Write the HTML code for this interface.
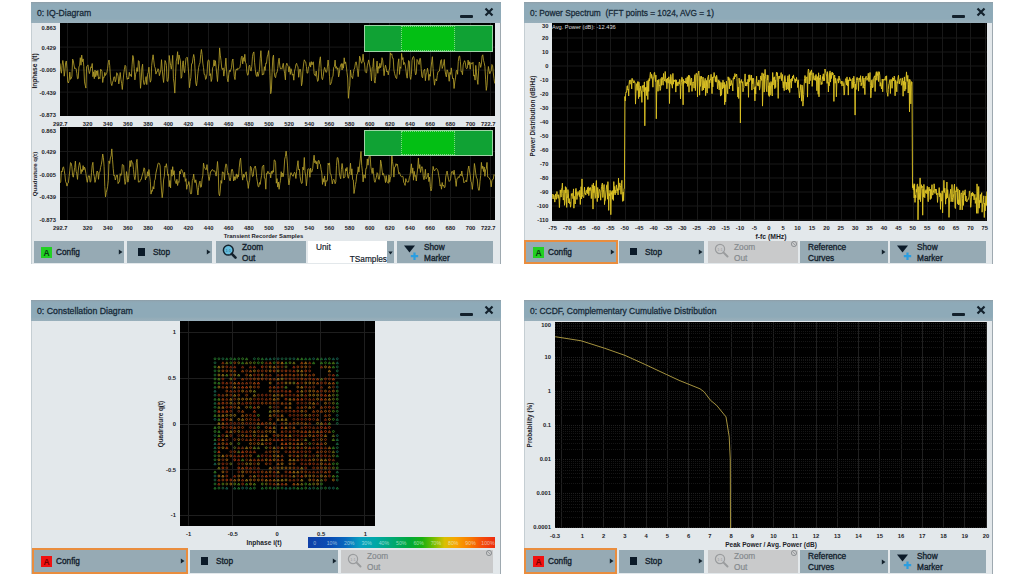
<!DOCTYPE html><html><head><meta charset="utf-8"><style>
html,body{margin:0;padding:0;background:#fff;width:1024px;height:576px;overflow:hidden;font-family:"Liberation Sans", sans-serif;}
.r{position:absolute;}
.t{position:absolute;white-space:nowrap;line-height:1;}
</style></head><body>
<div class="r" style="left:31px;top:2px;width:470px;height:262px;background:#e3e8eb;box-shadow:inset -1px 0 0 #9ea9b0, inset 1px 0 0 #c5ced3;"></div>
<div class="r" style="left:31px;top:2px;width:470px;height:21px;background:linear-gradient(180deg,#8e9ca4 0px,#8fa6b3 1px,#8eaab8 3px,#8eaab8 17px,#96adb9 19px,#98afbb 21px);"></div>
<div class="t" style="left:37px;top:12.5px;transform:translate(0,-50%);"><div style="font-size:9.6px;font-weight:normal;color:#172a38;transform:scaleX(0.9);transform-origin:0 50%;-webkit-text-stroke:0.3px #172a38;">0: IQ-Diagram</div></div>
<div class="r" style="left:460px;top:15px;width:13px;height:3px;background:#13212c;border-radius:1px;"></div>
<svg class="r" style="left:484px;top:7px" width="10" height="10" viewBox="0 0 10 10"><path d="M1.5 1.5 L8.5 8.5 M8.5 1.5 L1.5 8.5" stroke="#13212c" stroke-width="2.2"/></svg>
<div class="r" style="left:524px;top:2px;width:469px;height:262px;background:#e3e8eb;box-shadow:inset -1px 0 0 #9ea9b0, inset 1px 0 0 #c5ced3;"></div>
<div class="r" style="left:524px;top:2px;width:469px;height:21px;background:linear-gradient(180deg,#8e9ca4 0px,#8fa6b3 1px,#8eaab8 3px,#8eaab8 17px,#96adb9 19px,#98afbb 21px);"></div>
<div class="t" style="left:530px;top:12.5px;transform:translate(0,-50%);"><div style="font-size:9.6px;font-weight:normal;color:#172a38;transform:scaleX(0.868);transform-origin:0 50%;-webkit-text-stroke:0.3px #172a38;">0: Power Spectrum&nbsp; (FFT points = 1024, AVG = 1)</div></div>
<div class="r" style="left:952px;top:15px;width:13px;height:3px;background:#13212c;border-radius:1px;"></div>
<svg class="r" style="left:976px;top:7px" width="10" height="10" viewBox="0 0 10 10"><path d="M1.5 1.5 L8.5 8.5 M8.5 1.5 L1.5 8.5" stroke="#13212c" stroke-width="2.2"/></svg>
<div class="r" style="left:31px;top:300px;width:470px;height:274px;background:#e3e8eb;box-shadow:inset -1px 0 0 #9ea9b0, inset 1px 0 0 #c5ced3;"></div>
<div class="r" style="left:31px;top:300px;width:470px;height:21px;background:linear-gradient(180deg,#8e9ca4 0px,#8fa6b3 1px,#8eaab8 3px,#8eaab8 17px,#96adb9 19px,#98afbb 21px);"></div>
<div class="t" style="left:37px;top:310.5px;transform:translate(0,-50%);"><div style="font-size:9.6px;font-weight:normal;color:#172a38;transform:scaleX(0.912);transform-origin:0 50%;-webkit-text-stroke:0.3px #172a38;">0: Constellation Diagram</div></div>
<div class="r" style="left:460px;top:313px;width:13px;height:3px;background:#13212c;border-radius:1px;"></div>
<svg class="r" style="left:484px;top:305px" width="10" height="10" viewBox="0 0 10 10"><path d="M1.5 1.5 L8.5 8.5 M8.5 1.5 L1.5 8.5" stroke="#13212c" stroke-width="2.2"/></svg>
<div class="r" style="left:524px;top:300px;width:469px;height:274px;background:#e3e8eb;box-shadow:inset -1px 0 0 #9ea9b0, inset 1px 0 0 #c5ced3;"></div>
<div class="r" style="left:524px;top:300px;width:469px;height:21px;background:linear-gradient(180deg,#8e9ca4 0px,#8fa6b3 1px,#8eaab8 3px,#8eaab8 17px,#96adb9 19px,#98afbb 21px);"></div>
<div class="t" style="left:530px;top:310.5px;transform:translate(0,-50%);"><div style="font-size:9.6px;font-weight:normal;color:#172a38;transform:scaleX(0.885);transform-origin:0 50%;-webkit-text-stroke:0.3px #172a38;">0: CCDF, Complementary Cumulative Distribution</div></div>
<div class="r" style="left:952px;top:313px;width:13px;height:3px;background:#13212c;border-radius:1px;"></div>
<svg class="r" style="left:976px;top:305px" width="10" height="10" viewBox="0 0 10 10"><path d="M1.5 1.5 L8.5 8.5 M8.5 1.5 L1.5 8.5" stroke="#13212c" stroke-width="2.2"/></svg>
<div class="r" style="left:60px;top:23.4px;width:435px;height:92.6px;background:#000;"></div>
<svg class="r" style="left:60px;top:23.4px;overflow:hidden" width="435" height="92.6" viewBox="60 23.4 435 92.6">
<line x1="67.5" y1="23.4" x2="67.5" y2="116" stroke="#181818" stroke-width="1"/>
<line x1="87.5" y1="23.4" x2="87.5" y2="116" stroke="#181818" stroke-width="1"/>
<line x1="107.5" y1="23.4" x2="107.5" y2="116" stroke="#181818" stroke-width="1"/>
<line x1="127.5" y1="23.4" x2="127.5" y2="116" stroke="#181818" stroke-width="1"/>
<line x1="148.5" y1="23.4" x2="148.5" y2="116" stroke="#181818" stroke-width="1"/>
<line x1="168.5" y1="23.4" x2="168.5" y2="116" stroke="#181818" stroke-width="1"/>
<line x1="188.5" y1="23.4" x2="188.5" y2="116" stroke="#181818" stroke-width="1"/>
<line x1="208.5" y1="23.4" x2="208.5" y2="116" stroke="#181818" stroke-width="1"/>
<line x1="228.5" y1="23.4" x2="228.5" y2="116" stroke="#181818" stroke-width="1"/>
<line x1="248.5" y1="23.4" x2="248.5" y2="116" stroke="#181818" stroke-width="1"/>
<line x1="269.5" y1="23.4" x2="269.5" y2="116" stroke="#181818" stroke-width="1"/>
<line x1="289.5" y1="23.4" x2="289.5" y2="116" stroke="#181818" stroke-width="1"/>
<line x1="309.5" y1="23.4" x2="309.5" y2="116" stroke="#181818" stroke-width="1"/>
<line x1="329.5" y1="23.4" x2="329.5" y2="116" stroke="#181818" stroke-width="1"/>
<line x1="349.5" y1="23.4" x2="349.5" y2="116" stroke="#181818" stroke-width="1"/>
<line x1="369.5" y1="23.4" x2="369.5" y2="116" stroke="#181818" stroke-width="1"/>
<line x1="389.5" y1="23.4" x2="389.5" y2="116" stroke="#181818" stroke-width="1"/>
<line x1="410.5" y1="23.4" x2="410.5" y2="116" stroke="#181818" stroke-width="1"/>
<line x1="430.5" y1="23.4" x2="430.5" y2="116" stroke="#181818" stroke-width="1"/>
<line x1="450.5" y1="23.4" x2="450.5" y2="116" stroke="#181818" stroke-width="1"/>
<line x1="470.5" y1="23.4" x2="470.5" y2="116" stroke="#181818" stroke-width="1"/>
<line x1="490.5" y1="23.4" x2="490.5" y2="116" stroke="#181818" stroke-width="1"/>
<line x1="60" y1="47.5" x2="495" y2="47.5" stroke="#181818" stroke-width="1"/>
<line x1="60" y1="70.5" x2="495" y2="70.5" stroke="#181818" stroke-width="1"/>
<line x1="60" y1="92.5" x2="495" y2="92.5" stroke="#181818" stroke-width="1"/>
<path d="M60.0 63.8 L60.7 70.3 L61.4 73.6 L62.1 65.8 L62.8 60.9 L63.5 65.4 L64.2 76.6 L64.9 71.3 L65.6 63.2 L66.3 61.4 L67.0 69.1 L67.7 82.2 L68.4 83.4 L69.1 80.8 L69.8 72.5 L70.5 79.8 L71.2 78.9 L71.9 76.6 L72.6 59.5 L73.3 61.2 L74.0 65.5 L74.7 69.2 L75.4 68.5 L76.1 69.0 L76.8 73.8 L77.5 79.2 L78.2 78.9 L78.9 67.4 L79.6 65.6 L80.3 58.1 L81.0 65.6 L81.7 55.5 L82.4 62.1 L83.1 59.3 L83.8 67.1 L84.5 82.3 L85.2 85.6 L85.9 88.5 L86.6 67.2 L87.3 66.1 L88.0 65.3 L88.7 71.0 L89.4 74.0 L90.1 71.4 L90.8 67.2 L91.5 68.1 L92.2 63.9 L92.9 77.1 L93.6 72.2 L94.3 79.1 L95.0 70.5 L95.7 77.2 L96.4 71.3 L97.1 75.9 L97.8 70.9 L98.5 79.5 L99.2 77.8 L99.9 79.0 L100.6 69.6 L101.3 70.3 L102.0 71.8 L102.7 82.9 L103.4 77.6 L104.1 78.0 L104.8 72.8 L105.5 75.9 L106.2 74.3 L106.9 72.8 L107.6 68.7 L108.3 63.1 L109.0 60.4 L109.7 65.9 L110.4 77.5 L111.1 83.9 L111.8 86.0 L112.5 82.6 L113.2 81.3 L113.9 77.3 L114.6 77.3 L115.3 82.2 L116.0 79.9 L116.7 73.1 L117.4 74.0 L118.1 76.6 L118.8 84.3 L119.5 79.3 L120.2 72.9 L120.9 79.7 L121.6 83.8 L122.3 89.9 L123.0 82.1 L123.7 74.5 L124.4 69.6 L125.1 65.7 L125.8 66.8 L126.5 76.0 L127.2 79.8 L127.9 78.3 L128.6 79.4 L129.3 72.7 L130.0 76.1 L130.7 74.9 L131.4 77.1 L132.1 65.2 L132.8 55.9 L133.5 58.3 L134.2 69.0 L134.9 80.3 L135.6 74.6 L136.3 72.2 L137.0 68.0 L137.7 71.9 L138.4 61.0 L139.1 61.7 L139.8 73.1 L140.5 88.7 L141.2 80.7 L141.9 68.2 L142.6 64.6 L143.3 80.3 L144.0 85.0 L144.7 84.5 L145.4 80.2 L146.1 77.0 L146.8 85.0 L147.5 74.7 L148.2 72.9 L148.9 67.6 L149.6 77.4 L150.3 82.6 L151.0 80.6 L151.7 65.7 L152.4 59.4 L153.1 55.2 L153.8 61.1 L154.5 67.1 L155.2 68.4 L155.9 74.5 L156.6 72.1 L157.3 72.1 L158.0 69.1 L158.7 70.7 L159.4 76.1 L160.1 73.4 L160.8 70.3 L161.5 60.1 L162.2 69.7 L162.9 77.5 L163.6 82.9 L164.3 73.3 L165.0 60.9 L165.7 62.5 L166.4 65.7 L167.1 81.5 L167.8 81.8 L168.5 77.3 L169.2 55.9 L169.9 61.3 L170.6 65.8 L171.3 69.6 L172.0 64.0 L172.7 55.7 L173.4 79.1 L174.1 83.4 L174.8 93.5 L175.5 76.7 L176.2 61.6 L176.9 58.4 L177.6 52.1 L178.3 64.7 L179.0 55.4 L179.7 58.4 L180.4 61.2 L181.1 78.7 L181.8 77.4 L182.5 64.7 L183.2 61.2 L183.9 70.6 L184.6 73.1 L185.3 65.8 L186.0 58.7 L186.7 57.8 L187.4 57.9 L188.1 66.8 L188.8 75.5 L189.5 88.1 L190.2 81.9 L190.9 78.1 L191.6 64.1 L192.3 63.9 L193.0 58.5 L193.7 54.9 L194.4 58.6 L195.1 71.3 L195.8 83.4 L196.5 86.3 L197.2 80.8 L197.9 73.7 L198.6 67.9 L199.3 65.0 L200.0 63.2 L200.7 55.0 L201.4 49.9 L202.1 55.0 L202.8 63.5 L203.5 68.1 L204.2 74.8 L204.9 74.9 L205.6 79.8 L206.3 78.8 L207.0 74.2 L207.7 62.4 L208.4 60.3 L209.1 60.9 L209.8 76.0 L210.5 74.1 L211.2 81.9 L211.9 79.4 L212.6 68.2 L213.3 66.9 L214.0 60.3 L214.7 66.4 L215.4 61.1 L216.1 67.7 L216.8 75.3 L217.5 81.9 L218.2 70.8 L218.9 64.0 L219.6 48.3 L220.3 55.5 L221.0 61.0 L221.7 68.4 L222.4 70.0 L223.1 68.3 L223.8 76.5 L224.5 71.6 L225.2 66.7 L225.9 58.5 L226.6 70.4 L227.3 79.2 L228.0 82.2 L228.7 75.2 L229.4 70.7 L230.1 72.2 L230.8 70.2 L231.5 68.1 L232.2 61.4 L232.9 59.4 L233.6 68.5 L234.3 76.8 L235.0 80.0 L235.7 71.4 L236.4 69.3 L237.1 70.6 L237.8 68.6 L238.5 69.2 L239.2 68.7 L239.9 68.2 L240.6 63.7 L241.3 58.0 L242.0 56.5 L242.7 64.3 L243.4 58.0 L244.1 61.7 L244.8 54.7 L245.5 62.8 L246.2 64.4 L246.9 72.5 L247.6 75.7 L248.3 74.6 L249.0 66.5 L249.7 65.6 L250.4 70.5 L251.1 71.5 L251.8 66.8 L252.5 56.7 L253.2 53.5 L253.9 52.3 L254.6 63.2 L255.3 70.0 L256.0 75.3 L256.7 76.9 L257.4 72.3 L258.1 76.8 L258.8 73.8 L259.5 69.7 L260.2 59.1 L260.9 51.1 L261.6 62.4 L262.3 75.5 L263.0 74.2 L263.7 74.8 L264.4 67.1 L265.1 70.9 L265.8 63.5 L266.5 63.8 L267.2 57.3 L267.9 55.2 L268.6 51.0 L269.3 61.6 L270.0 75.9 L270.7 94.1 L271.4 90.3 L272.1 72.8 L272.8 58.3 L273.5 55.5 L274.2 72.6 L274.9 77.1 L275.6 78.1 L276.3 73.2 L277.0 73.1 L277.7 69.0 L278.4 62.2 L279.1 58.6 L279.8 66.2 L280.5 69.3 L281.2 68.8 L281.9 69.6 L282.6 66.3 L283.3 63.7 L284.0 69.8 L284.7 74.2 L285.4 80.3 L286.1 66.0 L286.8 63.6 L287.5 65.3 L288.2 66.7 L288.9 72.5 L289.6 67.0 L290.3 74.8 L291.0 69.1 L291.7 71.9 L292.4 75.6 L293.1 74.4 L293.8 80.6 L294.5 71.4 L295.2 69.0 L295.9 65.0 L296.6 63.7 L297.3 66.3 L298.0 67.2 L298.7 77.7 L299.4 71.2 L300.1 69.4 L300.8 72.5 L301.5 86.2 L302.2 82.7 L302.9 71.3 L303.6 64.4 L304.3 60.2 L305.0 61.8 L305.7 62.3 L306.4 66.9 L307.1 73.6 L307.8 73.4 L308.5 67.3 L309.2 66.7 L309.9 62.8 L310.6 67.5 L311.3 62.0 L312.0 65.4 L312.7 62.8 L313.4 62.3 L314.1 74.0 L314.8 75.8 L315.5 76.3 L316.2 71.4 L316.9 77.6 L317.6 81.8 L318.3 80.6 L319.0 68.1 L319.7 60.6 L320.4 57.2 L321.1 68.6 L321.8 78.5 L322.5 80.1 L323.2 76.7 L323.9 70.9 L324.6 67.8 L325.3 70.0 L326.0 72.9 L326.7 72.3 L327.4 67.5 L328.1 60.4 L328.8 67.0 L329.5 76.7 L330.2 85.2 L330.9 84.1 L331.6 82.0 L332.3 77.4 L333.0 76.6 L333.7 67.9 L334.4 66.9 L335.1 60.5 L335.8 68.7 L336.5 67.0 L337.2 69.8 L337.9 68.3 L338.6 77.3 L339.3 74.1 L340.0 67.9 L340.7 65.5 L341.4 64.0 L342.1 70.4 L342.8 64.0 L343.5 68.6 L344.2 58.2 L344.9 64.1 L345.6 62.3 L346.3 66.5 L347.0 72.8 L347.7 78.4 L348.4 98.7 L349.1 91.0 L349.8 86.1 L350.5 70.4 L351.2 76.0 L351.9 77.4 L352.6 79.0 L353.3 74.0 L354.0 69.9 L354.7 68.4 L355.4 63.7 L356.1 62.2 L356.8 65.6 L357.5 71.0 L358.2 77.1 L358.9 68.9 L359.6 56.6 L360.3 58.5 L361.0 62.2 L361.7 63.7 L362.4 61.2 L363.1 54.6 L363.8 62.3 L364.5 63.2 L365.2 71.8 L365.9 73.0 L366.6 73.1 L367.3 66.2 L368.0 63.4 L368.7 60.3 L369.4 64.5 L370.1 67.5 L370.8 72.7 L371.5 81.3 L372.2 68.2 L372.9 67.2 L373.6 58.8 L374.3 81.1 L375.0 83.5 L375.7 76.8 L376.4 68.2 L377.1 61.5 L377.8 73.7 L378.5 67.0 L379.2 68.9 L379.9 63.7 L380.6 68.1 L381.3 65.9 L382.0 58.1 L382.7 60.6 L383.4 67.9 L384.1 76.1 L384.8 69.3 L385.5 65.6 L386.2 68.5 L386.9 72.4 L387.6 71.4 L388.3 75.3 L389.0 70.9 L389.7 68.4 L390.4 53.2 L391.1 55.1 L391.8 54.2 L392.5 58.6 L393.2 58.6 L393.9 70.3 L394.6 73.8 L395.3 76.5 L396.0 78.4 L396.7 79.0 L397.4 71.5 L398.1 63.3 L398.8 59.2 L399.5 74.8 L400.2 67.2 L400.9 68.8 L401.6 53.8 L402.3 60.0 L403.0 58.0 L403.7 65.1 L404.4 62.9 L405.1 64.8 L405.8 69.4 L406.5 75.5 L407.2 78.6 L407.9 70.1 L408.6 60.9 L409.3 61.8 L410.0 77.0 L410.7 79.8 L411.4 75.0 L412.1 60.7 L412.8 57.8 L413.5 56.9 L414.2 59.2 L414.9 70.8 L415.6 75.3 L416.3 73.9 L417.0 59.9 L417.7 60.9 L418.4 63.1 L419.1 64.9 L419.8 58.9 L420.5 58.8 L421.2 69.1 L421.9 77.0 L422.6 78.2 L423.3 72.0 L424.0 70.6 L424.7 69.6 L425.4 81.1 L426.1 74.4 L426.8 72.8 L427.5 68.6 L428.2 72.6 L428.9 80.8 L429.6 74.8 L430.3 76.7 L431.0 68.4 L431.7 62.3 L432.4 57.1 L433.1 69.0 L433.8 78.4 L434.5 85.6 L435.2 79.8 L435.9 79.5 L436.6 81.4 L437.3 75.8 L438.0 72.1 L438.7 71.9 L439.4 71.5 L440.1 66.4 L440.8 60.9 L441.5 60.0 L442.2 68.9 L442.9 66.7 L443.6 64.3 L444.3 59.9 L445.0 70.4 L445.7 75.1 L446.4 77.3 L447.1 70.2 L447.8 71.8 L448.5 75.3 L449.2 81.7 L449.9 72.8 L450.6 74.8 L451.3 68.3 L452.0 74.4 L452.7 79.2 L453.4 78.5 L454.1 88.9 L454.8 82.3 L455.5 78.3 L456.2 71.6 L456.9 70.6 L457.6 74.7 L458.3 61.8 L459.0 56.8 L459.7 56.5 L460.4 62.1 L461.1 72.1 L461.8 71.8 L462.5 75.1 L463.2 65.3 L463.9 62.9 L464.6 61.1 L465.3 62.9 L466.0 68.0 L466.7 69.2 L467.4 68.4 L468.1 60.5 L468.8 65.2 L469.5 62.2 L470.2 69.6 L470.9 63.0 L471.6 64.1 L472.3 64.1 L473.0 62.7 L473.7 76.5 L474.4 75.3 L475.1 80.5 L475.8 65.8 L476.5 73.3 L477.2 80.0 L477.9 84.8 L478.6 71.1 L479.3 62.4 L480.0 63.9 L480.7 67.8 L481.4 64.7 L482.1 56.4 L482.8 55.2 L483.5 60.7 L484.2 63.2 L484.9 66.8 L485.6 79.6 L486.3 90.8 L487.0 85.9 L487.7 74.6 L488.4 66.9 L489.1 71.0 L489.8 74.2 L490.5 72.3 L491.2 71.4 L491.9 64.9 L492.6 66.0 L493.3 73.4 L494.0 78.7 L494.7 83.9" fill="none" stroke="#b49e2a" stroke-width="0.85" stroke-linejoin="round"/>
</svg>
<div class="r" style="left:364px;top:25px;width:129px;height:27px;background:#10a234;box-shadow:inset 0 0 0 1px #9fd4a6;"></div>
<div class="r" style="left:401px;top:26px;width:54px;height:25px;background:#03bf14;border:1px dotted #7ad884;box-sizing:border-box;"></div>
<div class="t" style="left:56px;top:28.7px;font-size:5.8px;font-weight:bold;color:#1c2228;transform:translate(-100%,-50%);">0.863</div>
<div class="t" style="left:56px;top:48.7px;font-size:5.8px;font-weight:bold;color:#1c2228;transform:translate(-100%,-50%);">0.429</div>
<div class="t" style="left:56px;top:71.4px;font-size:5.8px;font-weight:bold;color:#1c2228;transform:translate(-100%,-50%);">-0.005</div>
<div class="t" style="left:56px;top:93.9px;font-size:5.8px;font-weight:bold;color:#1c2228;transform:translate(-100%,-50%);">-0.439</div>
<div class="t" style="left:56px;top:116.2px;font-size:5.8px;font-weight:bold;color:#1c2228;transform:translate(-100%,-50%);">-0.873</div>
<div class="r" style="left:60px;top:127px;width:435px;height:93px;background:#000;"></div>
<svg class="r" style="left:60px;top:127px;overflow:hidden" width="435" height="93" viewBox="60 127 435 93">
<line x1="67.5" y1="127" x2="67.5" y2="220" stroke="#181818" stroke-width="1"/>
<line x1="87.5" y1="127" x2="87.5" y2="220" stroke="#181818" stroke-width="1"/>
<line x1="107.5" y1="127" x2="107.5" y2="220" stroke="#181818" stroke-width="1"/>
<line x1="127.5" y1="127" x2="127.5" y2="220" stroke="#181818" stroke-width="1"/>
<line x1="148.5" y1="127" x2="148.5" y2="220" stroke="#181818" stroke-width="1"/>
<line x1="168.5" y1="127" x2="168.5" y2="220" stroke="#181818" stroke-width="1"/>
<line x1="188.5" y1="127" x2="188.5" y2="220" stroke="#181818" stroke-width="1"/>
<line x1="208.5" y1="127" x2="208.5" y2="220" stroke="#181818" stroke-width="1"/>
<line x1="228.5" y1="127" x2="228.5" y2="220" stroke="#181818" stroke-width="1"/>
<line x1="248.5" y1="127" x2="248.5" y2="220" stroke="#181818" stroke-width="1"/>
<line x1="269.5" y1="127" x2="269.5" y2="220" stroke="#181818" stroke-width="1"/>
<line x1="289.5" y1="127" x2="289.5" y2="220" stroke="#181818" stroke-width="1"/>
<line x1="309.5" y1="127" x2="309.5" y2="220" stroke="#181818" stroke-width="1"/>
<line x1="329.5" y1="127" x2="329.5" y2="220" stroke="#181818" stroke-width="1"/>
<line x1="349.5" y1="127" x2="349.5" y2="220" stroke="#181818" stroke-width="1"/>
<line x1="369.5" y1="127" x2="369.5" y2="220" stroke="#181818" stroke-width="1"/>
<line x1="389.5" y1="127" x2="389.5" y2="220" stroke="#181818" stroke-width="1"/>
<line x1="410.5" y1="127" x2="410.5" y2="220" stroke="#181818" stroke-width="1"/>
<line x1="430.5" y1="127" x2="430.5" y2="220" stroke="#181818" stroke-width="1"/>
<line x1="450.5" y1="127" x2="450.5" y2="220" stroke="#181818" stroke-width="1"/>
<line x1="470.5" y1="127" x2="470.5" y2="220" stroke="#181818" stroke-width="1"/>
<line x1="490.5" y1="127" x2="490.5" y2="220" stroke="#181818" stroke-width="1"/>
<line x1="60" y1="151.5" x2="495" y2="151.5" stroke="#181818" stroke-width="1"/>
<line x1="60" y1="174.5" x2="495" y2="174.5" stroke="#181818" stroke-width="1"/>
<line x1="60" y1="197.5" x2="495" y2="197.5" stroke="#181818" stroke-width="1"/>
<path d="M60.0 182.9 L60.7 182.0 L61.4 171.0 L62.1 172.0 L62.8 167.9 L63.5 166.8 L64.2 170.3 L64.9 174.7 L65.6 181.6 L66.3 183.0 L67.0 186.1 L67.7 183.4 L68.4 182.8 L69.1 176.7 L69.8 170.2 L70.5 162.6 L71.2 163.2 L71.9 166.8 L72.6 175.4 L73.3 177.2 L74.0 172.3 L74.7 167.6 L75.4 161.1 L76.1 171.2 L76.8 173.9 L77.5 179.4 L78.2 170.9 L78.9 165.6 L79.6 162.5 L80.3 166.0 L81.0 173.8 L81.7 169.6 L82.4 171.5 L83.1 165.6 L83.8 170.1 L84.5 167.1 L85.2 169.0 L85.9 173.4 L86.6 178.8 L87.3 182.3 L88.0 177.8 L88.7 175.7 L89.4 175.9 L90.1 182.2 L90.8 181.5 L91.5 172.6 L92.2 165.3 L92.9 162.3 L93.6 173.7 L94.3 176.5 L95.0 182.4 L95.7 179.5 L96.4 174.8 L97.1 171.0 L97.8 172.1 L98.5 179.3 L99.2 172.4 L99.9 171.9 L100.6 167.4 L101.3 164.6 L102.0 160.2 L102.7 154.0 L103.4 157.7 L104.1 166.7 L104.8 186.5 L105.5 196.9 L106.2 192.4 L106.9 189.9 L107.6 186.7 L108.3 180.4 L109.0 160.9 L109.7 163.5 L110.4 157.8 L111.1 155.9 L111.8 148.9 L112.5 159.3 L113.2 168.3 L113.9 175.9 L114.6 175.2 L115.3 180.0 L116.0 177.3 L116.7 175.1 L117.4 175.1 L118.1 183.6 L118.8 182.0 L119.5 181.8 L120.2 173.7 L120.9 175.5 L121.6 174.6 L122.3 164.5 L123.0 165.0 L123.7 165.4 L124.4 178.1 L125.1 184.4 L125.8 181.6 L126.5 171.6 L127.2 175.6 L127.9 182.2 L128.6 178.6 L129.3 168.8 L130.0 160.7 L130.7 166.6 L131.4 160.4 L132.1 162.6 L132.8 163.0 L133.5 169.7 L134.2 176.3 L134.9 179.7 L135.6 175.2 L136.3 162.7 L137.0 159.3 L137.7 170.0 L138.4 182.1 L139.1 181.8 L139.8 181.9 L140.5 179.6 L141.2 179.6 L141.9 176.3 L142.6 174.0 L143.3 171.7 L144.0 167.8 L144.7 168.9 L145.4 179.9 L146.1 177.2 L146.8 177.5 L147.5 171.7 L148.2 176.1 L148.9 169.5 L149.6 175.2 L150.3 181.3 L151.0 194.1 L151.7 190.5 L152.4 191.3 L153.1 186.6 L153.8 189.0 L154.5 180.7 L155.2 179.3 L155.9 173.3 L156.6 170.0 L157.3 167.1 L158.0 163.4 L158.7 163.2 L159.4 163.4 L160.1 165.7 L160.8 180.2 L161.5 190.1 L162.2 197.7 L162.9 191.9 L163.6 180.0 L164.3 176.3 L165.0 166.1 L165.7 167.2 L166.4 163.7 L167.1 168.7 L167.8 175.4 L168.5 174.0 L169.2 186.7 L169.9 180.5 L170.6 187.9 L171.3 169.7 L172.0 176.2 L172.7 166.7 L173.4 174.9 L174.1 170.7 L174.8 180.1 L175.5 181.9 L176.2 183.7 L176.9 179.3 L177.6 185.5 L178.3 181.6 L179.0 182.3 L179.7 171.2 L180.4 174.0 L181.1 169.5 L181.8 169.8 L182.5 171.5 L183.2 173.2 L183.9 177.2 L184.6 172.3 L185.3 181.4 L186.0 178.7 L186.7 189.3 L187.4 185.1 L188.1 185.1 L188.8 181.5 L189.5 184.5 L190.2 192.1 L190.9 194.1 L191.6 192.9 L192.3 180.5 L193.0 178.5 L193.7 174.0 L194.4 181.2 L195.1 182.7 L195.8 179.8 L196.5 184.0 L197.2 189.2 L197.9 195.0 L198.6 187.5 L199.3 182.8 L200.0 181.1 L200.7 187.4 L201.4 186.8 L202.1 179.1 L202.8 175.8 L203.5 163.1 L204.2 166.7 L204.9 168.0 L205.6 169.5 L206.3 169.5 L207.0 164.6 L207.7 171.5 L208.4 176.3 L209.1 180.5 L209.8 176.7 L210.5 171.7 L211.2 171.5 L211.9 169.8 L212.6 169.6 L213.3 170.9 L214.0 171.2 L214.7 170.8 L215.4 172.7 L216.1 176.1 L216.8 170.1 L217.5 161.5 L218.2 170.6 L218.9 193.7 L219.6 195.8 L220.3 190.1 L221.0 180.5 L221.7 183.3 L222.4 171.8 L223.1 173.0 L223.8 172.8 L224.5 180.0 L225.2 168.1 L225.9 163.9 L226.6 164.4 L227.3 170.7 L228.0 174.6 L228.7 173.4 L229.4 179.1 L230.1 180.9 L230.8 177.4 L231.5 170.0 L232.2 169.1 L232.9 171.8 L233.6 181.0 L234.3 176.6 L235.0 180.2 L235.7 176.6 L236.4 173.9 L237.1 178.5 L237.8 174.7 L238.5 176.7 L239.2 167.8 L239.9 161.0 L240.6 158.1 L241.3 168.0 L242.0 175.2 L242.7 180.1 L243.4 174.1 L244.1 177.4 L244.8 175.0 L245.5 173.2 L246.2 171.8 L246.9 180.0 L247.6 182.1 L248.3 188.4 L249.0 182.9 L249.7 180.2 L250.4 166.3 L251.1 167.1 L251.8 171.5 L252.5 176.7 L253.2 176.1 L253.9 168.8 L254.6 167.2 L255.3 166.0 L256.0 170.0 L256.7 177.6 L257.4 181.9 L258.1 186.5 L258.8 186.9 L259.5 182.5 L260.2 184.4 L260.9 179.3 L261.6 175.4 L262.3 166.6 L263.0 166.0 L263.7 165.0 L264.4 178.2 L265.1 178.4 L265.8 189.2 L266.5 173.3 L267.2 173.9 L267.9 171.2 L268.6 173.2 L269.3 173.9 L270.0 172.8 L270.7 177.9 L271.4 171.3 L272.1 173.6 L272.8 170.6 L273.5 172.2 L274.2 159.9 L274.9 160.3 L275.6 162.5 L276.3 183.2 L277.0 178.6 L277.7 187.1 L278.4 182.0 L279.1 189.3 L279.8 183.7 L280.5 180.3 L281.2 171.7 L281.9 177.0 L282.6 173.2 L283.3 176.6 L284.0 170.1 L284.7 159.1 L285.4 156.5 L286.1 151.1 L286.8 156.5 L287.5 165.1 L288.2 177.7 L288.9 184.9 L289.6 180.8 L290.3 175.0 L291.0 172.6 L291.7 174.7 L292.4 175.1 L293.1 176.3 L293.8 173.8 L294.5 172.3 L295.2 173.6 L295.9 178.5 L296.6 171.4 L297.3 166.0 L298.0 160.7 L298.7 169.8 L299.4 169.0 L300.1 176.7 L300.8 181.0 L301.5 183.5 L302.2 183.1 L302.9 167.1 L303.6 169.9 L304.3 157.5 L305.0 171.9 L305.7 176.1 L306.4 185.8 L307.1 178.2 L307.8 169.2 L308.5 168.8 L309.2 169.1 L309.9 177.3 L310.6 168.1 L311.3 172.3 L312.0 171.6 L312.7 168.5 L313.4 160.8 L314.1 155.2 L314.8 162.8 L315.5 160.7 L316.2 164.0 L316.9 161.5 L317.6 169.0 L318.3 160.6 L319.0 160.4 L319.7 163.8 L320.4 164.4 L321.1 169.6 L321.8 173.0 L322.5 184.4 L323.2 178.6 L323.9 182.1 L324.6 175.9 L325.3 186.1 L326.0 180.4 L326.7 181.4 L327.4 180.1 L328.1 163.2 L328.8 165.0 L329.5 162.9 L330.2 173.8 L330.9 174.0 L331.6 178.1 L332.3 183.9 L333.0 180.5 L333.7 179.3 L334.4 180.3 L335.1 183.7 L335.8 181.8 L336.5 165.4 L337.2 157.7 L337.9 157.7 L338.6 162.0 L339.3 173.0 L340.0 176.5 L340.7 178.8 L341.4 169.7 L342.1 163.5 L342.8 169.0 L343.5 178.0 L344.2 177.8 L344.9 177.0 L345.6 168.7 L346.3 171.0 L347.0 167.4 L347.7 176.4 L348.4 178.3 L349.1 174.4 L349.8 171.4 L350.5 163.2 L351.2 175.0 L351.9 168.8 L352.6 179.5 L353.3 179.9 L354.0 193.5 L354.7 189.2 L355.4 184.6 L356.1 181.3 L356.8 174.2 L357.5 173.8 L358.2 166.8 L358.9 172.1 L359.6 165.1 L360.3 158.9 L361.0 151.5 L361.7 165.3 L362.4 171.4 L363.1 181.9 L363.8 174.7 L364.5 175.2 L365.2 178.2 L365.9 168.3 L366.6 168.3 L367.3 158.9 L368.0 165.2 L368.7 158.9 L369.4 155.5 L370.1 154.2 L370.8 166.5 L371.5 170.3 L372.2 173.6 L372.9 167.9 L373.6 173.8 L374.3 180.6 L375.0 182.3 L375.7 179.5 L376.4 177.2 L377.1 172.7 L377.8 173.7 L378.5 179.0 L379.2 179.6 L379.9 174.8 L380.6 160.1 L381.3 163.3 L382.0 170.0 L382.7 175.1 L383.4 173.4 L384.1 175.9 L384.8 177.9 L385.5 182.6 L386.2 175.6 L386.9 181.3 L387.6 182.3 L388.3 183.3 L389.0 174.8 L389.7 182.2 L390.4 178.0 L391.1 176.3 L391.8 153.6 L392.5 161.5 L393.2 166.2 L393.9 177.1 L394.6 167.1 L395.3 166.9 L396.0 163.7 L396.7 165.3 L397.4 164.2 L398.1 169.1 L398.8 173.8 L399.5 172.6 L400.2 174.5 L400.9 176.3 L401.6 176.9 L402.3 176.2 L403.0 176.5 L403.7 182.3 L404.4 183.4 L405.1 185.4 L405.8 178.6 L406.5 180.8 L407.2 182.0 L407.9 182.2 L408.6 181.9 L409.3 177.8 L410.0 175.8 L410.7 170.0 L411.4 163.8 L412.1 173.4 L412.8 167.9 L413.5 180.2 L414.2 171.3 L414.9 176.4 L415.6 175.5 L416.3 181.0 L417.0 174.2 L417.7 167.9 L418.4 158.1 L419.1 168.5 L419.8 164.6 L420.5 172.4 L421.2 168.8 L421.9 166.6 L422.6 168.5 L423.3 177.1 L424.0 179.7 L424.7 175.7 L425.4 169.3 L426.1 178.9 L426.8 177.6 L427.5 176.8 L428.2 173.0 L428.9 181.6 L429.6 177.1 L430.3 186.5 L431.0 190.9 L431.7 188.5 L432.4 173.9 L433.1 166.4 L433.8 169.7 L434.5 170.9 L435.2 169.3 L435.9 168.9 L436.6 168.5 L437.3 169.4 L438.0 171.0 L438.7 175.3 L439.4 179.1 L440.1 185.9 L440.8 184.7 L441.5 189.2 L442.2 182.5 L442.9 186.1 L443.6 185.0 L444.3 187.6 L445.0 187.3 L445.7 177.1 L446.4 173.7 L447.1 171.0 L447.8 175.2 L448.5 179.4 L449.2 181.5 L449.9 180.8 L450.6 178.8 L451.3 173.1 L452.0 171.2 L452.7 171.8 L453.4 174.5 L454.1 170.2 L454.8 175.6 L455.5 180.6 L456.2 186.4 L456.9 178.7 L457.6 178.7 L458.3 176.7 L459.0 177.7 L459.7 175.5 L460.4 174.1 L461.1 175.8 L461.8 171.0 L462.5 176.1 L463.2 177.4 L463.9 182.8 L464.6 182.1 L465.3 181.6 L466.0 180.2 L466.7 181.8 L467.4 176.1 L468.1 169.2 L468.8 166.0 L469.5 170.9 L470.2 175.1 L470.9 181.4 L471.6 182.8 L472.3 189.4 L473.0 183.2 L473.7 175.1 L474.4 163.5 L475.1 167.8 L475.8 174.1 L476.5 178.0 L477.2 178.9 L477.9 186.4 L478.6 190.2 L479.3 190.2 L480.0 181.3 L480.7 175.4 L481.4 162.4 L482.1 168.6 L482.8 166.0 L483.5 171.5 L484.2 167.0 L484.9 176.3 L485.6 169.9 L486.3 168.5 L487.0 162.4 L487.7 177.0 L488.4 177.2 L489.1 177.9 L489.8 179.0 L490.5 180.6 L491.2 186.9 L491.9 180.8 L492.6 179.4 L493.3 179.2 L494.0 174.6 L494.7 175.4" fill="none" stroke="#b49e2a" stroke-width="0.85" stroke-linejoin="round"/>
</svg>
<div class="r" style="left:364px;top:129.5px;width:129px;height:26.5px;background:#10a234;box-shadow:inset 0 0 0 1px #9fd4a6;"></div>
<div class="r" style="left:401px;top:130.5px;width:54px;height:24.5px;background:#03bf14;border:1px dotted #7ad884;box-sizing:border-box;"></div>
<div class="t" style="left:56px;top:132.0px;font-size:5.8px;font-weight:bold;color:#1c2228;transform:translate(-100%,-50%);">0.863</div>
<div class="t" style="left:56px;top:152.7px;font-size:5.8px;font-weight:bold;color:#1c2228;transform:translate(-100%,-50%);">0.429</div>
<div class="t" style="left:56px;top:175.9px;font-size:5.8px;font-weight:bold;color:#1c2228;transform:translate(-100%,-50%);">-0.005</div>
<div class="t" style="left:56px;top:198.4px;font-size:5.8px;font-weight:bold;color:#1c2228;transform:translate(-100%,-50%);">-0.439</div>
<div class="t" style="left:56px;top:220.9px;font-size:5.8px;font-weight:bold;color:#1c2228;transform:translate(-100%,-50%);">-0.873</div>
<div class="t" style="left:53px;top:124.6px;font-size:5.8px;font-weight:bold;color:#1c2228;transform:translate(0,-50%);">292.7</div>
<div class="t" style="left:495.5px;top:124.6px;font-size:5.8px;font-weight:bold;color:#1c2228;transform:translate(-100%,-50%);">722.7</div>
<div class="t" style="left:87.65px;top:124.6px;font-size:5.8px;font-weight:bold;color:#1c2228;transform:translate(-50%,-50%);">320</div>
<div class="t" style="left:107.80000000000001px;top:124.6px;font-size:5.8px;font-weight:bold;color:#1c2228;transform:translate(-50%,-50%);">340</div>
<div class="t" style="left:127.95px;top:124.6px;font-size:5.8px;font-weight:bold;color:#1c2228;transform:translate(-50%,-50%);">360</div>
<div class="t" style="left:148.10000000000002px;top:124.6px;font-size:5.8px;font-weight:bold;color:#1c2228;transform:translate(-50%,-50%);">380</div>
<div class="t" style="left:168.25px;top:124.6px;font-size:5.8px;font-weight:bold;color:#1c2228;transform:translate(-50%,-50%);">400</div>
<div class="t" style="left:188.4px;top:124.6px;font-size:5.8px;font-weight:bold;color:#1c2228;transform:translate(-50%,-50%);">420</div>
<div class="t" style="left:208.55px;top:124.6px;font-size:5.8px;font-weight:bold;color:#1c2228;transform:translate(-50%,-50%);">440</div>
<div class="t" style="left:228.70000000000002px;top:124.6px;font-size:5.8px;font-weight:bold;color:#1c2228;transform:translate(-50%,-50%);">460</div>
<div class="t" style="left:248.85000000000002px;top:124.6px;font-size:5.8px;font-weight:bold;color:#1c2228;transform:translate(-50%,-50%);">480</div>
<div class="t" style="left:269.0px;top:124.6px;font-size:5.8px;font-weight:bold;color:#1c2228;transform:translate(-50%,-50%);">500</div>
<div class="t" style="left:289.15px;top:124.6px;font-size:5.8px;font-weight:bold;color:#1c2228;transform:translate(-50%,-50%);">520</div>
<div class="t" style="left:309.3px;top:124.6px;font-size:5.8px;font-weight:bold;color:#1c2228;transform:translate(-50%,-50%);">540</div>
<div class="t" style="left:329.45px;top:124.6px;font-size:5.8px;font-weight:bold;color:#1c2228;transform:translate(-50%,-50%);">560</div>
<div class="t" style="left:349.6px;top:124.6px;font-size:5.8px;font-weight:bold;color:#1c2228;transform:translate(-50%,-50%);">580</div>
<div class="t" style="left:369.75px;top:124.6px;font-size:5.8px;font-weight:bold;color:#1c2228;transform:translate(-50%,-50%);">600</div>
<div class="t" style="left:389.90000000000003px;top:124.6px;font-size:5.8px;font-weight:bold;color:#1c2228;transform:translate(-50%,-50%);">620</div>
<div class="t" style="left:410.05px;top:124.6px;font-size:5.8px;font-weight:bold;color:#1c2228;transform:translate(-50%,-50%);">640</div>
<div class="t" style="left:430.20000000000005px;top:124.6px;font-size:5.8px;font-weight:bold;color:#1c2228;transform:translate(-50%,-50%);">660</div>
<div class="t" style="left:450.35px;top:124.6px;font-size:5.8px;font-weight:bold;color:#1c2228;transform:translate(-50%,-50%);">680</div>
<div class="t" style="left:470.5px;top:124.6px;font-size:5.8px;font-weight:bold;color:#1c2228;transform:translate(-50%,-50%);">700</div>
<div class="t" style="left:53px;top:229.0px;font-size:5.8px;font-weight:bold;color:#1c2228;transform:translate(0,-50%);">292.7</div>
<div class="t" style="left:495.5px;top:229.0px;font-size:5.8px;font-weight:bold;color:#1c2228;transform:translate(-100%,-50%);">722.7</div>
<div class="t" style="left:87.65px;top:229.0px;font-size:5.8px;font-weight:bold;color:#1c2228;transform:translate(-50%,-50%);">320</div>
<div class="t" style="left:107.80000000000001px;top:229.0px;font-size:5.8px;font-weight:bold;color:#1c2228;transform:translate(-50%,-50%);">340</div>
<div class="t" style="left:127.95px;top:229.0px;font-size:5.8px;font-weight:bold;color:#1c2228;transform:translate(-50%,-50%);">360</div>
<div class="t" style="left:148.10000000000002px;top:229.0px;font-size:5.8px;font-weight:bold;color:#1c2228;transform:translate(-50%,-50%);">380</div>
<div class="t" style="left:168.25px;top:229.0px;font-size:5.8px;font-weight:bold;color:#1c2228;transform:translate(-50%,-50%);">400</div>
<div class="t" style="left:188.4px;top:229.0px;font-size:5.8px;font-weight:bold;color:#1c2228;transform:translate(-50%,-50%);">420</div>
<div class="t" style="left:208.55px;top:229.0px;font-size:5.8px;font-weight:bold;color:#1c2228;transform:translate(-50%,-50%);">440</div>
<div class="t" style="left:228.70000000000002px;top:229.0px;font-size:5.8px;font-weight:bold;color:#1c2228;transform:translate(-50%,-50%);">460</div>
<div class="t" style="left:248.85000000000002px;top:229.0px;font-size:5.8px;font-weight:bold;color:#1c2228;transform:translate(-50%,-50%);">480</div>
<div class="t" style="left:269.0px;top:229.0px;font-size:5.8px;font-weight:bold;color:#1c2228;transform:translate(-50%,-50%);">500</div>
<div class="t" style="left:289.15px;top:229.0px;font-size:5.8px;font-weight:bold;color:#1c2228;transform:translate(-50%,-50%);">520</div>
<div class="t" style="left:309.3px;top:229.0px;font-size:5.8px;font-weight:bold;color:#1c2228;transform:translate(-50%,-50%);">540</div>
<div class="t" style="left:329.45px;top:229.0px;font-size:5.8px;font-weight:bold;color:#1c2228;transform:translate(-50%,-50%);">560</div>
<div class="t" style="left:349.6px;top:229.0px;font-size:5.8px;font-weight:bold;color:#1c2228;transform:translate(-50%,-50%);">580</div>
<div class="t" style="left:369.75px;top:229.0px;font-size:5.8px;font-weight:bold;color:#1c2228;transform:translate(-50%,-50%);">600</div>
<div class="t" style="left:389.90000000000003px;top:229.0px;font-size:5.8px;font-weight:bold;color:#1c2228;transform:translate(-50%,-50%);">620</div>
<div class="t" style="left:410.05px;top:229.0px;font-size:5.8px;font-weight:bold;color:#1c2228;transform:translate(-50%,-50%);">640</div>
<div class="t" style="left:430.20000000000005px;top:229.0px;font-size:5.8px;font-weight:bold;color:#1c2228;transform:translate(-50%,-50%);">660</div>
<div class="t" style="left:450.35px;top:229.0px;font-size:5.8px;font-weight:bold;color:#1c2228;transform:translate(-50%,-50%);">680</div>
<div class="t" style="left:470.5px;top:229.0px;font-size:5.8px;font-weight:bold;color:#1c2228;transform:translate(-50%,-50%);">700</div>
<div class="t" style="left:263.5px;top:236.9px;font-size:5.9px;font-weight:bold;color:#1c2228;transform:translate(-50%,-50%);">Transient Recorder Samples</div>
<div class="t" style="left:35.3px;top:70.5px;font-size:6.6px;font-weight:bold;color:#1c2228;transform:translate(-50%,-50%) rotate(-90deg);">Inphase i(t)</div>
<div class="t" style="left:35px;top:173.5px;font-size:6.1px;font-weight:bold;color:#1c2228;transform:translate(-50%,-50%) rotate(-90deg);">Quadrature q(t)</div>
<div class="r" style="left:552px;top:22.5px;width:435px;height:198.0px;background:#000;"></div>
<svg class="r" style="left:552px;top:22.5px;overflow:hidden" width="435" height="198.0" viewBox="552 22.5 435 198.0">
<line x1="567.5" y1="22.5" x2="567.5" y2="220.5" stroke="#181818" stroke-width="1"/>
<line x1="582.5" y1="22.5" x2="582.5" y2="220.5" stroke="#181818" stroke-width="1"/>
<line x1="596.5" y1="22.5" x2="596.5" y2="220.5" stroke="#181818" stroke-width="1"/>
<line x1="610.5" y1="22.5" x2="610.5" y2="220.5" stroke="#181818" stroke-width="1"/>
<line x1="625.5" y1="22.5" x2="625.5" y2="220.5" stroke="#181818" stroke-width="1"/>
<line x1="639.5" y1="22.5" x2="639.5" y2="220.5" stroke="#181818" stroke-width="1"/>
<line x1="654.5" y1="22.5" x2="654.5" y2="220.5" stroke="#181818" stroke-width="1"/>
<line x1="668.5" y1="22.5" x2="668.5" y2="220.5" stroke="#181818" stroke-width="1"/>
<line x1="682.5" y1="22.5" x2="682.5" y2="220.5" stroke="#181818" stroke-width="1"/>
<line x1="697.5" y1="22.5" x2="697.5" y2="220.5" stroke="#181818" stroke-width="1"/>
<line x1="711.5" y1="22.5" x2="711.5" y2="220.5" stroke="#181818" stroke-width="1"/>
<line x1="726.5" y1="22.5" x2="726.5" y2="220.5" stroke="#181818" stroke-width="1"/>
<line x1="740.5" y1="22.5" x2="740.5" y2="220.5" stroke="#181818" stroke-width="1"/>
<line x1="754.5" y1="22.5" x2="754.5" y2="220.5" stroke="#181818" stroke-width="1"/>
<line x1="769.5" y1="22.5" x2="769.5" y2="220.5" stroke="#181818" stroke-width="1"/>
<line x1="783.5" y1="22.5" x2="783.5" y2="220.5" stroke="#181818" stroke-width="1"/>
<line x1="798.5" y1="22.5" x2="798.5" y2="220.5" stroke="#181818" stroke-width="1"/>
<line x1="812.5" y1="22.5" x2="812.5" y2="220.5" stroke="#181818" stroke-width="1"/>
<line x1="826.5" y1="22.5" x2="826.5" y2="220.5" stroke="#181818" stroke-width="1"/>
<line x1="841.5" y1="22.5" x2="841.5" y2="220.5" stroke="#181818" stroke-width="1"/>
<line x1="855.5" y1="22.5" x2="855.5" y2="220.5" stroke="#181818" stroke-width="1"/>
<line x1="870.5" y1="22.5" x2="870.5" y2="220.5" stroke="#181818" stroke-width="1"/>
<line x1="884.5" y1="22.5" x2="884.5" y2="220.5" stroke="#181818" stroke-width="1"/>
<line x1="898.5" y1="22.5" x2="898.5" y2="220.5" stroke="#181818" stroke-width="1"/>
<line x1="913.5" y1="22.5" x2="913.5" y2="220.5" stroke="#181818" stroke-width="1"/>
<line x1="927.5" y1="22.5" x2="927.5" y2="220.5" stroke="#181818" stroke-width="1"/>
<line x1="942.5" y1="22.5" x2="942.5" y2="220.5" stroke="#181818" stroke-width="1"/>
<line x1="956.5" y1="22.5" x2="956.5" y2="220.5" stroke="#181818" stroke-width="1"/>
<line x1="970.5" y1="22.5" x2="970.5" y2="220.5" stroke="#181818" stroke-width="1"/>
<line x1="985.5" y1="22.5" x2="985.5" y2="220.5" stroke="#181818" stroke-width="1"/>
<line x1="552" y1="37.5" x2="987" y2="37.5" stroke="#181818" stroke-width="1"/>
<line x1="552" y1="51.5" x2="987" y2="51.5" stroke="#181818" stroke-width="1"/>
<line x1="552" y1="65.5" x2="987" y2="65.5" stroke="#181818" stroke-width="1"/>
<line x1="552" y1="79.5" x2="987" y2="79.5" stroke="#181818" stroke-width="1"/>
<line x1="552" y1="93.5" x2="987" y2="93.5" stroke="#181818" stroke-width="1"/>
<line x1="552" y1="107.5" x2="987" y2="107.5" stroke="#181818" stroke-width="1"/>
<line x1="552" y1="121.5" x2="987" y2="121.5" stroke="#181818" stroke-width="1"/>
<line x1="552" y1="135.5" x2="987" y2="135.5" stroke="#181818" stroke-width="1"/>
<line x1="552" y1="149.5" x2="987" y2="149.5" stroke="#181818" stroke-width="1"/>
<line x1="552" y1="163.5" x2="987" y2="163.5" stroke="#181818" stroke-width="1"/>
<line x1="552" y1="177.5" x2="987" y2="177.5" stroke="#181818" stroke-width="1"/>
<line x1="552" y1="191.5" x2="987" y2="191.5" stroke="#181818" stroke-width="1"/>
<line x1="552" y1="205.5" x2="987" y2="205.5" stroke="#181818" stroke-width="1"/>
<line x1="552" y1="219.5" x2="987" y2="219.5" stroke="#181818" stroke-width="1"/>
<path d="M552.2 193.5 L552.6 194.9 L553.1 198.5 L553.5 194.2 L553.9 194.3 L554.3 196.7 L554.8 201.6 L555.2 196.9 L555.6 193.4 L556.0 198.7 L556.5 198.6 L556.9 191.0 L557.3 195.3 L557.7 194.9 L558.2 197.9 L558.6 194.2 L559.0 197.3 L559.4 207.1 L559.9 198.1 L560.3 189.4 L560.7 192.9 L561.1 196.6 L561.6 188.6 L562.0 187.1 L562.4 182.6 L562.8 193.1 L563.3 199.6 L563.7 197.1 L564.1 189.6 L564.5 204.8 L565.0 201.5 L565.4 186.1 L565.8 192.4 L566.2 187.0 L566.7 206.9 L567.1 196.5 L567.5 197.1 L567.9 189.1 L568.4 193.4 L568.8 202.5 L569.2 198.1 L569.6 203.2 L570.1 201.4 L570.5 206.7 L570.9 204.3 L571.3 193.2 L571.8 195.1 L572.2 192.8 L572.6 193.7 L573.0 198.2 L573.5 188.4 L573.9 207.7 L574.3 195.9 L574.7 197.1 L575.2 203.5 L575.6 188.7 L576.0 187.9 L576.4 190.7 L576.9 199.0 L577.3 196.1 L577.7 192.4 L578.1 191.0 L578.6 194.0 L579.0 194.0 L579.4 196.1 L579.8 189.8 L580.3 204.0 L580.7 195.2 L581.1 186.2 L581.5 198.3 L582.0 178.4 L582.4 193.8 L582.8 196.3 L583.2 196.5 L583.7 197.1 L584.1 192.3 L584.5 186.6 L584.9 193.0 L585.4 192.5 L585.8 194.6 L586.2 190.0 L586.6 189.7 L587.1 192.6 L587.5 187.1 L587.9 193.3 L588.3 186.3 L588.8 195.1 L589.2 190.9 L589.6 187.3 L590.0 190.1 L590.5 187.0 L590.9 188.8 L591.3 198.1 L591.7 191.5 L592.2 184.2 L592.6 188.0 L593.0 208.6 L593.4 182.5 L593.9 192.3 L594.3 185.4 L594.7 191.6 L595.1 197.9 L595.6 197.3 L596.0 185.0 L596.4 180.0 L596.8 194.2 L597.3 201.1 L597.7 187.0 L598.1 194.2 L598.5 197.3 L599.0 191.0 L599.4 188.9 L599.8 189.7 L600.2 192.7 L600.7 199.7 L601.1 192.0 L601.5 186.0 L601.9 184.4 L602.4 182.5 L602.8 197.0 L603.2 193.6 L603.6 188.9 L604.1 184.0 L604.5 204.1 L604.9 199.3 L605.3 199.8 L605.8 192.4 L606.2 189.2 L606.6 185.0 L607.0 184.2 L607.5 198.7 L607.9 181.2 L608.3 191.5 L608.7 209.9 L609.2 193.1 L609.6 195.4 L610.0 189.8 L610.4 191.7 L610.8 214.2 L611.3 191.9 L611.7 193.8 L612.1 190.3 L612.5 198.7 L613.0 189.9 L613.4 199.9 L613.8 181.1 L614.2 192.7 L614.7 185.9 L615.1 194.4 L615.5 189.8 L615.9 192.6 L616.4 184.4 L616.8 187.4 L617.2 190.5 L617.6 188.2 L618.1 194.4 L618.5 177.5 L618.9 189.7 L619.3 186.7 L619.8 182.4 L620.2 184.9 L620.6 186.6 L621.0 193.8 L621.5 183.2 L621.9 179.8 L622.3 194.4 L622.7 200.9 L623.2 191.5 L623.6 200.1 L624.0 187.9 L624.4 188.0 L624.9 96.0 L625.3 100.4 L625.7 93.1 L626.1 91.4 L626.6 91.8 L627.0 85.9 L627.4 85.2 L627.8 89.6 L628.3 88.5 L628.7 95.4 L629.1 82.8 L629.5 79.8 L630.0 83.7 L630.4 80.3 L630.8 79.5 L631.2 79.2 L631.7 88.4 L632.1 77.8 L632.5 79.9 L632.9 79.4 L633.4 82.5 L633.8 81.0 L634.2 80.2 L634.6 82.2 L635.1 82.0 L635.5 103.6 L635.9 92.9 L636.3 85.5 L636.8 83.1 L637.2 89.9 L637.6 81.4 L638.0 80.9 L638.5 98.1 L638.9 81.6 L639.3 86.8 L639.7 96.3 L640.2 91.0 L640.6 85.7 L641.0 90.0 L641.4 90.3 L641.9 101.9 L642.3 85.3 L642.7 87.0 L643.1 84.6 L643.6 85.1 L644.0 91.3 L644.4 81.4 L644.8 125.3 L645.3 87.2 L645.7 89.8 L646.1 86.5 L646.5 95.0 L647.0 80.6 L647.4 84.8 L647.8 99.0 L648.2 79.7 L648.7 90.9 L649.1 78.1 L649.5 80.5 L649.9 76.7 L650.4 71.8 L650.8 73.9 L651.2 77.9 L651.6 73.8 L652.1 75.7 L652.5 79.6 L652.9 86.7 L653.3 77.1 L653.8 77.2 L654.2 72.2 L654.6 71.8 L655.0 77.2 L655.5 81.0 L655.9 74.6 L656.3 118.3 L656.7 89.8 L657.2 79.5 L657.6 80.1 L658.0 90.8 L658.4 81.5 L658.9 78.9 L659.3 85.4 L659.7 84.8 L660.1 90.0 L660.6 88.3 L661.0 78.0 L661.4 84.9 L661.8 76.6 L662.3 77.2 L662.7 80.0 L663.1 84.7 L663.5 73.0 L664.0 78.5 L664.4 78.9 L664.8 80.6 L665.2 71.0 L665.7 78.0 L666.1 81.8 L666.5 78.6 L666.9 88.3 L667.4 77.6 L667.8 79.7 L668.2 82.7 L668.6 76.5 L669.0 76.2 L669.5 103.0 L669.9 79.1 L670.3 83.2 L670.7 74.0 L671.2 76.2 L671.6 84.3 L672.0 84.1 L672.4 87.7 L672.9 72.9 L673.3 83.7 L673.7 79.3 L674.1 81.2 L674.6 79.8 L675.0 80.6 L675.4 79.2 L675.8 91.6 L676.3 79.4 L676.7 85.6 L677.1 81.7 L677.5 84.6 L678.0 85.3 L678.4 81.3 L678.8 81.9 L679.2 83.7 L679.7 78.9 L680.1 80.3 L680.5 98.4 L680.9 85.9 L681.4 81.7 L681.8 76.7 L682.2 77.0 L682.6 80.7 L683.1 104.3 L683.5 79.0 L683.9 83.0 L684.3 81.6 L684.8 80.5 L685.2 81.3 L685.6 82.6 L686.0 77.6 L686.5 83.2 L686.9 82.3 L687.3 76.2 L687.7 85.9 L688.2 82.4 L688.6 74.7 L689.0 91.7 L689.4 75.0 L689.9 77.1 L690.3 80.6 L690.7 84.8 L691.1 78.8 L691.6 77.5 L692.0 90.9 L692.4 82.8 L692.8 81.7 L693.3 81.4 L693.7 83.2 L694.1 87.7 L694.5 77.5 L695.0 74.1 L695.4 90.1 L695.8 81.8 L696.2 72.7 L696.7 73.0 L697.1 74.8 L697.5 96.4 L697.9 75.0 L698.4 71.6 L698.8 70.5 L699.2 76.9 L699.6 94.7 L700.1 75.9 L700.5 85.9 L700.9 79.0 L701.3 75.5 L701.8 78.8 L702.2 90.2 L702.6 84.8 L703.0 76.5 L703.5 89.5 L703.9 80.0 L704.3 81.4 L704.7 87.5 L705.2 77.9 L705.6 95.1 L706.0 88.9 L706.4 79.9 L706.9 91.1 L707.3 92.6 L707.7 77.5 L708.1 76.1 L708.6 74.5 L709.0 87.8 L709.4 79.7 L709.8 82.3 L710.3 78.4 L710.7 79.3 L711.1 73.8 L711.5 80.6 L712.0 93.2 L712.4 76.6 L712.8 86.4 L713.2 76.3 L713.7 77.1 L714.1 72.0 L714.5 75.9 L714.9 75.5 L715.4 81.1 L715.8 76.4 L716.2 81.7 L716.6 74.8 L717.1 77.9 L717.5 88.3 L717.9 85.6 L718.3 83.2 L718.8 79.3 L719.2 89.4 L719.6 80.6 L720.0 81.7 L720.5 95.6 L720.9 82.0 L721.3 94.8 L721.7 92.6 L722.2 82.2 L722.6 88.5 L723.0 79.7 L723.4 84.2 L723.9 87.4 L724.3 81.9 L724.7 104.2 L725.1 84.0 L725.6 101.5 L726.0 94.6 L726.4 80.6 L726.8 83.4 L727.3 89.9 L727.7 93.3 L728.1 76.3 L728.5 79.6 L728.9 77.0 L729.4 88.3 L729.8 78.1 L730.2 81.9 L730.6 85.4 L731.1 83.7 L731.5 80.0 L731.9 83.9 L732.3 83.3 L732.8 90.5 L733.2 77.8 L733.6 78.9 L734.0 76.0 L734.5 78.5 L734.9 73.1 L735.3 76.2 L735.7 74.8 L736.2 74.9 L736.6 73.5 L737.0 77.9 L737.4 88.5 L737.9 96.6 L738.3 86.6 L738.7 98.0 L739.1 77.6 L739.6 82.8 L740.0 80.4 L740.4 122.5 L740.8 83.5 L741.3 79.0 L741.7 81.4 L742.1 82.3 L742.5 81.2 L743.0 91.3 L743.4 87.8 L743.8 87.1 L744.2 80.5 L744.7 79.7 L745.1 73.4 L745.5 85.5 L745.9 82.3 L746.4 81.9 L746.8 85.6 L747.2 81.8 L747.6 83.3 L748.1 78.7 L748.5 96.8 L748.9 74.4 L749.3 81.3 L749.8 74.3 L750.2 77.4 L750.6 77.7 L751.0 79.9 L751.5 74.6 L751.9 89.6 L752.3 77.8 L752.7 83.3 L753.2 78.1 L753.6 77.7 L754.0 88.3 L754.4 87.2 L754.9 100.4 L755.3 86.1 L755.7 93.5 L756.1 82.8 L756.6 75.7 L757.0 83.7 L757.4 84.9 L757.8 82.0 L758.3 85.6 L758.7 79.5 L759.1 80.0 L759.5 89.6 L760.0 86.6 L760.4 79.2 L760.8 75.4 L761.2 78.4 L761.7 79.9 L762.1 72.3 L762.5 105.6 L762.9 90.6 L763.4 73.2 L763.8 76.8 L764.2 91.6 L764.6 75.2 L765.1 68.9 L765.5 75.7 L765.9 78.8 L766.3 88.5 L766.8 91.2 L767.2 74.4 L767.6 79.5 L768.0 74.8 L768.5 94.8 L768.9 85.3 L769.3 96.0 L769.7 82.1 L770.2 94.7 L770.6 84.7 L771.0 81.0 L771.4 82.5 L771.9 93.7 L772.3 95.5 L772.7 72.0 L773.1 84.6 L773.6 77.1 L774.0 78.1 L774.4 76.3 L774.8 88.2 L775.3 79.6 L775.7 87.0 L776.1 75.8 L776.5 71.5 L777.0 75.1 L777.4 72.2 L777.8 82.0 L778.2 97.9 L778.7 75.8 L779.1 76.4 L779.5 75.7 L779.9 78.3 L780.4 75.0 L780.8 74.0 L781.2 72.1 L781.6 80.1 L782.1 77.7 L782.5 74.0 L782.9 83.3 L783.3 87.6 L783.8 81.2 L784.2 90.2 L784.6 75.9 L785.0 75.1 L785.5 81.3 L785.9 86.8 L786.3 89.5 L786.7 81.7 L787.2 88.6 L787.6 77.3 L788.0 75.3 L788.4 80.9 L788.8 89.8 L789.3 74.1 L789.7 92.0 L790.1 82.7 L790.5 80.2 L791.0 78.5 L791.4 87.6 L791.8 77.8 L792.2 80.6 L792.7 75.5 L793.1 77.7 L793.5 74.4 L793.9 77.9 L794.4 77.9 L794.8 80.4 L795.2 82.2 L795.6 78.8 L796.1 80.6 L796.5 76.9 L796.9 80.3 L797.3 80.8 L797.8 87.1 L798.2 79.3 L798.6 84.3 L799.0 92.5 L799.5 97.5 L799.9 92.1 L800.3 89.8 L800.7 84.1 L801.2 90.2 L801.6 100.7 L802.0 84.5 L802.4 86.5 L802.9 105.6 L803.3 101.0 L803.7 93.9 L804.1 85.5 L804.6 77.9 L805.0 75.0 L805.4 77.5 L805.8 82.6 L806.3 76.7 L806.7 76.9 L807.1 76.3 L807.5 96.6 L808.0 71.3 L808.4 68.5 L808.8 69.7 L809.2 83.5 L809.7 72.3 L810.1 80.2 L810.5 71.1 L810.9 74.4 L811.4 69.4 L811.8 72.2 L812.2 85.9 L812.6 79.6 L813.1 72.3 L813.5 77.8 L813.9 79.1 L814.3 79.6 L814.8 77.0 L815.2 75.2 L815.6 79.9 L816.0 74.0 L816.5 78.8 L816.9 90.2 L817.3 76.0 L817.7 79.9 L818.2 93.8 L818.6 72.3 L819.0 96.3 L819.4 77.7 L819.9 78.9 L820.3 74.5 L820.7 80.0 L821.1 84.2 L821.6 82.0 L822.0 83.7 L822.4 76.1 L822.8 78.6 L823.3 73.3 L823.7 80.4 L824.1 77.8 L824.5 80.1 L825.0 68.5 L825.4 71.3 L825.8 71.1 L826.2 73.3 L826.7 75.5 L827.1 82.9 L827.5 71.2 L827.9 74.5 L828.4 91.5 L828.8 81.7 L829.2 85.3 L829.6 72.2 L830.1 70.4 L830.5 81.6 L830.9 72.3 L831.3 78.1 L831.8 73.3 L832.2 71.5 L832.6 74.4 L833.0 72.6 L833.5 77.6 L833.9 100.9 L834.3 75.5 L834.7 74.6 L835.2 82.7 L835.6 77.7 L836.0 79.7 L836.4 96.3 L836.9 81.1 L837.3 80.2 L837.7 79.6 L838.1 78.1 L838.6 82.6 L839.0 75.5 L839.4 79.2 L839.8 78.2 L840.3 81.1 L840.7 81.5 L841.1 83.3 L841.5 80.5 L842.0 85.6 L842.4 82.1 L842.8 80.9 L843.2 82.3 L843.7 86.1 L844.1 94.6 L844.5 93.5 L844.9 83.5 L845.4 80.2 L845.8 78.1 L846.2 78.8 L846.6 84.6 L847.0 76.4 L847.5 85.5 L847.9 79.2 L848.3 94.6 L848.7 79.5 L849.2 80.4 L849.6 76.9 L850.0 78.0 L850.4 80.3 L850.9 78.8 L851.3 79.9 L851.7 81.0 L852.1 88.1 L852.6 81.6 L853.0 77.5 L853.4 87.0 L853.8 75.7 L854.3 81.3 L854.7 83.3 L855.1 114.6 L855.5 83.5 L856.0 89.0 L856.4 80.2 L856.8 77.2 L857.2 76.8 L857.7 80.0 L858.1 82.4 L858.5 90.6 L858.9 77.8 L859.4 79.1 L859.8 77.3 L860.2 81.3 L860.6 75.2 L861.1 85.3 L861.5 82.8 L861.9 83.9 L862.3 78.5 L862.8 75.7 L863.2 87.7 L863.6 79.1 L864.0 77.6 L864.5 85.9 L864.9 94.1 L865.3 79.4 L865.7 76.5 L866.2 75.7 L866.6 77.0 L867.0 79.8 L867.4 78.5 L867.9 77.2 L868.3 72.8 L868.7 80.5 L869.1 81.2 L869.6 76.6 L870.0 72.0 L870.4 85.2 L870.8 97.3 L871.3 90.0 L871.7 79.6 L872.1 79.2 L872.5 87.3 L873.0 86.7 L873.4 78.1 L873.8 77.2 L874.2 76.3 L874.7 75.3 L875.1 91.0 L875.5 77.0 L875.9 73.3 L876.4 71.2 L876.8 79.7 L877.2 73.0 L877.6 75.0 L878.1 71.1 L878.5 81.0 L878.9 73.2 L879.3 71.3 L879.8 74.9 L880.2 85.7 L880.6 82.1 L881.0 84.0 L881.5 88.4 L881.9 86.4 L882.3 78.5 L882.7 91.3 L883.2 78.8 L883.6 79.8 L884.0 79.1 L884.4 78.8 L884.9 79.8 L885.3 76.8 L885.7 75.8 L886.1 79.8 L886.6 75.3 L887.0 91.9 L887.4 92.3 L887.8 95.8 L888.3 89.0 L888.7 84.6 L889.1 83.0 L889.5 80.2 L890.0 79.1 L890.4 93.0 L890.8 81.6 L891.2 78.9 L891.7 80.4 L892.1 87.8 L892.5 77.1 L892.9 80.5 L893.4 77.6 L893.8 80.3 L894.2 75.5 L894.6 76.6 L895.1 95.3 L895.5 79.7 L895.9 80.0 L896.3 85.6 L896.8 91.3 L897.2 81.2 L897.6 82.7 L898.0 77.4 L898.5 74.8 L898.9 81.2 L899.3 83.5 L899.7 80.3 L900.2 78.5 L900.6 78.1 L901.0 80.2 L901.4 84.8 L901.9 83.7 L902.3 77.4 L902.7 80.6 L903.1 95.7 L903.6 80.7 L904.0 84.3 L904.4 76.4 L904.8 90.6 L905.3 81.7 L905.7 88.7 L906.1 77.7 L906.5 71.4 L906.9 77.9 L907.4 80.8 L907.8 74.9 L908.2 92.5 L908.6 84.0 L909.1 78.8 L909.5 111.4 L909.9 79.1 L910.3 83.5 L910.8 103.4 L911.2 85.6 L911.6 81.1 L912.0 81.7 L912.5 187.2 L912.9 183.2 L913.3 189.2 L913.7 185.0 L914.2 197.5 L914.6 183.3 L915.0 201.9 L915.4 194.5 L915.9 197.2 L916.3 188.8 L916.7 191.7 L917.1 183.9 L917.6 183.6 L918.0 219.3 L918.4 200.0 L918.8 186.1 L919.3 199.0 L919.7 192.2 L920.1 177.4 L920.5 201.1 L921.0 190.4 L921.4 184.2 L921.8 187.4 L922.2 185.5 L922.7 214.7 L923.1 188.8 L923.5 196.6 L923.9 183.9 L924.4 195.6 L924.8 197.2 L925.2 190.1 L925.6 192.3 L926.1 189.1 L926.5 191.7 L926.9 193.2 L927.3 185.8 L927.8 197.2 L928.2 201.2 L928.6 188.6 L929.0 186.6 L929.5 190.3 L929.9 188.5 L930.3 199.0 L930.7 188.9 L931.2 198.0 L931.6 188.7 L932.0 184.2 L932.4 194.5 L932.9 194.5 L933.3 190.1 L933.7 191.8 L934.1 183.3 L934.6 188.2 L935.0 193.0 L935.4 188.5 L935.8 190.1 L936.3 188.7 L936.7 194.4 L937.1 192.5 L937.5 201.9 L938.0 195.2 L938.4 193.1 L938.8 192.9 L939.2 187.1 L939.7 196.3 L940.1 192.3 L940.5 208.8 L940.9 193.1 L941.4 200.6 L941.8 200.4 L942.2 190.3 L942.6 212.4 L943.1 191.3 L943.5 191.1 L943.9 179.8 L944.3 192.1 L944.8 187.7 L945.2 190.9 L945.6 203.7 L946.0 193.1 L946.5 198.2 L946.9 181.5 L947.3 197.3 L947.7 189.2 L948.2 197.5 L948.6 197.6 L949.0 216.9 L949.4 203.5 L949.9 193.6 L950.3 192.6 L950.7 188.7 L951.1 201.2 L951.6 198.8 L952.0 184.0 L952.4 196.7 L952.8 201.4 L953.3 197.6 L953.7 192.9 L954.1 186.9 L954.5 183.6 L955.0 206.6 L955.4 208.0 L955.8 190.3 L956.2 191.3 L956.7 186.3 L957.1 191.9 L957.5 203.2 L957.9 188.3 L958.4 204.5 L958.8 199.3 L959.2 204.0 L959.6 189.6 L960.1 209.4 L960.5 205.7 L960.9 193.7 L961.3 192.3 L961.8 194.3 L962.2 209.4 L962.6 198.0 L963.0 190.2 L963.5 204.9 L963.9 193.0 L964.3 194.3 L964.7 191.1 L965.2 189.3 L965.6 200.3 L966.0 195.5 L966.4 201.4 L966.8 200.8 L967.3 200.9 L967.7 199.7 L968.1 198.3 L968.5 198.8 L969.0 196.2 L969.4 190.9 L969.8 190.4 L970.2 197.0 L970.7 206.8 L971.1 202.9 L971.5 192.5 L971.9 195.3 L972.4 191.7 L972.8 195.6 L973.2 192.8 L973.6 194.7 L974.1 199.4 L974.5 196.8 L974.9 193.8 L975.3 202.9 L975.8 200.3 L976.2 197.1 L976.6 212.8 L977.0 183.4 L977.5 191.3 L977.9 212.9 L978.3 203.2 L978.7 186.0 L979.2 207.7 L979.6 199.9 L980.0 201.9 L980.4 194.0 L980.9 202.3 L981.3 195.9 L981.7 192.2 L982.1 211.7 L982.6 203.4 L983.0 203.5 L983.4 199.1 L983.8 195.3 L984.3 217.0 L984.7 202.5 L985.1 210.4 L985.5 203.4 L986.0 195.6 L986.4 205.0 L986.8 191.0" fill="none" stroke="#dcc224" stroke-width="0.95" stroke-linejoin="round"/>
</svg>
<div class="t" style="left:552px;top:27.9px;font-size:5.7px;font-weight:normal;color:#dcdcdc;transform:translate(0,-50%);">Avg. Power (dB): -12.436</div>
<div class="t" style="left:548.5px;top:27.4px;font-size:5.8px;font-weight:bold;color:#1c2228;transform:translate(-100%,-50%);">30</div>
<div class="t" style="left:548.5px;top:38.9px;font-size:5.8px;font-weight:bold;color:#1c2228;transform:translate(-100%,-50%);">20</div>
<div class="t" style="left:548.5px;top:52.9px;font-size:5.8px;font-weight:bold;color:#1c2228;transform:translate(-100%,-50%);">10</div>
<div class="t" style="left:548.5px;top:66.9px;font-size:5.8px;font-weight:bold;color:#1c2228;transform:translate(-100%,-50%);">0</div>
<div class="t" style="left:548.5px;top:80.9px;font-size:5.8px;font-weight:bold;color:#1c2228;transform:translate(-100%,-50%);">-10</div>
<div class="t" style="left:548.5px;top:94.9px;font-size:5.8px;font-weight:bold;color:#1c2228;transform:translate(-100%,-50%);">-20</div>
<div class="t" style="left:548.5px;top:108.9px;font-size:5.8px;font-weight:bold;color:#1c2228;transform:translate(-100%,-50%);">-30</div>
<div class="t" style="left:548.5px;top:122.9px;font-size:5.8px;font-weight:bold;color:#1c2228;transform:translate(-100%,-50%);">-40</div>
<div class="t" style="left:548.5px;top:136.9px;font-size:5.8px;font-weight:bold;color:#1c2228;transform:translate(-100%,-50%);">-50</div>
<div class="t" style="left:548.5px;top:150.9px;font-size:5.8px;font-weight:bold;color:#1c2228;transform:translate(-100%,-50%);">-60</div>
<div class="t" style="left:548.5px;top:164.9px;font-size:5.8px;font-weight:bold;color:#1c2228;transform:translate(-100%,-50%);">-70</div>
<div class="t" style="left:548.5px;top:178.9px;font-size:5.8px;font-weight:bold;color:#1c2228;transform:translate(-100%,-50%);">-80</div>
<div class="t" style="left:548.5px;top:192.9px;font-size:5.8px;font-weight:bold;color:#1c2228;transform:translate(-100%,-50%);">-90</div>
<div class="t" style="left:548.5px;top:206.9px;font-size:5.8px;font-weight:bold;color:#1c2228;transform:translate(-100%,-50%);">-100</div>
<div class="t" style="left:548.5px;top:220.9px;font-size:5.8px;font-weight:bold;color:#1c2228;transform:translate(-100%,-50%);">-110</div>
<div class="t" style="left:552.8px;top:229.4px;font-size:5.8px;font-weight:bold;color:#1c2228;transform:translate(-50%,-50%);">-75</div>
<div class="t" style="left:567.1999999999999px;top:229.4px;font-size:5.8px;font-weight:bold;color:#1c2228;transform:translate(-50%,-50%);">-70</div>
<div class="t" style="left:581.5999999999999px;top:229.4px;font-size:5.8px;font-weight:bold;color:#1c2228;transform:translate(-50%,-50%);">-65</div>
<div class="t" style="left:596.0px;top:229.4px;font-size:5.8px;font-weight:bold;color:#1c2228;transform:translate(-50%,-50%);">-60</div>
<div class="t" style="left:610.4px;top:229.4px;font-size:5.8px;font-weight:bold;color:#1c2228;transform:translate(-50%,-50%);">-55</div>
<div class="t" style="left:624.8px;top:229.4px;font-size:5.8px;font-weight:bold;color:#1c2228;transform:translate(-50%,-50%);">-50</div>
<div class="t" style="left:639.1999999999999px;top:229.4px;font-size:5.8px;font-weight:bold;color:#1c2228;transform:translate(-50%,-50%);">-45</div>
<div class="t" style="left:653.5999999999999px;top:229.4px;font-size:5.8px;font-weight:bold;color:#1c2228;transform:translate(-50%,-50%);">-40</div>
<div class="t" style="left:668.0px;top:229.4px;font-size:5.8px;font-weight:bold;color:#1c2228;transform:translate(-50%,-50%);">-35</div>
<div class="t" style="left:682.4px;top:229.4px;font-size:5.8px;font-weight:bold;color:#1c2228;transform:translate(-50%,-50%);">-30</div>
<div class="t" style="left:696.8px;top:229.4px;font-size:5.8px;font-weight:bold;color:#1c2228;transform:translate(-50%,-50%);">-25</div>
<div class="t" style="left:711.1999999999999px;top:229.4px;font-size:5.8px;font-weight:bold;color:#1c2228;transform:translate(-50%,-50%);">-20</div>
<div class="t" style="left:725.5999999999999px;top:229.4px;font-size:5.8px;font-weight:bold;color:#1c2228;transform:translate(-50%,-50%);">-15</div>
<div class="t" style="left:740.0px;top:229.4px;font-size:5.8px;font-weight:bold;color:#1c2228;transform:translate(-50%,-50%);">-10</div>
<div class="t" style="left:754.4px;top:229.4px;font-size:5.8px;font-weight:bold;color:#1c2228;transform:translate(-50%,-50%);">-5</div>
<div class="t" style="left:768.8px;top:229.4px;font-size:5.8px;font-weight:bold;color:#1c2228;transform:translate(-50%,-50%);">0</div>
<div class="t" style="left:783.1999999999999px;top:229.4px;font-size:5.8px;font-weight:bold;color:#1c2228;transform:translate(-50%,-50%);">5</div>
<div class="t" style="left:797.5999999999999px;top:229.4px;font-size:5.8px;font-weight:bold;color:#1c2228;transform:translate(-50%,-50%);">10</div>
<div class="t" style="left:812.0px;top:229.4px;font-size:5.8px;font-weight:bold;color:#1c2228;transform:translate(-50%,-50%);">15</div>
<div class="t" style="left:826.3999999999999px;top:229.4px;font-size:5.8px;font-weight:bold;color:#1c2228;transform:translate(-50%,-50%);">20</div>
<div class="t" style="left:840.8px;top:229.4px;font-size:5.8px;font-weight:bold;color:#1c2228;transform:translate(-50%,-50%);">25</div>
<div class="t" style="left:855.1999999999999px;top:229.4px;font-size:5.8px;font-weight:bold;color:#1c2228;transform:translate(-50%,-50%);">30</div>
<div class="t" style="left:869.5999999999999px;top:229.4px;font-size:5.8px;font-weight:bold;color:#1c2228;transform:translate(-50%,-50%);">35</div>
<div class="t" style="left:884.0px;top:229.4px;font-size:5.8px;font-weight:bold;color:#1c2228;transform:translate(-50%,-50%);">40</div>
<div class="t" style="left:898.3999999999999px;top:229.4px;font-size:5.8px;font-weight:bold;color:#1c2228;transform:translate(-50%,-50%);">45</div>
<div class="t" style="left:912.8px;top:229.4px;font-size:5.8px;font-weight:bold;color:#1c2228;transform:translate(-50%,-50%);">50</div>
<div class="t" style="left:927.1999999999999px;top:229.4px;font-size:5.8px;font-weight:bold;color:#1c2228;transform:translate(-50%,-50%);">55</div>
<div class="t" style="left:941.5999999999999px;top:229.4px;font-size:5.8px;font-weight:bold;color:#1c2228;transform:translate(-50%,-50%);">60</div>
<div class="t" style="left:956.0px;top:229.4px;font-size:5.8px;font-weight:bold;color:#1c2228;transform:translate(-50%,-50%);">65</div>
<div class="t" style="left:970.3999999999999px;top:229.4px;font-size:5.8px;font-weight:bold;color:#1c2228;transform:translate(-50%,-50%);">70</div>
<div class="t" style="left:984.8px;top:229.4px;font-size:5.8px;font-weight:bold;color:#1c2228;transform:translate(-50%,-50%);">75</div>
<div class="t" style="left:771px;top:236.9px;font-size:6.8px;font-weight:bold;color:#1c2228;transform:translate(-50%,-50%);">f-fc (MHz)</div>
<div class="t" style="left:532.5px;top:115.5px;font-size:6.4px;font-weight:bold;color:#1c2228;transform:translate(-50%,-50%) rotate(-90deg);">Power Distribution (dB/Hz)</div>
<div class="r" style="left:180px;top:321px;width:195px;height:204.5px;background:#000;"></div>
<svg class="r" style="left:180px;top:321px;overflow:hidden" width="195" height="204.5" viewBox="180 321 195 204.5">
<line x1="188.5" y1="321" x2="188.5" y2="525.5" stroke="#1e1e1e" stroke-width="1"/>
<line x1="232.5" y1="321" x2="232.5" y2="525.5" stroke="#1e1e1e" stroke-width="1"/>
<line x1="276.5" y1="321" x2="276.5" y2="525.5" stroke="#1e1e1e" stroke-width="1"/>
<line x1="320.5" y1="321" x2="320.5" y2="525.5" stroke="#1e1e1e" stroke-width="1"/>
<line x1="364.5" y1="321" x2="364.5" y2="525.5" stroke="#1e1e1e" stroke-width="1"/>
<line x1="180" y1="515.5" x2="375" y2="515.5" stroke="#1e1e1e" stroke-width="1"/>
<line x1="180" y1="469.5" x2="375" y2="469.5" stroke="#1e1e1e" stroke-width="1"/>
<line x1="180" y1="424.5" x2="375" y2="424.5" stroke="#1e1e1e" stroke-width="1"/>
<line x1="180" y1="378.5" x2="375" y2="378.5" stroke="#1e1e1e" stroke-width="1"/>
<line x1="180" y1="332.5" x2="375" y2="332.5" stroke="#1e1e1e" stroke-width="1"/>
<circle cx="215.0" cy="358.8" r="0.95" fill="none" stroke="#2a8030" stroke-width="0.8"/>
<circle cx="218.9" cy="358.8" r="0.95" fill="none" stroke="#2a8030" stroke-width="0.8"/>
<circle cx="222.9" cy="358.8" r="0.95" fill="none" stroke="#1f7048" stroke-width="0.8"/>
<path d="M225.7 359.7 L226.8 357.8 L227.9 359.7Z" fill="none" stroke="#1e7a34" stroke-width="0.8"/>
<circle cx="230.8" cy="358.8" r="0.95" fill="none" stroke="#2a8030" stroke-width="0.8"/>
<path d="M233.6 359.7 L234.7 357.8 L235.8 359.7Z" fill="none" stroke="#2a8030" stroke-width="0.8"/>
<circle cx="238.7" cy="358.8" r="0.95" fill="none" stroke="#2a8030" stroke-width="0.8"/>
<circle cx="242.6" cy="358.8" r="0.95" fill="none" stroke="#3a8a28" stroke-width="0.8"/>
<path d="M245.5 359.7 L246.6 357.8 L247.7 359.7Z" fill="none" stroke="#3a8a28" stroke-width="0.8"/>
<circle cx="254.4" cy="358.8" r="0.95" fill="none" stroke="#1f7048" stroke-width="0.8"/>
<circle cx="258.4" cy="358.8" r="0.95" fill="none" stroke="#2a8030" stroke-width="0.8"/>
<path d="M261.2 359.7 L262.3 357.8 L263.4 359.7Z" fill="none" stroke="#2a8030" stroke-width="0.8"/>
<path d="M265.2 359.7 L266.3 357.8 L267.4 359.7Z" fill="none" stroke="#1f7048" stroke-width="0.8"/>
<path d="M269.1 359.7 L270.2 357.8 L271.3 359.7Z" fill="none" stroke="#1a6a58" stroke-width="0.8"/>
<circle cx="274.2" cy="358.8" r="0.95" fill="none" stroke="#1f7048" stroke-width="0.8"/>
<circle cx="278.1" cy="358.8" r="0.95" fill="none" stroke="#1a6a58" stroke-width="0.8"/>
<circle cx="282.1" cy="358.8" r="0.95" fill="none" stroke="#1f7048" stroke-width="0.8"/>
<circle cx="286.0" cy="358.8" r="0.95" fill="none" stroke="#1f7048" stroke-width="0.8"/>
<circle cx="290.0" cy="358.8" r="0.95" fill="none" stroke="#1f7048" stroke-width="0.8"/>
<circle cx="293.9" cy="358.8" r="0.95" fill="none" stroke="#1a6a58" stroke-width="0.8"/>
<path d="M296.7 359.7 L297.8 357.8 L298.9 359.7Z" fill="none" stroke="#3a8a28" stroke-width="0.8"/>
<path d="M300.7 359.7 L301.8 357.8 L302.9 359.7Z" fill="none" stroke="#3a8a28" stroke-width="0.8"/>
<path d="M304.6 359.7 L305.7 357.8 L306.8 359.7Z" fill="none" stroke="#1e7a34" stroke-width="0.8"/>
<path d="M308.6 359.7 L309.7 357.8 L310.8 359.7Z" fill="none" stroke="#1e7a34" stroke-width="0.8"/>
<circle cx="313.6" cy="358.8" r="0.95" fill="none" stroke="#1a6a58" stroke-width="0.8"/>
<path d="M316.5 359.7 L317.6 357.8 L318.7 359.7Z" fill="none" stroke="#3a8a28" stroke-width="0.8"/>
<path d="M320.4 359.7 L321.5 357.8 L322.6 359.7Z" fill="none" stroke="#1e7a34" stroke-width="0.8"/>
<path d="M324.4 359.7 L325.5 357.8 L326.6 359.7Z" fill="none" stroke="#1a6a58" stroke-width="0.8"/>
<circle cx="329.4" cy="358.8" r="0.95" fill="none" stroke="#2a8030" stroke-width="0.8"/>
<path d="M332.2 359.7 L333.4 357.8 L334.5 359.7Z" fill="none" stroke="#1a6a58" stroke-width="0.8"/>
<circle cx="337.3" cy="358.8" r="0.95" fill="none" stroke="#1a6a58" stroke-width="0.8"/>
<circle cx="215.0" cy="362.8" r="0.95" fill="none" stroke="#1f7048" stroke-width="0.8"/>
<path d="M221.8 363.7 L222.9 361.8 L224.0 363.7Z" fill="none" stroke="#8a320c" stroke-width="0.8"/>
<path d="M225.7 363.7 L226.8 361.8 L227.9 363.7Z" fill="none" stroke="#7a7a18" stroke-width="0.8"/>
<circle cx="230.8" cy="362.8" r="0.95" fill="none" stroke="#3a8a20" stroke-width="0.8"/>
<circle cx="234.7" cy="362.8" r="0.95" fill="none" stroke="#a8480e" stroke-width="0.8"/>
<circle cx="238.7" cy="362.8" r="0.95" fill="none" stroke="#7a7a18" stroke-width="0.8"/>
<path d="M241.5 363.7 L242.6 361.8 L243.7 363.7Z" fill="none" stroke="#3a8a20" stroke-width="0.8"/>
<path d="M245.5 363.7 L246.6 361.8 L247.7 363.7Z" fill="none" stroke="#7a7a18" stroke-width="0.8"/>
<circle cx="250.5" cy="362.8" r="0.95" fill="none" stroke="#7a7a18" stroke-width="0.8"/>
<circle cx="254.4" cy="362.8" r="0.95" fill="none" stroke="#5a8a18" stroke-width="0.8"/>
<circle cx="258.4" cy="362.8" r="0.95" fill="none" stroke="#3a8a20" stroke-width="0.8"/>
<circle cx="262.3" cy="362.8" r="0.95" fill="none" stroke="#5a8a18" stroke-width="0.8"/>
<path d="M265.2 363.7 L266.3 361.8 L267.4 363.7Z" fill="none" stroke="#8a320c" stroke-width="0.8"/>
<path d="M269.1 363.7 L270.2 361.8 L271.3 363.7Z" fill="none" stroke="#a8480e" stroke-width="0.8"/>
<circle cx="274.2" cy="362.8" r="0.95" fill="none" stroke="#3a8a20" stroke-width="0.8"/>
<circle cx="278.1" cy="362.8" r="0.95" fill="none" stroke="#b05210" stroke-width="0.8"/>
<path d="M281.0 363.7 L282.1 361.8 L283.2 363.7Z" fill="none" stroke="#b87a18" stroke-width="0.8"/>
<path d="M284.9 363.7 L286.0 361.8 L287.1 363.7Z" fill="none" stroke="#3a8a20" stroke-width="0.8"/>
<circle cx="290.0" cy="362.8" r="0.95" fill="none" stroke="#5a8a18" stroke-width="0.8"/>
<path d="M292.8 363.7 L293.9 361.8 L295.0 363.7Z" fill="none" stroke="#7a7a18" stroke-width="0.8"/>
<path d="M300.7 363.7 L301.8 361.8 L302.9 363.7Z" fill="none" stroke="#a8480e" stroke-width="0.8"/>
<path d="M304.6 363.7 L305.7 361.8 L306.8 363.7Z" fill="none" stroke="#b87a18" stroke-width="0.8"/>
<path d="M308.6 363.7 L309.7 361.8 L310.8 363.7Z" fill="none" stroke="#8a320c" stroke-width="0.8"/>
<path d="M312.5 363.7 L313.6 361.8 L314.7 363.7Z" fill="none" stroke="#3a8a20" stroke-width="0.8"/>
<path d="M320.4 363.7 L321.5 361.8 L322.6 363.7Z" fill="none" stroke="#3a8a20" stroke-width="0.8"/>
<circle cx="325.5" cy="362.8" r="0.95" fill="none" stroke="#3a8a20" stroke-width="0.8"/>
<path d="M328.3 363.7 L329.4 361.8 L330.5 363.7Z" fill="none" stroke="#3a8a20" stroke-width="0.8"/>
<path d="M332.2 363.7 L333.4 361.8 L334.5 363.7Z" fill="none" stroke="#5a8a18" stroke-width="0.8"/>
<path d="M336.2 363.7 L337.3 361.8 L338.4 363.7Z" fill="none" stroke="#1a6a58" stroke-width="0.8"/>
<circle cx="215.0" cy="366.9" r="0.95" fill="none" stroke="#3a8a28" stroke-width="0.8"/>
<path d="M217.8 367.8 L218.9 365.9 L220.0 367.8Z" fill="none" stroke="#a8801c" stroke-width="0.8"/>
<circle cx="222.9" cy="366.9" r="0.95" fill="none" stroke="#b06a14" stroke-width="0.8"/>
<circle cx="226.8" cy="366.9" r="0.95" fill="none" stroke="#9a3810" stroke-width="0.8"/>
<path d="M229.7 367.8 L230.8 365.9 L231.9 367.8Z" fill="none" stroke="#8a320c" stroke-width="0.8"/>
<path d="M233.6 367.8 L234.7 365.9 L235.8 367.8Z" fill="none" stroke="#9a3810" stroke-width="0.8"/>
<path d="M241.5 367.8 L242.6 365.9 L243.7 367.8Z" fill="none" stroke="#8a320c" stroke-width="0.8"/>
<path d="M249.4 367.8 L250.5 365.9 L251.6 367.8Z" fill="none" stroke="#8a320c" stroke-width="0.8"/>
<path d="M253.3 367.8 L254.4 365.9 L255.5 367.8Z" fill="none" stroke="#9a3810" stroke-width="0.8"/>
<circle cx="262.3" cy="366.9" r="0.95" fill="none" stroke="#c04410" stroke-width="0.8"/>
<circle cx="266.3" cy="366.9" r="0.95" fill="none" stroke="#8a3a14" stroke-width="0.8"/>
<circle cx="270.2" cy="366.9" r="0.95" fill="none" stroke="#b87a18" stroke-width="0.8"/>
<path d="M273.1 367.8 L274.2 365.9 L275.3 367.8Z" fill="none" stroke="#b06a14" stroke-width="0.8"/>
<circle cx="278.1" cy="366.9" r="0.95" fill="none" stroke="#a8480e" stroke-width="0.8"/>
<circle cx="282.1" cy="366.9" r="0.95" fill="none" stroke="#8a320c" stroke-width="0.8"/>
<circle cx="286.0" cy="366.9" r="0.95" fill="none" stroke="#6a7a20" stroke-width="0.8"/>
<path d="M292.8 367.8 L293.9 365.9 L295.0 367.8Z" fill="none" stroke="#a03410" stroke-width="0.8"/>
<circle cx="297.8" cy="366.9" r="0.95" fill="none" stroke="#a8480e" stroke-width="0.8"/>
<circle cx="301.8" cy="366.9" r="0.95" fill="none" stroke="#b05210" stroke-width="0.8"/>
<circle cx="305.7" cy="366.9" r="0.95" fill="none" stroke="#b06a14" stroke-width="0.8"/>
<circle cx="309.7" cy="366.9" r="0.95" fill="none" stroke="#8a3a14" stroke-width="0.8"/>
<path d="M320.4 367.8 L321.5 365.9 L322.6 367.8Z" fill="none" stroke="#9a3810" stroke-width="0.8"/>
<circle cx="325.5" cy="366.9" r="0.95" fill="none" stroke="#a8801c" stroke-width="0.8"/>
<path d="M328.3 367.8 L329.4 365.9 L330.5 367.8Z" fill="none" stroke="#b06a14" stroke-width="0.8"/>
<path d="M332.2 367.8 L333.4 365.9 L334.5 367.8Z" fill="none" stroke="#3a8a20" stroke-width="0.8"/>
<circle cx="337.3" cy="366.9" r="0.95" fill="none" stroke="#1f7048" stroke-width="0.8"/>
<circle cx="215.0" cy="370.9" r="0.95" fill="none" stroke="#1e7a34" stroke-width="0.8"/>
<circle cx="218.9" cy="370.9" r="0.95" fill="none" stroke="#5a8a18" stroke-width="0.8"/>
<circle cx="222.9" cy="370.9" r="0.95" fill="none" stroke="#b05210" stroke-width="0.8"/>
<circle cx="226.8" cy="370.9" r="0.95" fill="none" stroke="#a8480e" stroke-width="0.8"/>
<circle cx="230.8" cy="370.9" r="0.95" fill="none" stroke="#b06a14" stroke-width="0.8"/>
<path d="M233.6 371.8 L234.7 369.9 L235.8 371.8Z" fill="none" stroke="#a8480e" stroke-width="0.8"/>
<path d="M241.5 371.8 L242.6 369.9 L243.7 371.8Z" fill="none" stroke="#a8480e" stroke-width="0.8"/>
<circle cx="246.6" cy="370.9" r="0.95" fill="none" stroke="#8a3a14" stroke-width="0.8"/>
<path d="M249.4 371.8 L250.5 369.9 L251.6 371.8Z" fill="none" stroke="#b05210" stroke-width="0.8"/>
<circle cx="254.4" cy="370.9" r="0.95" fill="none" stroke="#a8801c" stroke-width="0.8"/>
<circle cx="258.4" cy="370.9" r="0.95" fill="none" stroke="#a8480e" stroke-width="0.8"/>
<circle cx="262.3" cy="370.9" r="0.95" fill="none" stroke="#9a3810" stroke-width="0.8"/>
<circle cx="266.3" cy="370.9" r="0.95" fill="none" stroke="#a8480e" stroke-width="0.8"/>
<circle cx="270.2" cy="370.9" r="0.95" fill="none" stroke="#b87a18" stroke-width="0.8"/>
<circle cx="274.2" cy="370.9" r="0.95" fill="none" stroke="#c04410" stroke-width="0.8"/>
<circle cx="278.1" cy="370.9" r="0.95" fill="none" stroke="#a8801c" stroke-width="0.8"/>
<circle cx="282.1" cy="370.9" r="0.95" fill="none" stroke="#9a3810" stroke-width="0.8"/>
<circle cx="286.0" cy="370.9" r="0.95" fill="none" stroke="#c04410" stroke-width="0.8"/>
<circle cx="290.0" cy="370.9" r="0.95" fill="none" stroke="#8a3a14" stroke-width="0.8"/>
<path d="M292.8 371.8 L293.9 369.9 L295.0 371.8Z" fill="none" stroke="#a03410" stroke-width="0.8"/>
<circle cx="297.8" cy="370.9" r="0.95" fill="none" stroke="#a8801c" stroke-width="0.8"/>
<path d="M300.7 371.8 L301.8 369.9 L302.9 371.8Z" fill="none" stroke="#b87a18" stroke-width="0.8"/>
<circle cx="305.7" cy="370.9" r="0.95" fill="none" stroke="#c04410" stroke-width="0.8"/>
<circle cx="309.7" cy="370.9" r="0.95" fill="none" stroke="#9a3810" stroke-width="0.8"/>
<path d="M328.3 371.8 L329.4 369.9 L330.5 371.8Z" fill="none" stroke="#b87a18" stroke-width="0.8"/>
<circle cx="337.3" cy="370.9" r="0.95" fill="none" stroke="#1f7048" stroke-width="0.8"/>
<circle cx="215.0" cy="375.0" r="0.95" fill="none" stroke="#1e7a34" stroke-width="0.8"/>
<circle cx="218.9" cy="375.0" r="0.95" fill="none" stroke="#a8801c" stroke-width="0.8"/>
<path d="M221.8 375.9 L222.9 374.0 L224.0 375.9Z" fill="none" stroke="#a8801c" stroke-width="0.8"/>
<path d="M225.7 375.9 L226.8 374.0 L227.9 375.9Z" fill="none" stroke="#5a8a20" stroke-width="0.8"/>
<circle cx="230.8" cy="375.0" r="0.95" fill="none" stroke="#a8480e" stroke-width="0.8"/>
<circle cx="234.7" cy="375.0" r="0.95" fill="none" stroke="#a8801c" stroke-width="0.8"/>
<path d="M237.6 375.9 L238.7 374.0 L239.8 375.9Z" fill="none" stroke="#808a20" stroke-width="0.8"/>
<circle cx="246.6" cy="375.0" r="0.95" fill="none" stroke="#a8480e" stroke-width="0.8"/>
<path d="M249.4 375.9 L250.5 374.0 L251.6 375.9Z" fill="none" stroke="#a8801c" stroke-width="0.8"/>
<circle cx="254.4" cy="375.0" r="0.95" fill="none" stroke="#a03410" stroke-width="0.8"/>
<circle cx="258.4" cy="375.0" r="0.95" fill="none" stroke="#a03410" stroke-width="0.8"/>
<circle cx="262.3" cy="375.0" r="0.95" fill="none" stroke="#a8801c" stroke-width="0.8"/>
<path d="M265.2 375.9 L266.3 374.0 L267.4 375.9Z" fill="none" stroke="#8a320c" stroke-width="0.8"/>
<path d="M269.1 375.9 L270.2 374.0 L271.3 375.9Z" fill="none" stroke="#8a3a14" stroke-width="0.8"/>
<path d="M277.0 375.9 L278.1 374.0 L279.2 375.9Z" fill="none" stroke="#8a320c" stroke-width="0.8"/>
<path d="M281.0 375.9 L282.1 374.0 L283.2 375.9Z" fill="none" stroke="#b05210" stroke-width="0.8"/>
<circle cx="286.0" cy="375.0" r="0.95" fill="none" stroke="#b05210" stroke-width="0.8"/>
<circle cx="290.0" cy="375.0" r="0.95" fill="none" stroke="#a8480e" stroke-width="0.8"/>
<path d="M292.8 375.9 L293.9 374.0 L295.0 375.9Z" fill="none" stroke="#a8480e" stroke-width="0.8"/>
<circle cx="297.8" cy="375.0" r="0.95" fill="none" stroke="#a8480e" stroke-width="0.8"/>
<circle cx="301.8" cy="375.0" r="0.95" fill="none" stroke="#a8801c" stroke-width="0.8"/>
<circle cx="305.7" cy="375.0" r="0.95" fill="none" stroke="#b06a14" stroke-width="0.8"/>
<path d="M308.6 375.9 L309.7 374.0 L310.8 375.9Z" fill="none" stroke="#9a3810" stroke-width="0.8"/>
<circle cx="313.6" cy="375.0" r="0.95" fill="none" stroke="#b05210" stroke-width="0.8"/>
<circle cx="329.4" cy="375.0" r="0.95" fill="none" stroke="#8a3a14" stroke-width="0.8"/>
<path d="M332.2 375.9 L333.4 374.0 L334.5 375.9Z" fill="none" stroke="#a03410" stroke-width="0.8"/>
<path d="M336.2 375.9 L337.3 374.0 L338.4 375.9Z" fill="none" stroke="#1f7048" stroke-width="0.8"/>
<circle cx="215.0" cy="379.0" r="0.95" fill="none" stroke="#3a8a28" stroke-width="0.8"/>
<path d="M217.8 379.9 L218.9 378.0 L220.0 379.9Z" fill="none" stroke="#5a8a18" stroke-width="0.8"/>
<circle cx="222.9" cy="379.0" r="0.95" fill="none" stroke="#a03410" stroke-width="0.8"/>
<circle cx="230.8" cy="379.0" r="0.95" fill="none" stroke="#808a20" stroke-width="0.8"/>
<circle cx="234.7" cy="379.0" r="0.95" fill="none" stroke="#a03410" stroke-width="0.8"/>
<path d="M241.5 379.9 L242.6 378.0 L243.7 379.9Z" fill="none" stroke="#a8480e" stroke-width="0.8"/>
<circle cx="246.6" cy="379.0" r="0.95" fill="none" stroke="#8a3a14" stroke-width="0.8"/>
<circle cx="250.5" cy="379.0" r="0.95" fill="none" stroke="#9a3810" stroke-width="0.8"/>
<circle cx="254.4" cy="379.0" r="0.95" fill="none" stroke="#b05210" stroke-width="0.8"/>
<circle cx="258.4" cy="379.0" r="0.95" fill="none" stroke="#b05210" stroke-width="0.8"/>
<circle cx="262.3" cy="379.0" r="0.95" fill="none" stroke="#b05210" stroke-width="0.8"/>
<circle cx="266.3" cy="379.0" r="0.95" fill="none" stroke="#8a3a14" stroke-width="0.8"/>
<path d="M269.1 379.9 L270.2 378.0 L271.3 379.9Z" fill="none" stroke="#a8480e" stroke-width="0.8"/>
<path d="M273.1 379.9 L274.2 378.0 L275.3 379.9Z" fill="none" stroke="#8a3a14" stroke-width="0.8"/>
<path d="M277.0 379.9 L278.1 378.0 L279.2 379.9Z" fill="none" stroke="#b87a18" stroke-width="0.8"/>
<circle cx="282.1" cy="379.0" r="0.95" fill="none" stroke="#a8801c" stroke-width="0.8"/>
<circle cx="286.0" cy="379.0" r="0.95" fill="none" stroke="#8a320c" stroke-width="0.8"/>
<circle cx="290.0" cy="379.0" r="0.95" fill="none" stroke="#9a3810" stroke-width="0.8"/>
<circle cx="293.9" cy="379.0" r="0.95" fill="none" stroke="#8a320c" stroke-width="0.8"/>
<circle cx="297.8" cy="379.0" r="0.95" fill="none" stroke="#8a320c" stroke-width="0.8"/>
<circle cx="301.8" cy="379.0" r="0.95" fill="none" stroke="#b05210" stroke-width="0.8"/>
<path d="M304.6 379.9 L305.7 378.0 L306.8 379.9Z" fill="none" stroke="#9a3810" stroke-width="0.8"/>
<circle cx="309.7" cy="379.0" r="0.95" fill="none" stroke="#a8480e" stroke-width="0.8"/>
<path d="M312.5 379.9 L313.6 378.0 L314.7 379.9Z" fill="none" stroke="#a03410" stroke-width="0.8"/>
<path d="M316.5 379.9 L317.6 378.0 L318.7 379.9Z" fill="none" stroke="#a8480e" stroke-width="0.8"/>
<path d="M320.4 379.9 L321.5 378.0 L322.6 379.9Z" fill="none" stroke="#6a7a20" stroke-width="0.8"/>
<circle cx="325.5" cy="379.0" r="0.95" fill="none" stroke="#9a3810" stroke-width="0.8"/>
<circle cx="329.4" cy="379.0" r="0.95" fill="none" stroke="#9a3810" stroke-width="0.8"/>
<path d="M332.2 379.9 L333.4 378.0 L334.5 379.9Z" fill="none" stroke="#c04410" stroke-width="0.8"/>
<circle cx="215.0" cy="383.0" r="0.95" fill="none" stroke="#3a8a28" stroke-width="0.8"/>
<path d="M217.8 383.9 L218.9 382.0 L220.0 383.9Z" fill="none" stroke="#3a8a20" stroke-width="0.8"/>
<circle cx="222.9" cy="383.0" r="0.95" fill="none" stroke="#a03410" stroke-width="0.8"/>
<path d="M225.7 383.9 L226.8 382.0 L227.9 383.9Z" fill="none" stroke="#9a3810" stroke-width="0.8"/>
<circle cx="230.8" cy="383.0" r="0.95" fill="none" stroke="#9a3810" stroke-width="0.8"/>
<path d="M233.6 383.9 L234.7 382.0 L235.8 383.9Z" fill="none" stroke="#b06a14" stroke-width="0.8"/>
<path d="M237.6 383.9 L238.7 382.0 L239.8 383.9Z" fill="none" stroke="#c04410" stroke-width="0.8"/>
<path d="M241.5 383.9 L242.6 382.0 L243.7 383.9Z" fill="none" stroke="#8a3a14" stroke-width="0.8"/>
<path d="M245.5 383.9 L246.6 382.0 L247.7 383.9Z" fill="none" stroke="#9a3810" stroke-width="0.8"/>
<circle cx="250.5" cy="383.0" r="0.95" fill="none" stroke="#8a3a14" stroke-width="0.8"/>
<path d="M253.3 383.9 L254.4 382.0 L255.5 383.9Z" fill="none" stroke="#b05210" stroke-width="0.8"/>
<path d="M257.3 383.9 L258.4 382.0 L259.5 383.9Z" fill="none" stroke="#c04410" stroke-width="0.8"/>
<circle cx="270.2" cy="383.0" r="0.95" fill="none" stroke="#b87a18" stroke-width="0.8"/>
<path d="M277.0 383.9 L278.1 382.0 L279.2 383.9Z" fill="none" stroke="#9a3810" stroke-width="0.8"/>
<circle cx="282.1" cy="383.0" r="0.95" fill="none" stroke="#9a3810" stroke-width="0.8"/>
<circle cx="286.0" cy="383.0" r="0.95" fill="none" stroke="#a8801c" stroke-width="0.8"/>
<circle cx="290.0" cy="383.0" r="0.95" fill="none" stroke="#a8801c" stroke-width="0.8"/>
<circle cx="293.9" cy="383.0" r="0.95" fill="none" stroke="#808a20" stroke-width="0.8"/>
<path d="M296.7 383.9 L297.8 382.0 L298.9 383.9Z" fill="none" stroke="#c04410" stroke-width="0.8"/>
<circle cx="301.8" cy="383.0" r="0.95" fill="none" stroke="#8a320c" stroke-width="0.8"/>
<circle cx="305.7" cy="383.0" r="0.95" fill="none" stroke="#b87a18" stroke-width="0.8"/>
<circle cx="309.7" cy="383.0" r="0.95" fill="none" stroke="#b87a18" stroke-width="0.8"/>
<circle cx="313.6" cy="383.0" r="0.95" fill="none" stroke="#b06a14" stroke-width="0.8"/>
<path d="M316.5 383.9 L317.6 382.0 L318.7 383.9Z" fill="none" stroke="#b05210" stroke-width="0.8"/>
<circle cx="321.5" cy="383.0" r="0.95" fill="none" stroke="#a03410" stroke-width="0.8"/>
<circle cx="325.5" cy="383.0" r="0.95" fill="none" stroke="#a8480e" stroke-width="0.8"/>
<path d="M328.3 383.9 L329.4 382.0 L330.5 383.9Z" fill="none" stroke="#b06a14" stroke-width="0.8"/>
<path d="M332.2 383.9 L333.4 382.0 L334.5 383.9Z" fill="none" stroke="#b05210" stroke-width="0.8"/>
<circle cx="337.3" cy="383.0" r="0.95" fill="none" stroke="#1e7a34" stroke-width="0.8"/>
<path d="M213.9 388.0 L215.0 386.1 L216.1 388.0Z" fill="none" stroke="#1e7a34" stroke-width="0.8"/>
<circle cx="218.9" cy="387.1" r="0.95" fill="none" stroke="#a8801c" stroke-width="0.8"/>
<path d="M221.8 388.0 L222.9 386.1 L224.0 388.0Z" fill="none" stroke="#8a320c" stroke-width="0.8"/>
<path d="M225.7 388.0 L226.8 386.1 L227.9 388.0Z" fill="none" stroke="#b05210" stroke-width="0.8"/>
<circle cx="230.8" cy="387.1" r="0.95" fill="none" stroke="#8a3a14" stroke-width="0.8"/>
<path d="M233.6 388.0 L234.7 386.1 L235.8 388.0Z" fill="none" stroke="#b87a18" stroke-width="0.8"/>
<path d="M237.6 388.0 L238.7 386.1 L239.8 388.0Z" fill="none" stroke="#8a3a14" stroke-width="0.8"/>
<path d="M241.5 388.0 L242.6 386.1 L243.7 388.0Z" fill="none" stroke="#c04410" stroke-width="0.8"/>
<path d="M245.5 388.0 L246.6 386.1 L247.7 388.0Z" fill="none" stroke="#c04410" stroke-width="0.8"/>
<circle cx="250.5" cy="387.1" r="0.95" fill="none" stroke="#b87a18" stroke-width="0.8"/>
<circle cx="254.4" cy="387.1" r="0.95" fill="none" stroke="#a8480e" stroke-width="0.8"/>
<circle cx="258.4" cy="387.1" r="0.95" fill="none" stroke="#a8480e" stroke-width="0.8"/>
<path d="M269.1 388.0 L270.2 386.1 L271.3 388.0Z" fill="none" stroke="#9a3810" stroke-width="0.8"/>
<path d="M273.1 388.0 L274.2 386.1 L275.3 388.0Z" fill="none" stroke="#a8480e" stroke-width="0.8"/>
<path d="M277.0 388.0 L278.1 386.1 L279.2 388.0Z" fill="none" stroke="#a03410" stroke-width="0.8"/>
<circle cx="282.1" cy="387.1" r="0.95" fill="none" stroke="#9a3810" stroke-width="0.8"/>
<path d="M284.9 388.0 L286.0 386.1 L287.1 388.0Z" fill="none" stroke="#5a8a20" stroke-width="0.8"/>
<circle cx="297.8" cy="387.1" r="0.95" fill="none" stroke="#b06a14" stroke-width="0.8"/>
<path d="M300.7 388.0 L301.8 386.1 L302.9 388.0Z" fill="none" stroke="#b87a18" stroke-width="0.8"/>
<circle cx="305.7" cy="387.1" r="0.95" fill="none" stroke="#9a3810" stroke-width="0.8"/>
<path d="M308.6 388.0 L309.7 386.1 L310.8 388.0Z" fill="none" stroke="#8a3a14" stroke-width="0.8"/>
<circle cx="313.6" cy="387.1" r="0.95" fill="none" stroke="#8a3a14" stroke-width="0.8"/>
<path d="M320.4 388.0 L321.5 386.1 L322.6 388.0Z" fill="none" stroke="#8a320c" stroke-width="0.8"/>
<path d="M328.3 388.0 L329.4 386.1 L330.5 388.0Z" fill="none" stroke="#b06a14" stroke-width="0.8"/>
<circle cx="333.4" cy="387.1" r="0.95" fill="none" stroke="#8a3a14" stroke-width="0.8"/>
<circle cx="337.3" cy="387.1" r="0.95" fill="none" stroke="#1a6a58" stroke-width="0.8"/>
<path d="M213.9 392.0 L215.0 390.1 L216.1 392.0Z" fill="none" stroke="#1a6a58" stroke-width="0.8"/>
<circle cx="226.8" cy="391.1" r="0.95" fill="none" stroke="#a8480e" stroke-width="0.8"/>
<path d="M229.7 392.0 L230.8 390.1 L231.9 392.0Z" fill="none" stroke="#9a3810" stroke-width="0.8"/>
<path d="M233.6 392.0 L234.7 390.1 L235.8 392.0Z" fill="none" stroke="#8a3a14" stroke-width="0.8"/>
<circle cx="238.7" cy="391.1" r="0.95" fill="none" stroke="#9a3810" stroke-width="0.8"/>
<circle cx="242.6" cy="391.1" r="0.95" fill="none" stroke="#b87a18" stroke-width="0.8"/>
<path d="M245.5 392.0 L246.6 390.1 L247.7 392.0Z" fill="none" stroke="#8a3a14" stroke-width="0.8"/>
<circle cx="250.5" cy="391.1" r="0.95" fill="none" stroke="#a8801c" stroke-width="0.8"/>
<path d="M253.3 392.0 L254.4 390.1 L255.5 392.0Z" fill="none" stroke="#808a20" stroke-width="0.8"/>
<circle cx="270.2" cy="391.1" r="0.95" fill="none" stroke="#b06a14" stroke-width="0.8"/>
<path d="M273.1 392.0 L274.2 390.1 L275.3 392.0Z" fill="none" stroke="#8a3a14" stroke-width="0.8"/>
<path d="M277.0 392.0 L278.1 390.1 L279.2 392.0Z" fill="none" stroke="#9a3810" stroke-width="0.8"/>
<circle cx="282.1" cy="391.1" r="0.95" fill="none" stroke="#a03410" stroke-width="0.8"/>
<path d="M284.9 392.0 L286.0 390.1 L287.1 392.0Z" fill="none" stroke="#9a3810" stroke-width="0.8"/>
<path d="M288.9 392.0 L290.0 390.1 L291.1 392.0Z" fill="none" stroke="#c04410" stroke-width="0.8"/>
<path d="M296.7 392.0 L297.8 390.1 L298.9 392.0Z" fill="none" stroke="#9a3810" stroke-width="0.8"/>
<path d="M300.7 392.0 L301.8 390.1 L302.9 392.0Z" fill="none" stroke="#a8801c" stroke-width="0.8"/>
<circle cx="305.7" cy="391.1" r="0.95" fill="none" stroke="#9a3810" stroke-width="0.8"/>
<circle cx="309.7" cy="391.1" r="0.95" fill="none" stroke="#b87a18" stroke-width="0.8"/>
<circle cx="313.6" cy="391.1" r="0.95" fill="none" stroke="#b06a14" stroke-width="0.8"/>
<path d="M316.5 392.0 L317.6 390.1 L318.7 392.0Z" fill="none" stroke="#a8480e" stroke-width="0.8"/>
<circle cx="321.5" cy="391.1" r="0.95" fill="none" stroke="#a03410" stroke-width="0.8"/>
<circle cx="325.5" cy="391.1" r="0.95" fill="none" stroke="#b06a14" stroke-width="0.8"/>
<path d="M328.3 392.0 L329.4 390.1 L330.5 392.0Z" fill="none" stroke="#8a320c" stroke-width="0.8"/>
<circle cx="333.4" cy="391.1" r="0.95" fill="none" stroke="#b06a14" stroke-width="0.8"/>
<circle cx="337.3" cy="391.1" r="0.95" fill="none" stroke="#3a8a28" stroke-width="0.8"/>
<circle cx="215.0" cy="395.2" r="0.95" fill="none" stroke="#1f7048" stroke-width="0.8"/>
<circle cx="218.9" cy="395.2" r="0.95" fill="none" stroke="#a03410" stroke-width="0.8"/>
<path d="M221.8 396.1 L222.9 394.2 L224.0 396.1Z" fill="none" stroke="#8a3a14" stroke-width="0.8"/>
<circle cx="226.8" cy="395.2" r="0.95" fill="none" stroke="#b06a14" stroke-width="0.8"/>
<circle cx="230.8" cy="395.2" r="0.95" fill="none" stroke="#9a3810" stroke-width="0.8"/>
<path d="M233.6 396.1 L234.7 394.2 L235.8 396.1Z" fill="none" stroke="#a8801c" stroke-width="0.8"/>
<circle cx="238.7" cy="395.2" r="0.95" fill="none" stroke="#a8480e" stroke-width="0.8"/>
<circle cx="246.6" cy="395.2" r="0.95" fill="none" stroke="#a8480e" stroke-width="0.8"/>
<path d="M253.3 396.1 L254.4 394.2 L255.5 396.1Z" fill="none" stroke="#a8801c" stroke-width="0.8"/>
<circle cx="258.4" cy="395.2" r="0.95" fill="none" stroke="#8a3a14" stroke-width="0.8"/>
<circle cx="262.3" cy="395.2" r="0.95" fill="none" stroke="#9a3810" stroke-width="0.8"/>
<circle cx="266.3" cy="395.2" r="0.95" fill="none" stroke="#a03410" stroke-width="0.8"/>
<circle cx="270.2" cy="395.2" r="0.95" fill="none" stroke="#8a3a14" stroke-width="0.8"/>
<path d="M273.1 396.1 L274.2 394.2 L275.3 396.1Z" fill="none" stroke="#a8801c" stroke-width="0.8"/>
<circle cx="278.1" cy="395.2" r="0.95" fill="none" stroke="#b06a14" stroke-width="0.8"/>
<path d="M281.0 396.1 L282.1 394.2 L283.2 396.1Z" fill="none" stroke="#b06a14" stroke-width="0.8"/>
<circle cx="286.0" cy="395.2" r="0.95" fill="none" stroke="#a03410" stroke-width="0.8"/>
<circle cx="290.0" cy="395.2" r="0.95" fill="none" stroke="#9a3810" stroke-width="0.8"/>
<circle cx="293.9" cy="395.2" r="0.95" fill="none" stroke="#8a320c" stroke-width="0.8"/>
<path d="M296.7 396.1 L297.8 394.2 L298.9 396.1Z" fill="none" stroke="#b05210" stroke-width="0.8"/>
<circle cx="301.8" cy="395.2" r="0.95" fill="none" stroke="#a8801c" stroke-width="0.8"/>
<path d="M304.6 396.1 L305.7 394.2 L306.8 396.1Z" fill="none" stroke="#a03410" stroke-width="0.8"/>
<circle cx="309.7" cy="395.2" r="0.95" fill="none" stroke="#b87a18" stroke-width="0.8"/>
<circle cx="313.6" cy="395.2" r="0.95" fill="none" stroke="#b87a18" stroke-width="0.8"/>
<circle cx="317.6" cy="395.2" r="0.95" fill="none" stroke="#a8801c" stroke-width="0.8"/>
<circle cx="321.5" cy="395.2" r="0.95" fill="none" stroke="#c04410" stroke-width="0.8"/>
<path d="M324.4 396.1 L325.5 394.2 L326.6 396.1Z" fill="none" stroke="#c04410" stroke-width="0.8"/>
<path d="M328.3 396.1 L329.4 394.2 L330.5 396.1Z" fill="none" stroke="#b87a18" stroke-width="0.8"/>
<circle cx="333.4" cy="395.2" r="0.95" fill="none" stroke="#7a7a18" stroke-width="0.8"/>
<circle cx="337.3" cy="395.2" r="0.95" fill="none" stroke="#3a8a28" stroke-width="0.8"/>
<path d="M213.9 400.1 L215.0 398.2 L216.1 400.1Z" fill="none" stroke="#2a8030" stroke-width="0.8"/>
<path d="M217.8 400.1 L218.9 398.2 L220.0 400.1Z" fill="none" stroke="#5a8a18" stroke-width="0.8"/>
<path d="M221.8 400.1 L222.9 398.2 L224.0 400.1Z" fill="none" stroke="#a8480e" stroke-width="0.8"/>
<path d="M225.7 400.1 L226.8 398.2 L227.9 400.1Z" fill="none" stroke="#8a320c" stroke-width="0.8"/>
<path d="M229.7 400.1 L230.8 398.2 L231.9 400.1Z" fill="none" stroke="#b87a18" stroke-width="0.8"/>
<circle cx="234.7" cy="399.2" r="0.95" fill="none" stroke="#8a3a14" stroke-width="0.8"/>
<circle cx="238.7" cy="399.2" r="0.95" fill="none" stroke="#a8801c" stroke-width="0.8"/>
<circle cx="242.6" cy="399.2" r="0.95" fill="none" stroke="#b87a18" stroke-width="0.8"/>
<circle cx="246.6" cy="399.2" r="0.95" fill="none" stroke="#b87a18" stroke-width="0.8"/>
<circle cx="250.5" cy="399.2" r="0.95" fill="none" stroke="#a8801c" stroke-width="0.8"/>
<circle cx="254.4" cy="399.2" r="0.95" fill="none" stroke="#8a320c" stroke-width="0.8"/>
<circle cx="258.4" cy="399.2" r="0.95" fill="none" stroke="#9a3810" stroke-width="0.8"/>
<circle cx="262.3" cy="399.2" r="0.95" fill="none" stroke="#8a3a14" stroke-width="0.8"/>
<path d="M265.2 400.1 L266.3 398.2 L267.4 400.1Z" fill="none" stroke="#8a320c" stroke-width="0.8"/>
<circle cx="270.2" cy="399.2" r="0.95" fill="none" stroke="#a8480e" stroke-width="0.8"/>
<path d="M273.1 400.1 L274.2 398.2 L275.3 400.1Z" fill="none" stroke="#b87a18" stroke-width="0.8"/>
<circle cx="278.1" cy="399.2" r="0.95" fill="none" stroke="#b06a14" stroke-width="0.8"/>
<circle cx="286.0" cy="399.2" r="0.95" fill="none" stroke="#c04410" stroke-width="0.8"/>
<path d="M288.9 400.1 L290.0 398.2 L291.1 400.1Z" fill="none" stroke="#a8801c" stroke-width="0.8"/>
<path d="M292.8 400.1 L293.9 398.2 L295.0 400.1Z" fill="none" stroke="#b05210" stroke-width="0.8"/>
<path d="M296.7 400.1 L297.8 398.2 L298.9 400.1Z" fill="none" stroke="#c04410" stroke-width="0.8"/>
<path d="M300.7 400.1 L301.8 398.2 L302.9 400.1Z" fill="none" stroke="#c04410" stroke-width="0.8"/>
<circle cx="305.7" cy="399.2" r="0.95" fill="none" stroke="#8a3a14" stroke-width="0.8"/>
<path d="M308.6 400.1 L309.7 398.2 L310.8 400.1Z" fill="none" stroke="#9a3810" stroke-width="0.8"/>
<path d="M312.5 400.1 L313.6 398.2 L314.7 400.1Z" fill="none" stroke="#8a320c" stroke-width="0.8"/>
<circle cx="317.6" cy="399.2" r="0.95" fill="none" stroke="#b87a18" stroke-width="0.8"/>
<path d="M320.4 400.1 L321.5 398.2 L322.6 400.1Z" fill="none" stroke="#c04410" stroke-width="0.8"/>
<path d="M324.4 400.1 L325.5 398.2 L326.6 400.1Z" fill="none" stroke="#b05210" stroke-width="0.8"/>
<path d="M328.3 400.1 L329.4 398.2 L330.5 400.1Z" fill="none" stroke="#a8801c" stroke-width="0.8"/>
<circle cx="333.4" cy="399.2" r="0.95" fill="none" stroke="#7a7a18" stroke-width="0.8"/>
<circle cx="337.3" cy="399.2" r="0.95" fill="none" stroke="#3a8a28" stroke-width="0.8"/>
<path d="M213.9 404.1 L215.0 402.2 L216.1 404.1Z" fill="none" stroke="#1f7048" stroke-width="0.8"/>
<path d="M217.8 404.1 L218.9 402.2 L220.0 404.1Z" fill="none" stroke="#a8480e" stroke-width="0.8"/>
<circle cx="222.9" cy="403.2" r="0.95" fill="none" stroke="#c04410" stroke-width="0.8"/>
<circle cx="226.8" cy="403.2" r="0.95" fill="none" stroke="#a8480e" stroke-width="0.8"/>
<circle cx="230.8" cy="403.2" r="0.95" fill="none" stroke="#a8801c" stroke-width="0.8"/>
<path d="M233.6 404.1 L234.7 402.2 L235.8 404.1Z" fill="none" stroke="#8a3a14" stroke-width="0.8"/>
<circle cx="238.7" cy="403.2" r="0.95" fill="none" stroke="#b87a18" stroke-width="0.8"/>
<path d="M241.5 404.1 L242.6 402.2 L243.7 404.1Z" fill="none" stroke="#8a320c" stroke-width="0.8"/>
<circle cx="246.6" cy="403.2" r="0.95" fill="none" stroke="#c04410" stroke-width="0.8"/>
<circle cx="250.5" cy="403.2" r="0.95" fill="none" stroke="#b05210" stroke-width="0.8"/>
<circle cx="254.4" cy="403.2" r="0.95" fill="none" stroke="#9a3810" stroke-width="0.8"/>
<circle cx="258.4" cy="403.2" r="0.95" fill="none" stroke="#a03410" stroke-width="0.8"/>
<circle cx="262.3" cy="403.2" r="0.95" fill="none" stroke="#b05210" stroke-width="0.8"/>
<circle cx="266.3" cy="403.2" r="0.95" fill="none" stroke="#a8480e" stroke-width="0.8"/>
<circle cx="270.2" cy="403.2" r="0.95" fill="none" stroke="#b05210" stroke-width="0.8"/>
<circle cx="274.2" cy="403.2" r="0.95" fill="none" stroke="#a8480e" stroke-width="0.8"/>
<circle cx="278.1" cy="403.2" r="0.95" fill="none" stroke="#8a320c" stroke-width="0.8"/>
<path d="M281.0 404.1 L282.1 402.2 L283.2 404.1Z" fill="none" stroke="#b05210" stroke-width="0.8"/>
<path d="M284.9 404.1 L286.0 402.2 L287.1 404.1Z" fill="none" stroke="#8a3a14" stroke-width="0.8"/>
<path d="M288.9 404.1 L290.0 402.2 L291.1 404.1Z" fill="none" stroke="#b87a18" stroke-width="0.8"/>
<circle cx="297.8" cy="403.2" r="0.95" fill="none" stroke="#a03410" stroke-width="0.8"/>
<circle cx="301.8" cy="403.2" r="0.95" fill="none" stroke="#8a320c" stroke-width="0.8"/>
<circle cx="305.7" cy="403.2" r="0.95" fill="none" stroke="#8a3a14" stroke-width="0.8"/>
<circle cx="309.7" cy="403.2" r="0.95" fill="none" stroke="#b06a14" stroke-width="0.8"/>
<path d="M312.5 404.1 L313.6 402.2 L314.7 404.1Z" fill="none" stroke="#b87a18" stroke-width="0.8"/>
<path d="M316.5 404.1 L317.6 402.2 L318.7 404.1Z" fill="none" stroke="#8a320c" stroke-width="0.8"/>
<circle cx="325.5" cy="403.2" r="0.95" fill="none" stroke="#b87a18" stroke-width="0.8"/>
<circle cx="329.4" cy="403.2" r="0.95" fill="none" stroke="#8a3a14" stroke-width="0.8"/>
<circle cx="333.4" cy="403.2" r="0.95" fill="none" stroke="#7a7a18" stroke-width="0.8"/>
<path d="M336.2 404.1 L337.3 402.2 L338.4 404.1Z" fill="none" stroke="#2a8030" stroke-width="0.8"/>
<circle cx="215.0" cy="407.3" r="0.95" fill="none" stroke="#1e7a34" stroke-width="0.8"/>
<path d="M217.8 408.2 L218.9 406.3 L220.0 408.2Z" fill="none" stroke="#7a7a18" stroke-width="0.8"/>
<path d="M221.8 408.2 L222.9 406.3 L224.0 408.2Z" fill="none" stroke="#b06a14" stroke-width="0.8"/>
<circle cx="226.8" cy="407.3" r="0.95" fill="none" stroke="#a03410" stroke-width="0.8"/>
<circle cx="230.8" cy="407.3" r="0.95" fill="none" stroke="#c04410" stroke-width="0.8"/>
<circle cx="234.7" cy="407.3" r="0.95" fill="none" stroke="#a8480e" stroke-width="0.8"/>
<path d="M237.6 408.2 L238.7 406.3 L239.8 408.2Z" fill="none" stroke="#b87a18" stroke-width="0.8"/>
<circle cx="246.6" cy="407.3" r="0.95" fill="none" stroke="#b06a14" stroke-width="0.8"/>
<circle cx="250.5" cy="407.3" r="0.95" fill="none" stroke="#5a8a20" stroke-width="0.8"/>
<path d="M253.3 408.2 L254.4 406.3 L255.5 408.2Z" fill="none" stroke="#c04410" stroke-width="0.8"/>
<circle cx="258.4" cy="407.3" r="0.95" fill="none" stroke="#a8801c" stroke-width="0.8"/>
<circle cx="270.2" cy="407.3" r="0.95" fill="none" stroke="#808a20" stroke-width="0.8"/>
<circle cx="274.2" cy="407.3" r="0.95" fill="none" stroke="#8a3a14" stroke-width="0.8"/>
<circle cx="278.1" cy="407.3" r="0.95" fill="none" stroke="#8a320c" stroke-width="0.8"/>
<path d="M284.9 408.2 L286.0 406.3 L287.1 408.2Z" fill="none" stroke="#b05210" stroke-width="0.8"/>
<path d="M288.9 408.2 L290.0 406.3 L291.1 408.2Z" fill="none" stroke="#b06a14" stroke-width="0.8"/>
<path d="M296.7 408.2 L297.8 406.3 L298.9 408.2Z" fill="none" stroke="#8a320c" stroke-width="0.8"/>
<path d="M300.7 408.2 L301.8 406.3 L302.9 408.2Z" fill="none" stroke="#a8480e" stroke-width="0.8"/>
<circle cx="305.7" cy="407.3" r="0.95" fill="none" stroke="#b05210" stroke-width="0.8"/>
<path d="M308.6 408.2 L309.7 406.3 L310.8 408.2Z" fill="none" stroke="#a8801c" stroke-width="0.8"/>
<circle cx="313.6" cy="407.3" r="0.95" fill="none" stroke="#a8480e" stroke-width="0.8"/>
<path d="M320.4 408.2 L321.5 406.3 L322.6 408.2Z" fill="none" stroke="#a8480e" stroke-width="0.8"/>
<circle cx="325.5" cy="407.3" r="0.95" fill="none" stroke="#a8480e" stroke-width="0.8"/>
<circle cx="329.4" cy="407.3" r="0.95" fill="none" stroke="#c04410" stroke-width="0.8"/>
<path d="M332.2 408.2 L333.4 406.3 L334.5 408.2Z" fill="none" stroke="#8a3a14" stroke-width="0.8"/>
<circle cx="337.3" cy="407.3" r="0.95" fill="none" stroke="#3a8a28" stroke-width="0.8"/>
<circle cx="215.0" cy="411.3" r="0.95" fill="none" stroke="#1e7a34" stroke-width="0.8"/>
<path d="M217.8 412.2 L218.9 410.3 L220.0 412.2Z" fill="none" stroke="#c04410" stroke-width="0.8"/>
<path d="M221.8 412.2 L222.9 410.3 L224.0 412.2Z" fill="none" stroke="#a03410" stroke-width="0.8"/>
<path d="M225.7 412.2 L226.8 410.3 L227.9 412.2Z" fill="none" stroke="#c04410" stroke-width="0.8"/>
<circle cx="230.8" cy="411.3" r="0.95" fill="none" stroke="#9a3810" stroke-width="0.8"/>
<circle cx="238.7" cy="411.3" r="0.95" fill="none" stroke="#8a3a14" stroke-width="0.8"/>
<path d="M241.5 412.2 L242.6 410.3 L243.7 412.2Z" fill="none" stroke="#b05210" stroke-width="0.8"/>
<path d="M253.3 412.2 L254.4 410.3 L255.5 412.2Z" fill="none" stroke="#c04410" stroke-width="0.8"/>
<path d="M269.1 412.2 L270.2 410.3 L271.3 412.2Z" fill="none" stroke="#808a20" stroke-width="0.8"/>
<circle cx="274.2" cy="411.3" r="0.95" fill="none" stroke="#b87a18" stroke-width="0.8"/>
<circle cx="278.1" cy="411.3" r="0.95" fill="none" stroke="#b87a18" stroke-width="0.8"/>
<circle cx="282.1" cy="411.3" r="0.95" fill="none" stroke="#8a320c" stroke-width="0.8"/>
<circle cx="286.0" cy="411.3" r="0.95" fill="none" stroke="#8a320c" stroke-width="0.8"/>
<circle cx="290.0" cy="411.3" r="0.95" fill="none" stroke="#9a3810" stroke-width="0.8"/>
<circle cx="293.9" cy="411.3" r="0.95" fill="none" stroke="#c04410" stroke-width="0.8"/>
<circle cx="297.8" cy="411.3" r="0.95" fill="none" stroke="#a03410" stroke-width="0.8"/>
<circle cx="301.8" cy="411.3" r="0.95" fill="none" stroke="#b87a18" stroke-width="0.8"/>
<circle cx="305.7" cy="411.3" r="0.95" fill="none" stroke="#a8480e" stroke-width="0.8"/>
<path d="M312.5 412.2 L313.6 410.3 L314.7 412.2Z" fill="none" stroke="#a8480e" stroke-width="0.8"/>
<circle cx="317.6" cy="411.3" r="0.95" fill="none" stroke="#b05210" stroke-width="0.8"/>
<path d="M320.4 412.2 L321.5 410.3 L322.6 412.2Z" fill="none" stroke="#a8480e" stroke-width="0.8"/>
<circle cx="325.5" cy="411.3" r="0.95" fill="none" stroke="#b06a14" stroke-width="0.8"/>
<circle cx="329.4" cy="411.3" r="0.95" fill="none" stroke="#b05210" stroke-width="0.8"/>
<circle cx="333.4" cy="411.3" r="0.95" fill="none" stroke="#5a8a18" stroke-width="0.8"/>
<circle cx="337.3" cy="411.3" r="0.95" fill="none" stroke="#2a8030" stroke-width="0.8"/>
<path d="M213.9 416.3 L215.0 414.4 L216.1 416.3Z" fill="none" stroke="#3a8a28" stroke-width="0.8"/>
<path d="M217.8 416.3 L218.9 414.4 L220.0 416.3Z" fill="none" stroke="#7a7a18" stroke-width="0.8"/>
<path d="M221.8 416.3 L222.9 414.4 L224.0 416.3Z" fill="none" stroke="#b87a18" stroke-width="0.8"/>
<circle cx="226.8" cy="415.4" r="0.95" fill="none" stroke="#a8801c" stroke-width="0.8"/>
<circle cx="230.8" cy="415.4" r="0.95" fill="none" stroke="#a8801c" stroke-width="0.8"/>
<circle cx="234.7" cy="415.4" r="0.95" fill="none" stroke="#a8801c" stroke-width="0.8"/>
<path d="M241.5 416.3 L242.6 414.4 L243.7 416.3Z" fill="none" stroke="#b06a14" stroke-width="0.8"/>
<circle cx="246.6" cy="415.4" r="0.95" fill="none" stroke="#b05210" stroke-width="0.8"/>
<circle cx="250.5" cy="415.4" r="0.95" fill="none" stroke="#9a3810" stroke-width="0.8"/>
<path d="M253.3 416.3 L254.4 414.4 L255.5 416.3Z" fill="none" stroke="#a03410" stroke-width="0.8"/>
<circle cx="258.4" cy="415.4" r="0.95" fill="none" stroke="#5a8a20" stroke-width="0.8"/>
<path d="M269.1 416.3 L270.2 414.4 L271.3 416.3Z" fill="none" stroke="#a8801c" stroke-width="0.8"/>
<circle cx="274.2" cy="415.4" r="0.95" fill="none" stroke="#b05210" stroke-width="0.8"/>
<path d="M277.0 416.3 L278.1 414.4 L279.2 416.3Z" fill="none" stroke="#8a320c" stroke-width="0.8"/>
<path d="M281.0 416.3 L282.1 414.4 L283.2 416.3Z" fill="none" stroke="#b06a14" stroke-width="0.8"/>
<circle cx="290.0" cy="415.4" r="0.95" fill="none" stroke="#a03410" stroke-width="0.8"/>
<circle cx="293.9" cy="415.4" r="0.95" fill="none" stroke="#8a320c" stroke-width="0.8"/>
<circle cx="297.8" cy="415.4" r="0.95" fill="none" stroke="#9a3810" stroke-width="0.8"/>
<circle cx="301.8" cy="415.4" r="0.95" fill="none" stroke="#a8480e" stroke-width="0.8"/>
<circle cx="305.7" cy="415.4" r="0.95" fill="none" stroke="#a8801c" stroke-width="0.8"/>
<circle cx="309.7" cy="415.4" r="0.95" fill="none" stroke="#b06a14" stroke-width="0.8"/>
<circle cx="313.6" cy="415.4" r="0.95" fill="none" stroke="#a03410" stroke-width="0.8"/>
<circle cx="317.6" cy="415.4" r="0.95" fill="none" stroke="#a8480e" stroke-width="0.8"/>
<path d="M324.4 416.3 L325.5 414.4 L326.6 416.3Z" fill="none" stroke="#a8480e" stroke-width="0.8"/>
<circle cx="329.4" cy="415.4" r="0.95" fill="none" stroke="#b05210" stroke-width="0.8"/>
<circle cx="337.3" cy="415.4" r="0.95" fill="none" stroke="#1a6a58" stroke-width="0.8"/>
<circle cx="215.0" cy="419.4" r="0.95" fill="none" stroke="#1a6a58" stroke-width="0.8"/>
<path d="M217.8 420.3 L218.9 418.4 L220.0 420.3Z" fill="none" stroke="#3a8a20" stroke-width="0.8"/>
<path d="M221.8 420.3 L222.9 418.4 L224.0 420.3Z" fill="none" stroke="#c04410" stroke-width="0.8"/>
<circle cx="226.8" cy="419.4" r="0.95" fill="none" stroke="#c04410" stroke-width="0.8"/>
<path d="M229.7 420.3 L230.8 418.4 L231.9 420.3Z" fill="none" stroke="#b87a18" stroke-width="0.8"/>
<circle cx="238.7" cy="419.4" r="0.95" fill="none" stroke="#b87a18" stroke-width="0.8"/>
<path d="M241.5 420.3 L242.6 418.4 L243.7 420.3Z" fill="none" stroke="#a8801c" stroke-width="0.8"/>
<circle cx="246.6" cy="419.4" r="0.95" fill="none" stroke="#a8480e" stroke-width="0.8"/>
<circle cx="250.5" cy="419.4" r="0.95" fill="none" stroke="#a8480e" stroke-width="0.8"/>
<path d="M253.3 420.3 L254.4 418.4 L255.5 420.3Z" fill="none" stroke="#8a320c" stroke-width="0.8"/>
<path d="M257.3 420.3 L258.4 418.4 L259.5 420.3Z" fill="none" stroke="#9a3810" stroke-width="0.8"/>
<circle cx="270.2" cy="419.4" r="0.95" fill="none" stroke="#9a3810" stroke-width="0.8"/>
<path d="M277.0 420.3 L278.1 418.4 L279.2 420.3Z" fill="none" stroke="#b06a14" stroke-width="0.8"/>
<path d="M281.0 420.3 L282.1 418.4 L283.2 420.3Z" fill="none" stroke="#a8801c" stroke-width="0.8"/>
<path d="M284.9 420.3 L286.0 418.4 L287.1 420.3Z" fill="none" stroke="#a8801c" stroke-width="0.8"/>
<circle cx="293.9" cy="419.4" r="0.95" fill="none" stroke="#8a320c" stroke-width="0.8"/>
<circle cx="297.8" cy="419.4" r="0.95" fill="none" stroke="#9a3810" stroke-width="0.8"/>
<circle cx="301.8" cy="419.4" r="0.95" fill="none" stroke="#a03410" stroke-width="0.8"/>
<circle cx="305.7" cy="419.4" r="0.95" fill="none" stroke="#9a3810" stroke-width="0.8"/>
<circle cx="309.7" cy="419.4" r="0.95" fill="none" stroke="#c04410" stroke-width="0.8"/>
<circle cx="313.6" cy="419.4" r="0.95" fill="none" stroke="#8a320c" stroke-width="0.8"/>
<path d="M316.5 420.3 L317.6 418.4 L318.7 420.3Z" fill="none" stroke="#b05210" stroke-width="0.8"/>
<path d="M324.4 420.3 L325.5 418.4 L326.6 420.3Z" fill="none" stroke="#a03410" stroke-width="0.8"/>
<circle cx="329.4" cy="419.4" r="0.95" fill="none" stroke="#b87a18" stroke-width="0.8"/>
<circle cx="333.4" cy="419.4" r="0.95" fill="none" stroke="#3a8a20" stroke-width="0.8"/>
<path d="M336.2 420.3 L337.3 418.4 L338.4 420.3Z" fill="none" stroke="#1f7048" stroke-width="0.8"/>
<path d="M217.8 424.3 L218.9 422.4 L220.0 424.3Z" fill="none" stroke="#a8801c" stroke-width="0.8"/>
<path d="M221.8 424.3 L222.9 422.4 L224.0 424.3Z" fill="none" stroke="#b06a14" stroke-width="0.8"/>
<path d="M225.7 424.3 L226.8 422.4 L227.9 424.3Z" fill="none" stroke="#a03410" stroke-width="0.8"/>
<circle cx="230.8" cy="423.4" r="0.95" fill="none" stroke="#8a320c" stroke-width="0.8"/>
<circle cx="234.7" cy="423.4" r="0.95" fill="none" stroke="#9a3810" stroke-width="0.8"/>
<circle cx="238.7" cy="423.4" r="0.95" fill="none" stroke="#8a320c" stroke-width="0.8"/>
<circle cx="242.6" cy="423.4" r="0.95" fill="none" stroke="#b06a14" stroke-width="0.8"/>
<circle cx="246.6" cy="423.4" r="0.95" fill="none" stroke="#a03410" stroke-width="0.8"/>
<circle cx="250.5" cy="423.4" r="0.95" fill="none" stroke="#a8480e" stroke-width="0.8"/>
<circle cx="254.4" cy="423.4" r="0.95" fill="none" stroke="#9a3810" stroke-width="0.8"/>
<path d="M257.3 424.3 L258.4 422.4 L259.5 424.3Z" fill="none" stroke="#b06a14" stroke-width="0.8"/>
<path d="M261.2 424.3 L262.3 422.4 L263.4 424.3Z" fill="none" stroke="#c04410" stroke-width="0.8"/>
<circle cx="266.3" cy="423.4" r="0.95" fill="none" stroke="#b05210" stroke-width="0.8"/>
<circle cx="270.2" cy="423.4" r="0.95" fill="none" stroke="#a8801c" stroke-width="0.8"/>
<path d="M273.1 424.3 L274.2 422.4 L275.3 424.3Z" fill="none" stroke="#a8480e" stroke-width="0.8"/>
<path d="M281.0 424.3 L282.1 422.4 L283.2 424.3Z" fill="none" stroke="#8a3a14" stroke-width="0.8"/>
<circle cx="286.0" cy="423.4" r="0.95" fill="none" stroke="#a8801c" stroke-width="0.8"/>
<path d="M288.9 424.3 L290.0 422.4 L291.1 424.3Z" fill="none" stroke="#9a3810" stroke-width="0.8"/>
<circle cx="293.9" cy="423.4" r="0.95" fill="none" stroke="#b05210" stroke-width="0.8"/>
<circle cx="297.8" cy="423.4" r="0.95" fill="none" stroke="#b06a14" stroke-width="0.8"/>
<circle cx="301.8" cy="423.4" r="0.95" fill="none" stroke="#b05210" stroke-width="0.8"/>
<path d="M304.6 424.3 L305.7 422.4 L306.8 424.3Z" fill="none" stroke="#b06a14" stroke-width="0.8"/>
<path d="M308.6 424.3 L309.7 422.4 L310.8 424.3Z" fill="none" stroke="#8a320c" stroke-width="0.8"/>
<circle cx="317.6" cy="423.4" r="0.95" fill="none" stroke="#a8801c" stroke-width="0.8"/>
<path d="M320.4 424.3 L321.5 422.4 L322.6 424.3Z" fill="none" stroke="#a8801c" stroke-width="0.8"/>
<path d="M324.4 424.3 L325.5 422.4 L326.6 424.3Z" fill="none" stroke="#a03410" stroke-width="0.8"/>
<path d="M328.3 424.3 L329.4 422.4 L330.5 424.3Z" fill="none" stroke="#5a8a20" stroke-width="0.8"/>
<circle cx="337.3" cy="423.4" r="0.95" fill="none" stroke="#1f7048" stroke-width="0.8"/>
<path d="M213.9 428.4 L215.0 426.5 L216.1 428.4Z" fill="none" stroke="#3a8a28" stroke-width="0.8"/>
<circle cx="218.9" cy="427.5" r="0.95" fill="none" stroke="#5a8a18" stroke-width="0.8"/>
<circle cx="222.9" cy="427.5" r="0.95" fill="none" stroke="#c04410" stroke-width="0.8"/>
<circle cx="226.8" cy="427.5" r="0.95" fill="none" stroke="#8a3a14" stroke-width="0.8"/>
<circle cx="230.8" cy="427.5" r="0.95" fill="none" stroke="#c04410" stroke-width="0.8"/>
<path d="M233.6 428.4 L234.7 426.5 L235.8 428.4Z" fill="none" stroke="#b05210" stroke-width="0.8"/>
<circle cx="238.7" cy="427.5" r="0.95" fill="none" stroke="#b05210" stroke-width="0.8"/>
<circle cx="242.6" cy="427.5" r="0.95" fill="none" stroke="#a8480e" stroke-width="0.8"/>
<circle cx="250.5" cy="427.5" r="0.95" fill="none" stroke="#8a320c" stroke-width="0.8"/>
<path d="M253.3 428.4 L254.4 426.5 L255.5 428.4Z" fill="none" stroke="#8a3a14" stroke-width="0.8"/>
<circle cx="258.4" cy="427.5" r="0.95" fill="none" stroke="#5a8a20" stroke-width="0.8"/>
<circle cx="266.3" cy="427.5" r="0.95" fill="none" stroke="#b05210" stroke-width="0.8"/>
<path d="M269.1 428.4 L270.2 426.5 L271.3 428.4Z" fill="none" stroke="#c04410" stroke-width="0.8"/>
<path d="M273.1 428.4 L274.2 426.5 L275.3 428.4Z" fill="none" stroke="#a8801c" stroke-width="0.8"/>
<path d="M281.0 428.4 L282.1 426.5 L283.2 428.4Z" fill="none" stroke="#c04410" stroke-width="0.8"/>
<path d="M284.9 428.4 L286.0 426.5 L287.1 428.4Z" fill="none" stroke="#b87a18" stroke-width="0.8"/>
<circle cx="290.0" cy="427.5" r="0.95" fill="none" stroke="#8a3a14" stroke-width="0.8"/>
<path d="M292.8 428.4 L293.9 426.5 L295.0 428.4Z" fill="none" stroke="#b05210" stroke-width="0.8"/>
<path d="M300.7 428.4 L301.8 426.5 L302.9 428.4Z" fill="none" stroke="#8a3a14" stroke-width="0.8"/>
<circle cx="305.7" cy="427.5" r="0.95" fill="none" stroke="#c04410" stroke-width="0.8"/>
<circle cx="309.7" cy="427.5" r="0.95" fill="none" stroke="#9a3810" stroke-width="0.8"/>
<path d="M312.5 428.4 L313.6 426.5 L314.7 428.4Z" fill="none" stroke="#8a3a14" stroke-width="0.8"/>
<path d="M316.5 428.4 L317.6 426.5 L318.7 428.4Z" fill="none" stroke="#8a320c" stroke-width="0.8"/>
<circle cx="321.5" cy="427.5" r="0.95" fill="none" stroke="#c04410" stroke-width="0.8"/>
<path d="M324.4 428.4 L325.5 426.5 L326.6 428.4Z" fill="none" stroke="#c04410" stroke-width="0.8"/>
<circle cx="329.4" cy="427.5" r="0.95" fill="none" stroke="#c04410" stroke-width="0.8"/>
<circle cx="215.0" cy="431.5" r="0.95" fill="none" stroke="#3a8a28" stroke-width="0.8"/>
<path d="M217.8 432.4 L218.9 430.5 L220.0 432.4Z" fill="none" stroke="#3a8a20" stroke-width="0.8"/>
<path d="M225.7 432.4 L226.8 430.5 L227.9 432.4Z" fill="none" stroke="#9a3810" stroke-width="0.8"/>
<path d="M229.7 432.4 L230.8 430.5 L231.9 432.4Z" fill="none" stroke="#a8801c" stroke-width="0.8"/>
<circle cx="234.7" cy="431.5" r="0.95" fill="none" stroke="#a8480e" stroke-width="0.8"/>
<circle cx="238.7" cy="431.5" r="0.95" fill="none" stroke="#a8801c" stroke-width="0.8"/>
<path d="M241.5 432.4 L242.6 430.5 L243.7 432.4Z" fill="none" stroke="#8a320c" stroke-width="0.8"/>
<path d="M245.5 432.4 L246.6 430.5 L247.7 432.4Z" fill="none" stroke="#9a3810" stroke-width="0.8"/>
<circle cx="250.5" cy="431.5" r="0.95" fill="none" stroke="#a8480e" stroke-width="0.8"/>
<path d="M253.3 432.4 L254.4 430.5 L255.5 432.4Z" fill="none" stroke="#b87a18" stroke-width="0.8"/>
<circle cx="258.4" cy="431.5" r="0.95" fill="none" stroke="#a8480e" stroke-width="0.8"/>
<path d="M261.2 432.4 L262.3 430.5 L263.4 432.4Z" fill="none" stroke="#8a3a14" stroke-width="0.8"/>
<circle cx="266.3" cy="431.5" r="0.95" fill="none" stroke="#b06a14" stroke-width="0.8"/>
<circle cx="270.2" cy="431.5" r="0.95" fill="none" stroke="#b87a18" stroke-width="0.8"/>
<path d="M273.1 432.4 L274.2 430.5 L275.3 432.4Z" fill="none" stroke="#b87a18" stroke-width="0.8"/>
<path d="M281.0 432.4 L282.1 430.5 L283.2 432.4Z" fill="none" stroke="#9a3810" stroke-width="0.8"/>
<circle cx="286.0" cy="431.5" r="0.95" fill="none" stroke="#8a320c" stroke-width="0.8"/>
<path d="M288.9 432.4 L290.0 430.5 L291.1 432.4Z" fill="none" stroke="#9a3810" stroke-width="0.8"/>
<circle cx="293.9" cy="431.5" r="0.95" fill="none" stroke="#9a3810" stroke-width="0.8"/>
<circle cx="297.8" cy="431.5" r="0.95" fill="none" stroke="#b05210" stroke-width="0.8"/>
<path d="M300.7 432.4 L301.8 430.5 L302.9 432.4Z" fill="none" stroke="#a8480e" stroke-width="0.8"/>
<path d="M304.6 432.4 L305.7 430.5 L306.8 432.4Z" fill="none" stroke="#c04410" stroke-width="0.8"/>
<path d="M308.6 432.4 L309.7 430.5 L310.8 432.4Z" fill="none" stroke="#b06a14" stroke-width="0.8"/>
<path d="M312.5 432.4 L313.6 430.5 L314.7 432.4Z" fill="none" stroke="#a03410" stroke-width="0.8"/>
<path d="M316.5 432.4 L317.6 430.5 L318.7 432.4Z" fill="none" stroke="#b06a14" stroke-width="0.8"/>
<path d="M320.4 432.4 L321.5 430.5 L322.6 432.4Z" fill="none" stroke="#c04410" stroke-width="0.8"/>
<circle cx="325.5" cy="431.5" r="0.95" fill="none" stroke="#c04410" stroke-width="0.8"/>
<path d="M328.3 432.4 L329.4 430.5 L330.5 432.4Z" fill="none" stroke="#a8480e" stroke-width="0.8"/>
<circle cx="333.4" cy="431.5" r="0.95" fill="none" stroke="#3a8a20" stroke-width="0.8"/>
<circle cx="215.0" cy="435.6" r="0.95" fill="none" stroke="#1f7048" stroke-width="0.8"/>
<path d="M217.8 436.5 L218.9 434.6 L220.0 436.5Z" fill="none" stroke="#5a8a18" stroke-width="0.8"/>
<circle cx="222.9" cy="435.6" r="0.95" fill="none" stroke="#a03410" stroke-width="0.8"/>
<path d="M225.7 436.5 L226.8 434.6 L227.9 436.5Z" fill="none" stroke="#a8801c" stroke-width="0.8"/>
<circle cx="230.8" cy="435.6" r="0.95" fill="none" stroke="#9a3810" stroke-width="0.8"/>
<circle cx="238.7" cy="435.6" r="0.95" fill="none" stroke="#8a3a14" stroke-width="0.8"/>
<circle cx="242.6" cy="435.6" r="0.95" fill="none" stroke="#b87a18" stroke-width="0.8"/>
<path d="M245.5 436.5 L246.6 434.6 L247.7 436.5Z" fill="none" stroke="#b05210" stroke-width="0.8"/>
<path d="M249.4 436.5 L250.5 434.6 L251.6 436.5Z" fill="none" stroke="#a03410" stroke-width="0.8"/>
<circle cx="254.4" cy="435.6" r="0.95" fill="none" stroke="#a8801c" stroke-width="0.8"/>
<path d="M257.3 436.5 L258.4 434.6 L259.5 436.5Z" fill="none" stroke="#8a3a14" stroke-width="0.8"/>
<path d="M261.2 436.5 L262.3 434.6 L263.4 436.5Z" fill="none" stroke="#b06a14" stroke-width="0.8"/>
<path d="M265.2 436.5 L266.3 434.6 L267.4 436.5Z" fill="none" stroke="#b87a18" stroke-width="0.8"/>
<circle cx="274.2" cy="435.6" r="0.95" fill="none" stroke="#c04410" stroke-width="0.8"/>
<circle cx="278.1" cy="435.6" r="0.95" fill="none" stroke="#b06a14" stroke-width="0.8"/>
<circle cx="282.1" cy="435.6" r="0.95" fill="none" stroke="#c04410" stroke-width="0.8"/>
<path d="M284.9 436.5 L286.0 434.6 L287.1 436.5Z" fill="none" stroke="#b05210" stroke-width="0.8"/>
<path d="M288.9 436.5 L290.0 434.6 L291.1 436.5Z" fill="none" stroke="#a8801c" stroke-width="0.8"/>
<circle cx="293.9" cy="435.6" r="0.95" fill="none" stroke="#8a320c" stroke-width="0.8"/>
<circle cx="297.8" cy="435.6" r="0.95" fill="none" stroke="#a03410" stroke-width="0.8"/>
<path d="M300.7 436.5 L301.8 434.6 L302.9 436.5Z" fill="none" stroke="#a03410" stroke-width="0.8"/>
<path d="M304.6 436.5 L305.7 434.6 L306.8 436.5Z" fill="none" stroke="#a8480e" stroke-width="0.8"/>
<circle cx="309.7" cy="435.6" r="0.95" fill="none" stroke="#b87a18" stroke-width="0.8"/>
<path d="M312.5 436.5 L313.6 434.6 L314.7 436.5Z" fill="none" stroke="#b05210" stroke-width="0.8"/>
<circle cx="317.6" cy="435.6" r="0.95" fill="none" stroke="#c04410" stroke-width="0.8"/>
<circle cx="321.5" cy="435.6" r="0.95" fill="none" stroke="#c04410" stroke-width="0.8"/>
<path d="M324.4 436.5 L325.5 434.6 L326.6 436.5Z" fill="none" stroke="#b87a18" stroke-width="0.8"/>
<path d="M332.2 436.5 L333.4 434.6 L334.5 436.5Z" fill="none" stroke="#6a7a20" stroke-width="0.8"/>
<circle cx="337.3" cy="435.6" r="0.95" fill="none" stroke="#1a6a58" stroke-width="0.8"/>
<path d="M213.9 440.5 L215.0 438.6 L216.1 440.5Z" fill="none" stroke="#2a8030" stroke-width="0.8"/>
<circle cx="218.9" cy="439.6" r="0.95" fill="none" stroke="#a03410" stroke-width="0.8"/>
<path d="M221.8 440.5 L222.9 438.6 L224.0 440.5Z" fill="none" stroke="#b05210" stroke-width="0.8"/>
<circle cx="226.8" cy="439.6" r="0.95" fill="none" stroke="#8a3a14" stroke-width="0.8"/>
<circle cx="234.7" cy="439.6" r="0.95" fill="none" stroke="#9a3810" stroke-width="0.8"/>
<circle cx="238.7" cy="439.6" r="0.95" fill="none" stroke="#a8801c" stroke-width="0.8"/>
<circle cx="242.6" cy="439.6" r="0.95" fill="none" stroke="#8a3a14" stroke-width="0.8"/>
<path d="M245.5 440.5 L246.6 438.6 L247.7 440.5Z" fill="none" stroke="#8a320c" stroke-width="0.8"/>
<path d="M249.4 440.5 L250.5 438.6 L251.6 440.5Z" fill="none" stroke="#b05210" stroke-width="0.8"/>
<circle cx="254.4" cy="439.6" r="0.95" fill="none" stroke="#a8480e" stroke-width="0.8"/>
<path d="M257.3 440.5 L258.4 438.6 L259.5 440.5Z" fill="none" stroke="#a03410" stroke-width="0.8"/>
<path d="M261.2 440.5 L262.3 438.6 L263.4 440.5Z" fill="none" stroke="#a8801c" stroke-width="0.8"/>
<path d="M265.2 440.5 L266.3 438.6 L267.4 440.5Z" fill="none" stroke="#b87a18" stroke-width="0.8"/>
<circle cx="270.2" cy="439.6" r="0.95" fill="none" stroke="#b05210" stroke-width="0.8"/>
<path d="M273.1 440.5 L274.2 438.6 L275.3 440.5Z" fill="none" stroke="#a03410" stroke-width="0.8"/>
<path d="M277.0 440.5 L278.1 438.6 L279.2 440.5Z" fill="none" stroke="#a03410" stroke-width="0.8"/>
<path d="M281.0 440.5 L282.1 438.6 L283.2 440.5Z" fill="none" stroke="#c04410" stroke-width="0.8"/>
<circle cx="286.0" cy="439.6" r="0.95" fill="none" stroke="#8a320c" stroke-width="0.8"/>
<circle cx="290.0" cy="439.6" r="0.95" fill="none" stroke="#a03410" stroke-width="0.8"/>
<path d="M292.8 440.5 L293.9 438.6 L295.0 440.5Z" fill="none" stroke="#9a3810" stroke-width="0.8"/>
<path d="M296.7 440.5 L297.8 438.6 L298.9 440.5Z" fill="none" stroke="#b05210" stroke-width="0.8"/>
<circle cx="301.8" cy="439.6" r="0.95" fill="none" stroke="#8a320c" stroke-width="0.8"/>
<path d="M304.6 440.5 L305.7 438.6 L306.8 440.5Z" fill="none" stroke="#808a20" stroke-width="0.8"/>
<path d="M312.5 440.5 L313.6 438.6 L314.7 440.5Z" fill="none" stroke="#9a3810" stroke-width="0.8"/>
<circle cx="317.6" cy="439.6" r="0.95" fill="none" stroke="#8a320c" stroke-width="0.8"/>
<circle cx="321.5" cy="439.6" r="0.95" fill="none" stroke="#b06a14" stroke-width="0.8"/>
<circle cx="325.5" cy="439.6" r="0.95" fill="none" stroke="#9a3810" stroke-width="0.8"/>
<path d="M332.2 440.5 L333.4 438.6 L334.5 440.5Z" fill="none" stroke="#5a8a18" stroke-width="0.8"/>
<path d="M336.2 440.5 L337.3 438.6 L338.4 440.5Z" fill="none" stroke="#1f7048" stroke-width="0.8"/>
<path d="M213.9 444.5 L215.0 442.6 L216.1 444.5Z" fill="none" stroke="#1a6a58" stroke-width="0.8"/>
<path d="M217.8 444.5 L218.9 442.6 L220.0 444.5Z" fill="none" stroke="#a03410" stroke-width="0.8"/>
<circle cx="222.9" cy="443.6" r="0.95" fill="none" stroke="#b06a14" stroke-width="0.8"/>
<path d="M225.7 444.5 L226.8 442.6 L227.9 444.5Z" fill="none" stroke="#a03410" stroke-width="0.8"/>
<circle cx="230.8" cy="443.6" r="0.95" fill="none" stroke="#808a20" stroke-width="0.8"/>
<circle cx="238.7" cy="443.6" r="0.95" fill="none" stroke="#5a8a20" stroke-width="0.8"/>
<circle cx="250.5" cy="443.6" r="0.95" fill="none" stroke="#b06a14" stroke-width="0.8"/>
<circle cx="254.4" cy="443.6" r="0.95" fill="none" stroke="#a8480e" stroke-width="0.8"/>
<circle cx="258.4" cy="443.6" r="0.95" fill="none" stroke="#b87a18" stroke-width="0.8"/>
<path d="M261.2 444.5 L262.3 442.6 L263.4 444.5Z" fill="none" stroke="#a8801c" stroke-width="0.8"/>
<circle cx="266.3" cy="443.6" r="0.95" fill="none" stroke="#a03410" stroke-width="0.8"/>
<circle cx="270.2" cy="443.6" r="0.95" fill="none" stroke="#c04410" stroke-width="0.8"/>
<path d="M281.0 444.5 L282.1 442.6 L283.2 444.5Z" fill="none" stroke="#b05210" stroke-width="0.8"/>
<path d="M284.9 444.5 L286.0 442.6 L287.1 444.5Z" fill="none" stroke="#c04410" stroke-width="0.8"/>
<circle cx="290.0" cy="443.6" r="0.95" fill="none" stroke="#b87a18" stroke-width="0.8"/>
<path d="M292.8 444.5 L293.9 442.6 L295.0 444.5Z" fill="none" stroke="#a03410" stroke-width="0.8"/>
<path d="M296.7 444.5 L297.8 442.6 L298.9 444.5Z" fill="none" stroke="#b06a14" stroke-width="0.8"/>
<path d="M300.7 444.5 L301.8 442.6 L302.9 444.5Z" fill="none" stroke="#b87a18" stroke-width="0.8"/>
<circle cx="305.7" cy="443.6" r="0.95" fill="none" stroke="#8a3a14" stroke-width="0.8"/>
<circle cx="309.7" cy="443.6" r="0.95" fill="none" stroke="#5a8a20" stroke-width="0.8"/>
<circle cx="313.6" cy="443.6" r="0.95" fill="none" stroke="#8a3a14" stroke-width="0.8"/>
<path d="M316.5 444.5 L317.6 442.6 L318.7 444.5Z" fill="none" stroke="#b05210" stroke-width="0.8"/>
<path d="M320.4 444.5 L321.5 442.6 L322.6 444.5Z" fill="none" stroke="#a03410" stroke-width="0.8"/>
<circle cx="325.5" cy="443.6" r="0.95" fill="none" stroke="#b87a18" stroke-width="0.8"/>
<path d="M336.2 444.5 L337.3 442.6 L338.4 444.5Z" fill="none" stroke="#1f7048" stroke-width="0.8"/>
<path d="M213.9 448.6 L215.0 446.7 L216.1 448.6Z" fill="none" stroke="#1f7048" stroke-width="0.8"/>
<circle cx="218.9" cy="447.7" r="0.95" fill="none" stroke="#b05210" stroke-width="0.8"/>
<circle cx="222.9" cy="447.7" r="0.95" fill="none" stroke="#a8801c" stroke-width="0.8"/>
<path d="M225.7 448.6 L226.8 446.7 L227.9 448.6Z" fill="none" stroke="#a8480e" stroke-width="0.8"/>
<circle cx="234.7" cy="447.7" r="0.95" fill="none" stroke="#6a7a20" stroke-width="0.8"/>
<path d="M237.6 448.6 L238.7 446.7 L239.8 448.6Z" fill="none" stroke="#8a3a14" stroke-width="0.8"/>
<path d="M241.5 448.6 L242.6 446.7 L243.7 448.6Z" fill="none" stroke="#8a3a14" stroke-width="0.8"/>
<path d="M245.5 448.6 L246.6 446.7 L247.7 448.6Z" fill="none" stroke="#a8801c" stroke-width="0.8"/>
<circle cx="250.5" cy="447.7" r="0.95" fill="none" stroke="#b05210" stroke-width="0.8"/>
<path d="M253.3 448.6 L254.4 446.7 L255.5 448.6Z" fill="none" stroke="#808a20" stroke-width="0.8"/>
<path d="M257.3 448.6 L258.4 446.7 L259.5 448.6Z" fill="none" stroke="#6a7a20" stroke-width="0.8"/>
<circle cx="266.3" cy="447.7" r="0.95" fill="none" stroke="#808a20" stroke-width="0.8"/>
<circle cx="270.2" cy="447.7" r="0.95" fill="none" stroke="#9a3810" stroke-width="0.8"/>
<path d="M273.1 448.6 L274.2 446.7 L275.3 448.6Z" fill="none" stroke="#a8801c" stroke-width="0.8"/>
<circle cx="278.1" cy="447.7" r="0.95" fill="none" stroke="#9a3810" stroke-width="0.8"/>
<path d="M281.0 448.6 L282.1 446.7 L283.2 448.6Z" fill="none" stroke="#b87a18" stroke-width="0.8"/>
<circle cx="286.0" cy="447.7" r="0.95" fill="none" stroke="#9a3810" stroke-width="0.8"/>
<circle cx="290.0" cy="447.7" r="0.95" fill="none" stroke="#b87a18" stroke-width="0.8"/>
<path d="M292.8 448.6 L293.9 446.7 L295.0 448.6Z" fill="none" stroke="#9a3810" stroke-width="0.8"/>
<circle cx="297.8" cy="447.7" r="0.95" fill="none" stroke="#a8801c" stroke-width="0.8"/>
<path d="M300.7 448.6 L301.8 446.7 L302.9 448.6Z" fill="none" stroke="#9a3810" stroke-width="0.8"/>
<circle cx="305.7" cy="447.7" r="0.95" fill="none" stroke="#b87a18" stroke-width="0.8"/>
<path d="M308.6 448.6 L309.7 446.7 L310.8 448.6Z" fill="none" stroke="#c04410" stroke-width="0.8"/>
<path d="M312.5 448.6 L313.6 446.7 L314.7 448.6Z" fill="none" stroke="#8a3a14" stroke-width="0.8"/>
<circle cx="317.6" cy="447.7" r="0.95" fill="none" stroke="#c04410" stroke-width="0.8"/>
<path d="M320.4 448.6 L321.5 446.7 L322.6 448.6Z" fill="none" stroke="#9a3810" stroke-width="0.8"/>
<path d="M324.4 448.6 L325.5 446.7 L326.6 448.6Z" fill="none" stroke="#8a320c" stroke-width="0.8"/>
<path d="M328.3 448.6 L329.4 446.7 L330.5 448.6Z" fill="none" stroke="#b06a14" stroke-width="0.8"/>
<path d="M332.2 448.6 L333.4 446.7 L334.5 448.6Z" fill="none" stroke="#3a8a20" stroke-width="0.8"/>
<circle cx="337.3" cy="447.7" r="0.95" fill="none" stroke="#1f7048" stroke-width="0.8"/>
<circle cx="215.0" cy="451.7" r="0.95" fill="none" stroke="#1e7a34" stroke-width="0.8"/>
<path d="M217.8 452.6 L218.9 450.7 L220.0 452.6Z" fill="none" stroke="#c04410" stroke-width="0.8"/>
<circle cx="230.8" cy="451.7" r="0.95" fill="none" stroke="#8a320c" stroke-width="0.8"/>
<circle cx="234.7" cy="451.7" r="0.95" fill="none" stroke="#a8480e" stroke-width="0.8"/>
<path d="M237.6 452.6 L238.7 450.7 L239.8 452.6Z" fill="none" stroke="#6a7a20" stroke-width="0.8"/>
<path d="M241.5 452.6 L242.6 450.7 L243.7 452.6Z" fill="none" stroke="#c04410" stroke-width="0.8"/>
<circle cx="246.6" cy="451.7" r="0.95" fill="none" stroke="#c04410" stroke-width="0.8"/>
<path d="M249.4 452.6 L250.5 450.7 L251.6 452.6Z" fill="none" stroke="#9a3810" stroke-width="0.8"/>
<path d="M253.3 452.6 L254.4 450.7 L255.5 452.6Z" fill="none" stroke="#9a3810" stroke-width="0.8"/>
<path d="M265.2 452.6 L266.3 450.7 L267.4 452.6Z" fill="none" stroke="#8a3a14" stroke-width="0.8"/>
<circle cx="270.2" cy="451.7" r="0.95" fill="none" stroke="#a8480e" stroke-width="0.8"/>
<circle cx="274.2" cy="451.7" r="0.95" fill="none" stroke="#b06a14" stroke-width="0.8"/>
<circle cx="278.1" cy="451.7" r="0.95" fill="none" stroke="#b05210" stroke-width="0.8"/>
<circle cx="286.0" cy="451.7" r="0.95" fill="none" stroke="#8a320c" stroke-width="0.8"/>
<path d="M288.9 452.6 L290.0 450.7 L291.1 452.6Z" fill="none" stroke="#a03410" stroke-width="0.8"/>
<circle cx="293.9" cy="451.7" r="0.95" fill="none" stroke="#b05210" stroke-width="0.8"/>
<path d="M296.7 452.6 L297.8 450.7 L298.9 452.6Z" fill="none" stroke="#9a3810" stroke-width="0.8"/>
<circle cx="301.8" cy="451.7" r="0.95" fill="none" stroke="#a03410" stroke-width="0.8"/>
<circle cx="305.7" cy="451.7" r="0.95" fill="none" stroke="#a8480e" stroke-width="0.8"/>
<circle cx="309.7" cy="451.7" r="0.95" fill="none" stroke="#a03410" stroke-width="0.8"/>
<path d="M316.5 452.6 L317.6 450.7 L318.7 452.6Z" fill="none" stroke="#a8480e" stroke-width="0.8"/>
<circle cx="321.5" cy="451.7" r="0.95" fill="none" stroke="#a8480e" stroke-width="0.8"/>
<circle cx="325.5" cy="451.7" r="0.95" fill="none" stroke="#b05210" stroke-width="0.8"/>
<circle cx="329.4" cy="451.7" r="0.95" fill="none" stroke="#8a3a14" stroke-width="0.8"/>
<path d="M332.2 452.6 L333.4 450.7 L334.5 452.6Z" fill="none" stroke="#7a7a18" stroke-width="0.8"/>
<circle cx="337.3" cy="451.7" r="0.95" fill="none" stroke="#1a6a58" stroke-width="0.8"/>
<circle cx="215.0" cy="455.8" r="0.95" fill="none" stroke="#2a8030" stroke-width="0.8"/>
<circle cx="218.9" cy="455.8" r="0.95" fill="none" stroke="#7a7a18" stroke-width="0.8"/>
<path d="M221.8 456.7 L222.9 454.8 L224.0 456.7Z" fill="none" stroke="#b87a18" stroke-width="0.8"/>
<circle cx="226.8" cy="455.8" r="0.95" fill="none" stroke="#a8480e" stroke-width="0.8"/>
<circle cx="230.8" cy="455.8" r="0.95" fill="none" stroke="#b05210" stroke-width="0.8"/>
<path d="M233.6 456.7 L234.7 454.8 L235.8 456.7Z" fill="none" stroke="#a03410" stroke-width="0.8"/>
<path d="M237.6 456.7 L238.7 454.8 L239.8 456.7Z" fill="none" stroke="#9a3810" stroke-width="0.8"/>
<path d="M241.5 456.7 L242.6 454.8 L243.7 456.7Z" fill="none" stroke="#c04410" stroke-width="0.8"/>
<circle cx="246.6" cy="455.8" r="0.95" fill="none" stroke="#9a3810" stroke-width="0.8"/>
<circle cx="250.5" cy="455.8" r="0.95" fill="none" stroke="#b06a14" stroke-width="0.8"/>
<path d="M257.3 456.7 L258.4 454.8 L259.5 456.7Z" fill="none" stroke="#5a8a20" stroke-width="0.8"/>
<circle cx="262.3" cy="455.8" r="0.95" fill="none" stroke="#a03410" stroke-width="0.8"/>
<circle cx="266.3" cy="455.8" r="0.95" fill="none" stroke="#a03410" stroke-width="0.8"/>
<path d="M269.1 456.7 L270.2 454.8 L271.3 456.7Z" fill="none" stroke="#a03410" stroke-width="0.8"/>
<circle cx="274.2" cy="455.8" r="0.95" fill="none" stroke="#b87a18" stroke-width="0.8"/>
<path d="M277.0 456.7 L278.1 454.8 L279.2 456.7Z" fill="none" stroke="#b87a18" stroke-width="0.8"/>
<path d="M281.0 456.7 L282.1 454.8 L283.2 456.7Z" fill="none" stroke="#8a3a14" stroke-width="0.8"/>
<circle cx="290.0" cy="455.8" r="0.95" fill="none" stroke="#b06a14" stroke-width="0.8"/>
<circle cx="293.9" cy="455.8" r="0.95" fill="none" stroke="#a03410" stroke-width="0.8"/>
<path d="M296.7 456.7 L297.8 454.8 L298.9 456.7Z" fill="none" stroke="#b06a14" stroke-width="0.8"/>
<circle cx="301.8" cy="455.8" r="0.95" fill="none" stroke="#9a3810" stroke-width="0.8"/>
<circle cx="305.7" cy="455.8" r="0.95" fill="none" stroke="#a8801c" stroke-width="0.8"/>
<path d="M308.6 456.7 L309.7 454.8 L310.8 456.7Z" fill="none" stroke="#8a320c" stroke-width="0.8"/>
<circle cx="313.6" cy="455.8" r="0.95" fill="none" stroke="#8a3a14" stroke-width="0.8"/>
<circle cx="317.6" cy="455.8" r="0.95" fill="none" stroke="#a8801c" stroke-width="0.8"/>
<circle cx="321.5" cy="455.8" r="0.95" fill="none" stroke="#a03410" stroke-width="0.8"/>
<circle cx="325.5" cy="455.8" r="0.95" fill="none" stroke="#c04410" stroke-width="0.8"/>
<path d="M328.3 456.7 L329.4 454.8 L330.5 456.7Z" fill="none" stroke="#8a3a14" stroke-width="0.8"/>
<circle cx="333.4" cy="455.8" r="0.95" fill="none" stroke="#7a7a18" stroke-width="0.8"/>
<path d="M336.2 456.7 L337.3 454.8 L338.4 456.7Z" fill="none" stroke="#1e7a34" stroke-width="0.8"/>
<circle cx="215.0" cy="459.8" r="0.95" fill="none" stroke="#2a8030" stroke-width="0.8"/>
<circle cx="218.9" cy="459.8" r="0.95" fill="none" stroke="#b87a18" stroke-width="0.8"/>
<circle cx="222.9" cy="459.8" r="0.95" fill="none" stroke="#8a3a14" stroke-width="0.8"/>
<circle cx="226.8" cy="459.8" r="0.95" fill="none" stroke="#b06a14" stroke-width="0.8"/>
<circle cx="234.7" cy="459.8" r="0.95" fill="none" stroke="#c04410" stroke-width="0.8"/>
<path d="M237.6 460.7 L238.7 458.8 L239.8 460.7Z" fill="none" stroke="#a03410" stroke-width="0.8"/>
<path d="M241.5 460.7 L242.6 458.8 L243.7 460.7Z" fill="none" stroke="#5a8a20" stroke-width="0.8"/>
<circle cx="246.6" cy="459.8" r="0.95" fill="none" stroke="#8a320c" stroke-width="0.8"/>
<path d="M249.4 460.7 L250.5 458.8 L251.6 460.7Z" fill="none" stroke="#b06a14" stroke-width="0.8"/>
<path d="M253.3 460.7 L254.4 458.8 L255.5 460.7Z" fill="none" stroke="#a03410" stroke-width="0.8"/>
<path d="M257.3 460.7 L258.4 458.8 L259.5 460.7Z" fill="none" stroke="#b05210" stroke-width="0.8"/>
<path d="M261.2 460.7 L262.3 458.8 L263.4 460.7Z" fill="none" stroke="#9a3810" stroke-width="0.8"/>
<circle cx="266.3" cy="459.8" r="0.95" fill="none" stroke="#b87a18" stroke-width="0.8"/>
<path d="M269.1 460.7 L270.2 458.8 L271.3 460.7Z" fill="none" stroke="#c04410" stroke-width="0.8"/>
<circle cx="274.2" cy="459.8" r="0.95" fill="none" stroke="#b87a18" stroke-width="0.8"/>
<path d="M277.0 460.7 L278.1 458.8 L279.2 460.7Z" fill="none" stroke="#a8480e" stroke-width="0.8"/>
<path d="M281.0 460.7 L282.1 458.8 L283.2 460.7Z" fill="none" stroke="#a8480e" stroke-width="0.8"/>
<path d="M288.9 460.7 L290.0 458.8 L291.1 460.7Z" fill="none" stroke="#b87a18" stroke-width="0.8"/>
<path d="M292.8 460.7 L293.9 458.8 L295.0 460.7Z" fill="none" stroke="#a8801c" stroke-width="0.8"/>
<path d="M296.7 460.7 L297.8 458.8 L298.9 460.7Z" fill="none" stroke="#a8480e" stroke-width="0.8"/>
<circle cx="301.8" cy="459.8" r="0.95" fill="none" stroke="#a03410" stroke-width="0.8"/>
<path d="M304.6 460.7 L305.7 458.8 L306.8 460.7Z" fill="none" stroke="#8a320c" stroke-width="0.8"/>
<path d="M308.6 460.7 L309.7 458.8 L310.8 460.7Z" fill="none" stroke="#b05210" stroke-width="0.8"/>
<circle cx="313.6" cy="459.8" r="0.95" fill="none" stroke="#b87a18" stroke-width="0.8"/>
<circle cx="317.6" cy="459.8" r="0.95" fill="none" stroke="#a8480e" stroke-width="0.8"/>
<path d="M320.4 460.7 L321.5 458.8 L322.6 460.7Z" fill="none" stroke="#b87a18" stroke-width="0.8"/>
<path d="M324.4 460.7 L325.5 458.8 L326.6 460.7Z" fill="none" stroke="#a8801c" stroke-width="0.8"/>
<circle cx="329.4" cy="459.8" r="0.95" fill="none" stroke="#c04410" stroke-width="0.8"/>
<path d="M332.2 460.7 L333.4 458.8 L334.5 460.7Z" fill="none" stroke="#8a3a14" stroke-width="0.8"/>
<path d="M213.9 464.7 L215.0 462.8 L216.1 464.7Z" fill="none" stroke="#1a6a58" stroke-width="0.8"/>
<circle cx="218.9" cy="463.8" r="0.95" fill="none" stroke="#7a7a18" stroke-width="0.8"/>
<circle cx="222.9" cy="463.8" r="0.95" fill="none" stroke="#a03410" stroke-width="0.8"/>
<circle cx="226.8" cy="463.8" r="0.95" fill="none" stroke="#8a320c" stroke-width="0.8"/>
<circle cx="230.8" cy="463.8" r="0.95" fill="none" stroke="#6a7a20" stroke-width="0.8"/>
<circle cx="238.7" cy="463.8" r="0.95" fill="none" stroke="#8a320c" stroke-width="0.8"/>
<circle cx="242.6" cy="463.8" r="0.95" fill="none" stroke="#8a320c" stroke-width="0.8"/>
<circle cx="246.6" cy="463.8" r="0.95" fill="none" stroke="#a8801c" stroke-width="0.8"/>
<circle cx="250.5" cy="463.8" r="0.95" fill="none" stroke="#a8801c" stroke-width="0.8"/>
<circle cx="254.4" cy="463.8" r="0.95" fill="none" stroke="#8a320c" stroke-width="0.8"/>
<circle cx="258.4" cy="463.8" r="0.95" fill="none" stroke="#a8801c" stroke-width="0.8"/>
<circle cx="266.3" cy="463.8" r="0.95" fill="none" stroke="#a8480e" stroke-width="0.8"/>
<circle cx="270.2" cy="463.8" r="0.95" fill="none" stroke="#8a320c" stroke-width="0.8"/>
<path d="M277.0 464.7 L278.1 462.8 L279.2 464.7Z" fill="none" stroke="#b05210" stroke-width="0.8"/>
<circle cx="282.1" cy="463.8" r="0.95" fill="none" stroke="#b87a18" stroke-width="0.8"/>
<circle cx="290.0" cy="463.8" r="0.95" fill="none" stroke="#b06a14" stroke-width="0.8"/>
<circle cx="293.9" cy="463.8" r="0.95" fill="none" stroke="#a8480e" stroke-width="0.8"/>
<circle cx="301.8" cy="463.8" r="0.95" fill="none" stroke="#a03410" stroke-width="0.8"/>
<path d="M304.6 464.7 L305.7 462.8 L306.8 464.7Z" fill="none" stroke="#8a320c" stroke-width="0.8"/>
<circle cx="309.7" cy="463.8" r="0.95" fill="none" stroke="#c04410" stroke-width="0.8"/>
<circle cx="313.6" cy="463.8" r="0.95" fill="none" stroke="#a03410" stroke-width="0.8"/>
<path d="M316.5 464.7 L317.6 462.8 L318.7 464.7Z" fill="none" stroke="#8a320c" stroke-width="0.8"/>
<circle cx="321.5" cy="463.8" r="0.95" fill="none" stroke="#b87a18" stroke-width="0.8"/>
<path d="M324.4 464.7 L325.5 462.8 L326.6 464.7Z" fill="none" stroke="#a03410" stroke-width="0.8"/>
<path d="M328.3 464.7 L329.4 462.8 L330.5 464.7Z" fill="none" stroke="#a8480e" stroke-width="0.8"/>
<circle cx="333.4" cy="463.8" r="0.95" fill="none" stroke="#3a8a20" stroke-width="0.8"/>
<circle cx="337.3" cy="463.8" r="0.95" fill="none" stroke="#3a8a28" stroke-width="0.8"/>
<path d="M217.8 468.8 L218.9 466.9 L220.0 468.8Z" fill="none" stroke="#7a7a18" stroke-width="0.8"/>
<circle cx="222.9" cy="467.9" r="0.95" fill="none" stroke="#c04410" stroke-width="0.8"/>
<circle cx="226.8" cy="467.9" r="0.95" fill="none" stroke="#8a3a14" stroke-width="0.8"/>
<circle cx="238.7" cy="467.9" r="0.95" fill="none" stroke="#c04410" stroke-width="0.8"/>
<path d="M241.5 468.8 L242.6 466.9 L243.7 468.8Z" fill="none" stroke="#b05210" stroke-width="0.8"/>
<circle cx="246.6" cy="467.9" r="0.95" fill="none" stroke="#c04410" stroke-width="0.8"/>
<path d="M249.4 468.8 L250.5 466.9 L251.6 468.8Z" fill="none" stroke="#9a3810" stroke-width="0.8"/>
<circle cx="254.4" cy="467.9" r="0.95" fill="none" stroke="#8a320c" stroke-width="0.8"/>
<path d="M257.3 468.8 L258.4 466.9 L259.5 468.8Z" fill="none" stroke="#8a3a14" stroke-width="0.8"/>
<path d="M269.1 468.8 L270.2 466.9 L271.3 468.8Z" fill="none" stroke="#b87a18" stroke-width="0.8"/>
<circle cx="274.2" cy="467.9" r="0.95" fill="none" stroke="#8a3a14" stroke-width="0.8"/>
<circle cx="278.1" cy="467.9" r="0.95" fill="none" stroke="#b06a14" stroke-width="0.8"/>
<circle cx="282.1" cy="467.9" r="0.95" fill="none" stroke="#a8801c" stroke-width="0.8"/>
<circle cx="286.0" cy="467.9" r="0.95" fill="none" stroke="#b06a14" stroke-width="0.8"/>
<circle cx="290.0" cy="467.9" r="0.95" fill="none" stroke="#b06a14" stroke-width="0.8"/>
<circle cx="293.9" cy="467.9" r="0.95" fill="none" stroke="#a8480e" stroke-width="0.8"/>
<circle cx="297.8" cy="467.9" r="0.95" fill="none" stroke="#8a3a14" stroke-width="0.8"/>
<path d="M300.7 468.8 L301.8 466.9 L302.9 468.8Z" fill="none" stroke="#a8801c" stroke-width="0.8"/>
<circle cx="305.7" cy="467.9" r="0.95" fill="none" stroke="#a03410" stroke-width="0.8"/>
<circle cx="313.6" cy="467.9" r="0.95" fill="none" stroke="#9a3810" stroke-width="0.8"/>
<circle cx="317.6" cy="467.9" r="0.95" fill="none" stroke="#b05210" stroke-width="0.8"/>
<circle cx="321.5" cy="467.9" r="0.95" fill="none" stroke="#b05210" stroke-width="0.8"/>
<circle cx="325.5" cy="467.9" r="0.95" fill="none" stroke="#a8801c" stroke-width="0.8"/>
<circle cx="329.4" cy="467.9" r="0.95" fill="none" stroke="#9a3810" stroke-width="0.8"/>
<circle cx="333.4" cy="467.9" r="0.95" fill="none" stroke="#7a7a18" stroke-width="0.8"/>
<circle cx="337.3" cy="467.9" r="0.95" fill="none" stroke="#3a8a28" stroke-width="0.8"/>
<path d="M213.9 472.8 L215.0 470.9 L216.1 472.8Z" fill="none" stroke="#3a8a28" stroke-width="0.8"/>
<circle cx="222.9" cy="471.9" r="0.95" fill="none" stroke="#b06a14" stroke-width="0.8"/>
<circle cx="226.8" cy="471.9" r="0.95" fill="none" stroke="#8a320c" stroke-width="0.8"/>
<circle cx="238.7" cy="471.9" r="0.95" fill="none" stroke="#8a320c" stroke-width="0.8"/>
<circle cx="242.6" cy="471.9" r="0.95" fill="none" stroke="#b87a18" stroke-width="0.8"/>
<circle cx="246.6" cy="471.9" r="0.95" fill="none" stroke="#a8480e" stroke-width="0.8"/>
<circle cx="250.5" cy="471.9" r="0.95" fill="none" stroke="#a8480e" stroke-width="0.8"/>
<path d="M253.3 472.8 L254.4 470.9 L255.5 472.8Z" fill="none" stroke="#9a3810" stroke-width="0.8"/>
<circle cx="258.4" cy="471.9" r="0.95" fill="none" stroke="#a03410" stroke-width="0.8"/>
<circle cx="262.3" cy="471.9" r="0.95" fill="none" stroke="#a8480e" stroke-width="0.8"/>
<path d="M265.2 472.8 L266.3 470.9 L267.4 472.8Z" fill="none" stroke="#a8480e" stroke-width="0.8"/>
<circle cx="270.2" cy="471.9" r="0.95" fill="none" stroke="#b06a14" stroke-width="0.8"/>
<path d="M273.1 472.8 L274.2 470.9 L275.3 472.8Z" fill="none" stroke="#a03410" stroke-width="0.8"/>
<path d="M277.0 472.8 L278.1 470.9 L279.2 472.8Z" fill="none" stroke="#b87a18" stroke-width="0.8"/>
<circle cx="286.0" cy="471.9" r="0.95" fill="none" stroke="#9a3810" stroke-width="0.8"/>
<path d="M288.9 472.8 L290.0 470.9 L291.1 472.8Z" fill="none" stroke="#c04410" stroke-width="0.8"/>
<path d="M292.8 472.8 L293.9 470.9 L295.0 472.8Z" fill="none" stroke="#b87a18" stroke-width="0.8"/>
<path d="M296.7 472.8 L297.8 470.9 L298.9 472.8Z" fill="none" stroke="#b87a18" stroke-width="0.8"/>
<circle cx="301.8" cy="471.9" r="0.95" fill="none" stroke="#b05210" stroke-width="0.8"/>
<circle cx="305.7" cy="471.9" r="0.95" fill="none" stroke="#a8480e" stroke-width="0.8"/>
<path d="M308.6 472.8 L309.7 470.9 L310.8 472.8Z" fill="none" stroke="#8a320c" stroke-width="0.8"/>
<path d="M312.5 472.8 L313.6 470.9 L314.7 472.8Z" fill="none" stroke="#8a320c" stroke-width="0.8"/>
<path d="M316.5 472.8 L317.6 470.9 L318.7 472.8Z" fill="none" stroke="#8a3a14" stroke-width="0.8"/>
<circle cx="321.5" cy="471.9" r="0.95" fill="none" stroke="#a03410" stroke-width="0.8"/>
<path d="M324.4 472.8 L325.5 470.9 L326.6 472.8Z" fill="none" stroke="#b05210" stroke-width="0.8"/>
<circle cx="329.4" cy="471.9" r="0.95" fill="none" stroke="#c04410" stroke-width="0.8"/>
<path d="M336.2 472.8 L337.3 470.9 L338.4 472.8Z" fill="none" stroke="#1f7048" stroke-width="0.8"/>
<circle cx="215.0" cy="476.0" r="0.95" fill="none" stroke="#1a6a58" stroke-width="0.8"/>
<circle cx="218.9" cy="476.0" r="0.95" fill="none" stroke="#b87a18" stroke-width="0.8"/>
<path d="M221.8 476.9 L222.9 475.0 L224.0 476.9Z" fill="none" stroke="#b87a18" stroke-width="0.8"/>
<circle cx="226.8" cy="476.0" r="0.95" fill="none" stroke="#a03410" stroke-width="0.8"/>
<path d="M233.6 476.9 L234.7 475.0 L235.8 476.9Z" fill="none" stroke="#a03410" stroke-width="0.8"/>
<circle cx="238.7" cy="476.0" r="0.95" fill="none" stroke="#b06a14" stroke-width="0.8"/>
<circle cx="242.6" cy="476.0" r="0.95" fill="none" stroke="#b06a14" stroke-width="0.8"/>
<path d="M249.4 476.9 L250.5 475.0 L251.6 476.9Z" fill="none" stroke="#8a3a14" stroke-width="0.8"/>
<path d="M253.3 476.9 L254.4 475.0 L255.5 476.9Z" fill="none" stroke="#a8801c" stroke-width="0.8"/>
<circle cx="258.4" cy="476.0" r="0.95" fill="none" stroke="#a03410" stroke-width="0.8"/>
<path d="M261.2 476.9 L262.3 475.0 L263.4 476.9Z" fill="none" stroke="#8a3a14" stroke-width="0.8"/>
<path d="M265.2 476.9 L266.3 475.0 L267.4 476.9Z" fill="none" stroke="#c04410" stroke-width="0.8"/>
<circle cx="270.2" cy="476.0" r="0.95" fill="none" stroke="#9a3810" stroke-width="0.8"/>
<circle cx="274.2" cy="476.0" r="0.95" fill="none" stroke="#9a3810" stroke-width="0.8"/>
<path d="M277.0 476.9 L278.1 475.0 L279.2 476.9Z" fill="none" stroke="#8a3a14" stroke-width="0.8"/>
<circle cx="282.1" cy="476.0" r="0.95" fill="none" stroke="#a8480e" stroke-width="0.8"/>
<circle cx="286.0" cy="476.0" r="0.95" fill="none" stroke="#8a320c" stroke-width="0.8"/>
<path d="M288.9 476.9 L290.0 475.0 L291.1 476.9Z" fill="none" stroke="#8a3a14" stroke-width="0.8"/>
<path d="M292.8 476.9 L293.9 475.0 L295.0 476.9Z" fill="none" stroke="#a8801c" stroke-width="0.8"/>
<circle cx="297.8" cy="476.0" r="0.95" fill="none" stroke="#8a3a14" stroke-width="0.8"/>
<path d="M300.7 476.9 L301.8 475.0 L302.9 476.9Z" fill="none" stroke="#c04410" stroke-width="0.8"/>
<circle cx="305.7" cy="476.0" r="0.95" fill="none" stroke="#b87a18" stroke-width="0.8"/>
<circle cx="309.7" cy="476.0" r="0.95" fill="none" stroke="#a8801c" stroke-width="0.8"/>
<circle cx="313.6" cy="476.0" r="0.95" fill="none" stroke="#b06a14" stroke-width="0.8"/>
<path d="M316.5 476.9 L317.6 475.0 L318.7 476.9Z" fill="none" stroke="#8a3a14" stroke-width="0.8"/>
<circle cx="321.5" cy="476.0" r="0.95" fill="none" stroke="#a8801c" stroke-width="0.8"/>
<path d="M324.4 476.9 L325.5 475.0 L326.6 476.9Z" fill="none" stroke="#b06a14" stroke-width="0.8"/>
<circle cx="329.4" cy="476.0" r="0.95" fill="none" stroke="#9a3810" stroke-width="0.8"/>
<path d="M332.2 476.9 L333.4 475.0 L334.5 476.9Z" fill="none" stroke="#5a8a18" stroke-width="0.8"/>
<path d="M336.2 476.9 L337.3 475.0 L338.4 476.9Z" fill="none" stroke="#1e7a34" stroke-width="0.8"/>
<circle cx="215.0" cy="480.0" r="0.95" fill="none" stroke="#1f7048" stroke-width="0.8"/>
<path d="M217.8 480.9 L218.9 479.0 L220.0 480.9Z" fill="none" stroke="#a03410" stroke-width="0.8"/>
<circle cx="222.9" cy="480.0" r="0.95" fill="none" stroke="#a8480e" stroke-width="0.8"/>
<circle cx="226.8" cy="480.0" r="0.95" fill="none" stroke="#c04410" stroke-width="0.8"/>
<circle cx="230.8" cy="480.0" r="0.95" fill="none" stroke="#c04410" stroke-width="0.8"/>
<path d="M233.6 480.9 L234.7 479.0 L235.8 480.9Z" fill="none" stroke="#b06a14" stroke-width="0.8"/>
<circle cx="238.7" cy="480.0" r="0.95" fill="none" stroke="#b87a18" stroke-width="0.8"/>
<path d="M241.5 480.9 L242.6 479.0 L243.7 480.9Z" fill="none" stroke="#9a3810" stroke-width="0.8"/>
<path d="M245.5 480.9 L246.6 479.0 L247.7 480.9Z" fill="none" stroke="#a8801c" stroke-width="0.8"/>
<circle cx="250.5" cy="480.0" r="0.95" fill="none" stroke="#b87a18" stroke-width="0.8"/>
<circle cx="254.4" cy="480.0" r="0.95" fill="none" stroke="#b05210" stroke-width="0.8"/>
<circle cx="258.4" cy="480.0" r="0.95" fill="none" stroke="#b06a14" stroke-width="0.8"/>
<circle cx="262.3" cy="480.0" r="0.95" fill="none" stroke="#b05210" stroke-width="0.8"/>
<path d="M265.2 480.9 L266.3 479.0 L267.4 480.9Z" fill="none" stroke="#b87a18" stroke-width="0.8"/>
<path d="M269.1 480.9 L270.2 479.0 L271.3 480.9Z" fill="none" stroke="#a8480e" stroke-width="0.8"/>
<path d="M273.1 480.9 L274.2 479.0 L275.3 480.9Z" fill="none" stroke="#b06a14" stroke-width="0.8"/>
<path d="M277.0 480.9 L278.1 479.0 L279.2 480.9Z" fill="none" stroke="#a8801c" stroke-width="0.8"/>
<path d="M281.0 480.9 L282.1 479.0 L283.2 480.9Z" fill="none" stroke="#a8801c" stroke-width="0.8"/>
<circle cx="286.0" cy="480.0" r="0.95" fill="none" stroke="#a8801c" stroke-width="0.8"/>
<path d="M288.9 480.9 L290.0 479.0 L291.1 480.9Z" fill="none" stroke="#8a320c" stroke-width="0.8"/>
<path d="M292.8 480.9 L293.9 479.0 L295.0 480.9Z" fill="none" stroke="#8a320c" stroke-width="0.8"/>
<circle cx="297.8" cy="480.0" r="0.95" fill="none" stroke="#8a3a14" stroke-width="0.8"/>
<path d="M300.7 480.9 L301.8 479.0 L302.9 480.9Z" fill="none" stroke="#a8801c" stroke-width="0.8"/>
<circle cx="309.7" cy="480.0" r="0.95" fill="none" stroke="#b87a18" stroke-width="0.8"/>
<circle cx="313.6" cy="480.0" r="0.95" fill="none" stroke="#a8480e" stroke-width="0.8"/>
<path d="M316.5 480.9 L317.6 479.0 L318.7 480.9Z" fill="none" stroke="#b87a18" stroke-width="0.8"/>
<path d="M320.4 480.9 L321.5 479.0 L322.6 480.9Z" fill="none" stroke="#6a7a20" stroke-width="0.8"/>
<circle cx="325.5" cy="480.0" r="0.95" fill="none" stroke="#9a3810" stroke-width="0.8"/>
<circle cx="333.4" cy="480.0" r="0.95" fill="none" stroke="#b06a14" stroke-width="0.8"/>
<circle cx="337.3" cy="480.0" r="0.95" fill="none" stroke="#1f7048" stroke-width="0.8"/>
<circle cx="215.0" cy="484.0" r="0.95" fill="none" stroke="#2a8030" stroke-width="0.8"/>
<path d="M217.8 484.9 L218.9 483.0 L220.0 484.9Z" fill="none" stroke="#a03410" stroke-width="0.8"/>
<circle cx="222.9" cy="484.0" r="0.95" fill="none" stroke="#5a8a18" stroke-width="0.8"/>
<circle cx="226.8" cy="484.0" r="0.95" fill="none" stroke="#7a7a18" stroke-width="0.8"/>
<circle cx="230.8" cy="484.0" r="0.95" fill="none" stroke="#b87a18" stroke-width="0.8"/>
<circle cx="234.7" cy="484.0" r="0.95" fill="none" stroke="#5a8a18" stroke-width="0.8"/>
<path d="M237.6 484.9 L238.7 483.0 L239.8 484.9Z" fill="none" stroke="#5a8a18" stroke-width="0.8"/>
<circle cx="242.6" cy="484.0" r="0.95" fill="none" stroke="#a03410" stroke-width="0.8"/>
<path d="M245.5 484.9 L246.6 483.0 L247.7 484.9Z" fill="none" stroke="#3a8a20" stroke-width="0.8"/>
<circle cx="250.5" cy="484.0" r="0.95" fill="none" stroke="#a8801c" stroke-width="0.8"/>
<path d="M253.3 484.9 L254.4 483.0 L255.5 484.9Z" fill="none" stroke="#5a8a18" stroke-width="0.8"/>
<circle cx="262.3" cy="484.0" r="0.95" fill="none" stroke="#5a8a18" stroke-width="0.8"/>
<circle cx="266.3" cy="484.0" r="0.95" fill="none" stroke="#7a7a18" stroke-width="0.8"/>
<circle cx="270.2" cy="484.0" r="0.95" fill="none" stroke="#8a320c" stroke-width="0.8"/>
<path d="M273.1 484.9 L274.2 483.0 L275.3 484.9Z" fill="none" stroke="#9a3810" stroke-width="0.8"/>
<path d="M277.0 484.9 L278.1 483.0 L279.2 484.9Z" fill="none" stroke="#a8801c" stroke-width="0.8"/>
<path d="M281.0 484.9 L282.1 483.0 L283.2 484.9Z" fill="none" stroke="#a03410" stroke-width="0.8"/>
<path d="M284.9 484.9 L286.0 483.0 L287.1 484.9Z" fill="none" stroke="#b05210" stroke-width="0.8"/>
<path d="M292.8 484.9 L293.9 483.0 L295.0 484.9Z" fill="none" stroke="#b05210" stroke-width="0.8"/>
<path d="M296.7 484.9 L297.8 483.0 L298.9 484.9Z" fill="none" stroke="#b06a14" stroke-width="0.8"/>
<path d="M300.7 484.9 L301.8 483.0 L302.9 484.9Z" fill="none" stroke="#7a7a18" stroke-width="0.8"/>
<circle cx="305.7" cy="484.0" r="0.95" fill="none" stroke="#3a8a20" stroke-width="0.8"/>
<path d="M308.6 484.9 L309.7 483.0 L310.8 484.9Z" fill="none" stroke="#5a8a18" stroke-width="0.8"/>
<circle cx="313.6" cy="484.0" r="0.95" fill="none" stroke="#7a7a18" stroke-width="0.8"/>
<circle cx="317.6" cy="484.0" r="0.95" fill="none" stroke="#a8801c" stroke-width="0.8"/>
<circle cx="321.5" cy="484.0" r="0.95" fill="none" stroke="#3a8a20" stroke-width="0.8"/>
<path d="M213.9 489.0 L215.0 487.1 L216.1 489.0Z" fill="none" stroke="#2a8030" stroke-width="0.8"/>
<circle cx="218.9" cy="488.1" r="0.95" fill="none" stroke="#2a8030" stroke-width="0.8"/>
<circle cx="222.9" cy="488.1" r="0.95" fill="none" stroke="#1f7048" stroke-width="0.8"/>
<path d="M225.7 489.0 L226.8 487.1 L227.9 489.0Z" fill="none" stroke="#1a6a58" stroke-width="0.8"/>
<path d="M233.6 489.0 L234.7 487.1 L235.8 489.0Z" fill="none" stroke="#1f7048" stroke-width="0.8"/>
<path d="M237.6 489.0 L238.7 487.1 L239.8 489.0Z" fill="none" stroke="#2a8030" stroke-width="0.8"/>
<circle cx="242.6" cy="488.1" r="0.95" fill="none" stroke="#1a6a58" stroke-width="0.8"/>
<circle cx="246.6" cy="488.1" r="0.95" fill="none" stroke="#1a6a58" stroke-width="0.8"/>
<path d="M249.4 489.0 L250.5 487.1 L251.6 489.0Z" fill="none" stroke="#1e7a34" stroke-width="0.8"/>
<circle cx="254.4" cy="488.1" r="0.95" fill="none" stroke="#2a8030" stroke-width="0.8"/>
<path d="M261.2 489.0 L262.3 487.1 L263.4 489.0Z" fill="none" stroke="#1e7a34" stroke-width="0.8"/>
<circle cx="266.3" cy="488.1" r="0.95" fill="none" stroke="#2a8030" stroke-width="0.8"/>
<circle cx="270.2" cy="488.1" r="0.95" fill="none" stroke="#3a8a28" stroke-width="0.8"/>
<path d="M273.1 489.0 L274.2 487.1 L275.3 489.0Z" fill="none" stroke="#1e7a34" stroke-width="0.8"/>
<circle cx="278.1" cy="488.1" r="0.95" fill="none" stroke="#3a8a28" stroke-width="0.8"/>
<circle cx="282.1" cy="488.1" r="0.95" fill="none" stroke="#1e7a34" stroke-width="0.8"/>
<path d="M284.9 489.0 L286.0 487.1 L287.1 489.0Z" fill="none" stroke="#1a6a58" stroke-width="0.8"/>
<path d="M288.9 489.0 L290.0 487.1 L291.1 489.0Z" fill="none" stroke="#1f7048" stroke-width="0.8"/>
<circle cx="293.9" cy="488.1" r="0.95" fill="none" stroke="#1e7a34" stroke-width="0.8"/>
<path d="M296.7 489.0 L297.8 487.1 L298.9 489.0Z" fill="none" stroke="#3a8a28" stroke-width="0.8"/>
<path d="M300.7 489.0 L301.8 487.1 L302.9 489.0Z" fill="none" stroke="#1e7a34" stroke-width="0.8"/>
<circle cx="305.7" cy="488.1" r="0.95" fill="none" stroke="#3a8a28" stroke-width="0.8"/>
<path d="M308.6 489.0 L309.7 487.1 L310.8 489.0Z" fill="none" stroke="#1a6a58" stroke-width="0.8"/>
<circle cx="313.6" cy="488.1" r="0.95" fill="none" stroke="#1f7048" stroke-width="0.8"/>
<path d="M316.5 489.0 L317.6 487.1 L318.7 489.0Z" fill="none" stroke="#1e7a34" stroke-width="0.8"/>
<circle cx="321.5" cy="488.1" r="0.95" fill="none" stroke="#1f7048" stroke-width="0.8"/>
<circle cx="325.5" cy="488.1" r="0.95" fill="none" stroke="#2a8030" stroke-width="0.8"/>
<circle cx="329.4" cy="488.1" r="0.95" fill="none" stroke="#1a6a58" stroke-width="0.8"/>
<circle cx="333.4" cy="488.1" r="0.95" fill="none" stroke="#1a6a58" stroke-width="0.8"/>
<path d="M336.2 489.0 L337.3 487.1 L338.4 489.0Z" fill="none" stroke="#1e7a34" stroke-width="0.8"/>
</svg>
<div class="r" style="left:307.8px;top:537px;width:187px;height:11px;background:linear-gradient(90deg,#1040a8 0%,#0a4cb4 12%,#0868be 20%,#08a0c0 28%,#00a8a8 36%,#00a874 45%,#00a83c 54%,#18b010 61%,#70bc00 67%,#d8c000 73%,#f8a400 79%,#f87800 87%,#f44c08 93%,#ee2c10 100%);"></div>
<div class="t" style="left:314.6px;top:543.9px;font-size:5.2px;font-weight:normal;color:rgba(235,255,245,0.6);transform:translate(-50%,-50%);">0</div>
<div class="t" style="left:331.93px;top:543.9px;font-size:5.2px;font-weight:normal;color:rgba(235,255,245,0.6);transform:translate(-50%,-50%);">10%</div>
<div class="t" style="left:349.26px;top:543.9px;font-size:5.2px;font-weight:normal;color:rgba(235,255,245,0.6);transform:translate(-50%,-50%);">20%</div>
<div class="t" style="left:366.59000000000003px;top:543.9px;font-size:5.2px;font-weight:normal;color:rgba(235,255,245,0.6);transform:translate(-50%,-50%);">30%</div>
<div class="t" style="left:383.92px;top:543.9px;font-size:5.2px;font-weight:normal;color:rgba(235,255,245,0.6);transform:translate(-50%,-50%);">40%</div>
<div class="t" style="left:401.25px;top:543.9px;font-size:5.2px;font-weight:normal;color:rgba(235,255,245,0.6);transform:translate(-50%,-50%);">50%</div>
<div class="t" style="left:418.58000000000004px;top:543.9px;font-size:5.2px;font-weight:normal;color:rgba(235,255,245,0.6);transform:translate(-50%,-50%);">60%</div>
<div class="t" style="left:435.91px;top:543.9px;font-size:5.2px;font-weight:normal;color:rgba(235,255,245,0.6);transform:translate(-50%,-50%);">70%</div>
<div class="t" style="left:453.24px;top:543.9px;font-size:5.2px;font-weight:normal;color:rgba(235,255,245,0.6);transform:translate(-50%,-50%);">80%</div>
<div class="t" style="left:470.57px;top:543.9px;font-size:5.2px;font-weight:normal;color:rgba(235,255,245,0.6);transform:translate(-50%,-50%);">90%</div>
<div class="t" style="left:487.9px;top:543.9px;font-size:5.2px;font-weight:normal;color:rgba(235,255,245,0.6);transform:translate(-50%,-50%);">100%</div>
<div class="t" style="left:176px;top:333.4px;font-size:5.8px;font-weight:bold;color:#1c2228;transform:translate(-100%,-50%);">1</div>
<div class="t" style="left:176px;top:379.15px;font-size:5.8px;font-weight:bold;color:#1c2228;transform:translate(-100%,-50%);">0.5</div>
<div class="t" style="left:176px;top:424.9px;font-size:5.8px;font-weight:bold;color:#1c2228;transform:translate(-100%,-50%);">0</div>
<div class="t" style="left:176px;top:470.65px;font-size:5.8px;font-weight:bold;color:#1c2228;transform:translate(-100%,-50%);">-0.5</div>
<div class="t" style="left:176px;top:516.4px;font-size:5.8px;font-weight:bold;color:#1c2228;transform:translate(-100%,-50%);">-1</div>
<div class="t" style="left:188.7px;top:534.8px;font-size:5.8px;font-weight:bold;color:#1c2228;transform:translate(-50%,-50%);">-1</div>
<div class="t" style="left:232.85px;top:534.8px;font-size:5.8px;font-weight:bold;color:#1c2228;transform:translate(-50%,-50%);">-0.5</div>
<div class="t" style="left:277.0px;top:534.8px;font-size:5.8px;font-weight:bold;color:#1c2228;transform:translate(-50%,-50%);">0</div>
<div class="t" style="left:321.15px;top:534.8px;font-size:5.8px;font-weight:bold;color:#1c2228;transform:translate(-50%,-50%);">0.5</div>
<div class="t" style="left:365.3px;top:534.8px;font-size:5.8px;font-weight:bold;color:#1c2228;transform:translate(-50%,-50%);">1</div>
<div class="t" style="left:264px;top:543.4px;font-size:6.6px;font-weight:bold;color:#1c2228;transform:translate(-50%,-50%);">Inphase i(t)</div>
<div class="t" style="left:161px;top:423.5px;font-size:6.4px;font-weight:bold;color:#1c2228;transform:translate(-50%,-50%) rotate(-90deg);">Quadrature q(t)</div>
<div class="r" style="left:555px;top:322px;width:432px;height:206px;background:#000;"></div>
<svg class="r" style="left:555px;top:322px;overflow:hidden" width="432" height="206" viewBox="555 322 432 206">
<line x1="561.5" y1="322" x2="561.5" y2="528" stroke="#202020" stroke-width="1"/>
<line x1="582.5" y1="322" x2="582.5" y2="528" stroke="#202020" stroke-width="1"/>
<line x1="603.5" y1="322" x2="603.5" y2="528" stroke="#202020" stroke-width="1"/>
<line x1="624.5" y1="322" x2="624.5" y2="528" stroke="#202020" stroke-width="1"/>
<line x1="646.5" y1="322" x2="646.5" y2="528" stroke="#202020" stroke-width="1"/>
<line x1="667.5" y1="322" x2="667.5" y2="528" stroke="#202020" stroke-width="1"/>
<line x1="688.5" y1="322" x2="688.5" y2="528" stroke="#202020" stroke-width="1"/>
<line x1="709.5" y1="322" x2="709.5" y2="528" stroke="#202020" stroke-width="1"/>
<line x1="731.5" y1="322" x2="731.5" y2="528" stroke="#202020" stroke-width="1"/>
<line x1="752.5" y1="322" x2="752.5" y2="528" stroke="#202020" stroke-width="1"/>
<line x1="773.5" y1="322" x2="773.5" y2="528" stroke="#202020" stroke-width="1"/>
<line x1="794.5" y1="322" x2="794.5" y2="528" stroke="#202020" stroke-width="1"/>
<line x1="816.5" y1="322" x2="816.5" y2="528" stroke="#202020" stroke-width="1"/>
<line x1="837.5" y1="322" x2="837.5" y2="528" stroke="#202020" stroke-width="1"/>
<line x1="858.5" y1="322" x2="858.5" y2="528" stroke="#202020" stroke-width="1"/>
<line x1="879.5" y1="322" x2="879.5" y2="528" stroke="#202020" stroke-width="1"/>
<line x1="901.5" y1="322" x2="901.5" y2="528" stroke="#202020" stroke-width="1"/>
<line x1="922.5" y1="322" x2="922.5" y2="528" stroke="#202020" stroke-width="1"/>
<line x1="943.5" y1="322" x2="943.5" y2="528" stroke="#202020" stroke-width="1"/>
<line x1="964.5" y1="322" x2="964.5" y2="528" stroke="#202020" stroke-width="1"/>
<line x1="986.5" y1="322" x2="986.5" y2="528" stroke="#202020" stroke-width="1"/>
<line x1="555" y1="527.5" x2="987" y2="527.5" stroke="#202020" stroke-width="1" stroke-dasharray="1 1"/>
<line x1="555" y1="517.5" x2="987" y2="517.5" stroke="#161616" stroke-width="1" stroke-dasharray="1 1"/>
<line x1="555" y1="511.5" x2="987" y2="511.5" stroke="#161616" stroke-width="1" stroke-dasharray="1 1"/>
<line x1="555" y1="507.5" x2="987" y2="507.5" stroke="#161616" stroke-width="1" stroke-dasharray="1 1"/>
<line x1="555" y1="504.5" x2="987" y2="504.5" stroke="#161616" stroke-width="1" stroke-dasharray="1 1"/>
<line x1="555" y1="501.5" x2="987" y2="501.5" stroke="#161616" stroke-width="1" stroke-dasharray="1 1"/>
<line x1="555" y1="499.5" x2="987" y2="499.5" stroke="#161616" stroke-width="1" stroke-dasharray="1 1"/>
<line x1="555" y1="497.5" x2="987" y2="497.5" stroke="#161616" stroke-width="1" stroke-dasharray="1 1"/>
<line x1="555" y1="495.5" x2="987" y2="495.5" stroke="#161616" stroke-width="1" stroke-dasharray="1 1"/>
<line x1="555" y1="493.5" x2="987" y2="493.5" stroke="#202020" stroke-width="1" stroke-dasharray="1 1"/>
<line x1="555" y1="483.5" x2="987" y2="483.5" stroke="#161616" stroke-width="1" stroke-dasharray="1 1"/>
<line x1="555" y1="477.5" x2="987" y2="477.5" stroke="#161616" stroke-width="1" stroke-dasharray="1 1"/>
<line x1="555" y1="473.5" x2="987" y2="473.5" stroke="#161616" stroke-width="1" stroke-dasharray="1 1"/>
<line x1="555" y1="470.5" x2="987" y2="470.5" stroke="#161616" stroke-width="1" stroke-dasharray="1 1"/>
<line x1="555" y1="467.5" x2="987" y2="467.5" stroke="#161616" stroke-width="1" stroke-dasharray="1 1"/>
<line x1="555" y1="465.5" x2="987" y2="465.5" stroke="#161616" stroke-width="1" stroke-dasharray="1 1"/>
<line x1="555" y1="463.5" x2="987" y2="463.5" stroke="#161616" stroke-width="1" stroke-dasharray="1 1"/>
<line x1="555" y1="461.5" x2="987" y2="461.5" stroke="#161616" stroke-width="1" stroke-dasharray="1 1"/>
<line x1="555" y1="459.5" x2="987" y2="459.5" stroke="#202020" stroke-width="1" stroke-dasharray="1 1"/>
<line x1="555" y1="449.5" x2="987" y2="449.5" stroke="#161616" stroke-width="1" stroke-dasharray="1 1"/>
<line x1="555" y1="443.5" x2="987" y2="443.5" stroke="#161616" stroke-width="1" stroke-dasharray="1 1"/>
<line x1="555" y1="439.5" x2="987" y2="439.5" stroke="#161616" stroke-width="1" stroke-dasharray="1 1"/>
<line x1="555" y1="436.5" x2="987" y2="436.5" stroke="#161616" stroke-width="1" stroke-dasharray="1 1"/>
<line x1="555" y1="433.5" x2="987" y2="433.5" stroke="#161616" stroke-width="1" stroke-dasharray="1 1"/>
<line x1="555" y1="431.5" x2="987" y2="431.5" stroke="#161616" stroke-width="1" stroke-dasharray="1 1"/>
<line x1="555" y1="429.5" x2="987" y2="429.5" stroke="#161616" stroke-width="1" stroke-dasharray="1 1"/>
<line x1="555" y1="427.5" x2="987" y2="427.5" stroke="#161616" stroke-width="1" stroke-dasharray="1 1"/>
<line x1="555" y1="425.5" x2="987" y2="425.5" stroke="#202020" stroke-width="1" stroke-dasharray="1 1"/>
<line x1="555" y1="415.5" x2="987" y2="415.5" stroke="#161616" stroke-width="1" stroke-dasharray="1 1"/>
<line x1="555" y1="409.5" x2="987" y2="409.5" stroke="#161616" stroke-width="1" stroke-dasharray="1 1"/>
<line x1="555" y1="405.5" x2="987" y2="405.5" stroke="#161616" stroke-width="1" stroke-dasharray="1 1"/>
<line x1="555" y1="402.5" x2="987" y2="402.5" stroke="#161616" stroke-width="1" stroke-dasharray="1 1"/>
<line x1="555" y1="399.5" x2="987" y2="399.5" stroke="#161616" stroke-width="1" stroke-dasharray="1 1"/>
<line x1="555" y1="397.5" x2="987" y2="397.5" stroke="#161616" stroke-width="1" stroke-dasharray="1 1"/>
<line x1="555" y1="395.5" x2="987" y2="395.5" stroke="#161616" stroke-width="1" stroke-dasharray="1 1"/>
<line x1="555" y1="393.5" x2="987" y2="393.5" stroke="#161616" stroke-width="1" stroke-dasharray="1 1"/>
<line x1="555" y1="391.5" x2="987" y2="391.5" stroke="#202020" stroke-width="1" stroke-dasharray="1 1"/>
<line x1="555" y1="381.5" x2="987" y2="381.5" stroke="#161616" stroke-width="1" stroke-dasharray="1 1"/>
<line x1="555" y1="375.5" x2="987" y2="375.5" stroke="#161616" stroke-width="1" stroke-dasharray="1 1"/>
<line x1="555" y1="371.5" x2="987" y2="371.5" stroke="#161616" stroke-width="1" stroke-dasharray="1 1"/>
<line x1="555" y1="367.5" x2="987" y2="367.5" stroke="#161616" stroke-width="1" stroke-dasharray="1 1"/>
<line x1="555" y1="365.5" x2="987" y2="365.5" stroke="#161616" stroke-width="1" stroke-dasharray="1 1"/>
<line x1="555" y1="362.5" x2="987" y2="362.5" stroke="#161616" stroke-width="1" stroke-dasharray="1 1"/>
<line x1="555" y1="360.5" x2="987" y2="360.5" stroke="#161616" stroke-width="1" stroke-dasharray="1 1"/>
<line x1="555" y1="359.5" x2="987" y2="359.5" stroke="#161616" stroke-width="1" stroke-dasharray="1 1"/>
<line x1="555" y1="357.5" x2="987" y2="357.5" stroke="#202020" stroke-width="1" stroke-dasharray="1 1"/>
<line x1="555" y1="347.5" x2="987" y2="347.5" stroke="#161616" stroke-width="1" stroke-dasharray="1 1"/>
<line x1="555" y1="341.5" x2="987" y2="341.5" stroke="#161616" stroke-width="1" stroke-dasharray="1 1"/>
<line x1="555" y1="337.5" x2="987" y2="337.5" stroke="#161616" stroke-width="1" stroke-dasharray="1 1"/>
<line x1="555" y1="333.5" x2="987" y2="333.5" stroke="#161616" stroke-width="1" stroke-dasharray="1 1"/>
<line x1="555" y1="331.5" x2="987" y2="331.5" stroke="#161616" stroke-width="1" stroke-dasharray="1 1"/>
<line x1="555" y1="328.5" x2="987" y2="328.5" stroke="#161616" stroke-width="1" stroke-dasharray="1 1"/>
<line x1="555" y1="326.5" x2="987" y2="326.5" stroke="#161616" stroke-width="1" stroke-dasharray="1 1"/>
<line x1="555" y1="325.5" x2="987" y2="325.5" stroke="#161616" stroke-width="1" stroke-dasharray="1 1"/>
<line x1="555" y1="323.5" x2="987" y2="323.5" stroke="#202020" stroke-width="1" stroke-dasharray="1 1"/>
<path d="M555.2 336.7 L581.2 340.8 L604.2 348.1 L625.0 355.4 L645.8 364.8 L666.7 374.6 L679.2 380.4 L700.0 388.8 L704.2 391.9 L710.4 400.2 L716.7 405.4 L726.0 416.9 L729.2 436.7 L730.3 460.0 L730.5 528.0" fill="none" stroke="#dcc454" stroke-width="0.75" stroke-linejoin="round"/>
</svg>
<div class="t" style="left:551px;top:326.2px;font-size:5.8px;font-weight:bold;color:#1c2228;transform:translate(-100%,-50%);">100</div>
<div class="t" style="left:551px;top:357.79px;font-size:5.8px;font-weight:bold;color:#1c2228;transform:translate(-100%,-50%);">10</div>
<div class="t" style="left:551px;top:391.85px;font-size:5.8px;font-weight:bold;color:#1c2228;transform:translate(-100%,-50%);">1</div>
<div class="t" style="left:551px;top:425.91px;font-size:5.8px;font-weight:bold;color:#1c2228;transform:translate(-100%,-50%);">0.1</div>
<div class="t" style="left:551px;top:459.97px;font-size:5.8px;font-weight:bold;color:#1c2228;transform:translate(-100%,-50%);">0.01</div>
<div class="t" style="left:551px;top:494.03px;font-size:5.8px;font-weight:bold;color:#1c2228;transform:translate(-100%,-50%);">0.001</div>
<div class="t" style="left:551px;top:528.4px;font-size:5.8px;font-weight:bold;color:#1c2228;transform:translate(-100%,-50%);">0.0001</div>
<div class="t" style="left:555px;top:537.2px;font-size:5.8px;font-weight:bold;color:#1c2228;transform:translate(-50%,-50%);">-0.3</div>
<div class="t" style="left:582.44px;top:537.2px;font-size:5.8px;font-weight:bold;color:#1c2228;transform:translate(-50%,-50%);">1</div>
<div class="t" style="left:603.6800000000001px;top:537.2px;font-size:5.8px;font-weight:bold;color:#1c2228;transform:translate(-50%,-50%);">2</div>
<div class="t" style="left:624.9200000000001px;top:537.2px;font-size:5.8px;font-weight:bold;color:#1c2228;transform:translate(-50%,-50%);">3</div>
<div class="t" style="left:646.1600000000001px;top:537.2px;font-size:5.8px;font-weight:bold;color:#1c2228;transform:translate(-50%,-50%);">4</div>
<div class="t" style="left:667.4000000000001px;top:537.2px;font-size:5.8px;font-weight:bold;color:#1c2228;transform:translate(-50%,-50%);">5</div>
<div class="t" style="left:688.6400000000001px;top:537.2px;font-size:5.8px;font-weight:bold;color:#1c2228;transform:translate(-50%,-50%);">6</div>
<div class="t" style="left:709.88px;top:537.2px;font-size:5.8px;font-weight:bold;color:#1c2228;transform:translate(-50%,-50%);">7</div>
<div class="t" style="left:731.12px;top:537.2px;font-size:5.8px;font-weight:bold;color:#1c2228;transform:translate(-50%,-50%);">8</div>
<div class="t" style="left:752.36px;top:537.2px;font-size:5.8px;font-weight:bold;color:#1c2228;transform:translate(-50%,-50%);">9</div>
<div class="t" style="left:773.6px;top:537.2px;font-size:5.8px;font-weight:bold;color:#1c2228;transform:translate(-50%,-50%);">10</div>
<div class="t" style="left:794.84px;top:537.2px;font-size:5.8px;font-weight:bold;color:#1c2228;transform:translate(-50%,-50%);">11</div>
<div class="t" style="left:816.08px;top:537.2px;font-size:5.8px;font-weight:bold;color:#1c2228;transform:translate(-50%,-50%);">12</div>
<div class="t" style="left:837.32px;top:537.2px;font-size:5.8px;font-weight:bold;color:#1c2228;transform:translate(-50%,-50%);">13</div>
<div class="t" style="left:858.56px;top:537.2px;font-size:5.8px;font-weight:bold;color:#1c2228;transform:translate(-50%,-50%);">14</div>
<div class="t" style="left:879.8px;top:537.2px;font-size:5.8px;font-weight:bold;color:#1c2228;transform:translate(-50%,-50%);">15</div>
<div class="t" style="left:901.04px;top:537.2px;font-size:5.8px;font-weight:bold;color:#1c2228;transform:translate(-50%,-50%);">16</div>
<div class="t" style="left:922.28px;top:537.2px;font-size:5.8px;font-weight:bold;color:#1c2228;transform:translate(-50%,-50%);">17</div>
<div class="t" style="left:943.52px;top:537.2px;font-size:5.8px;font-weight:bold;color:#1c2228;transform:translate(-50%,-50%);">18</div>
<div class="t" style="left:964.76px;top:537.2px;font-size:5.8px;font-weight:bold;color:#1c2228;transform:translate(-50%,-50%);">19</div>
<div class="t" style="left:986.0px;top:537.2px;font-size:5.8px;font-weight:bold;color:#1c2228;transform:translate(-50%,-50%);">20</div>
<div class="t" style="left:771px;top:545.4px;font-size:6.5px;font-weight:bold;color:#1c2228;transform:translate(-50%,-50%);">Peak Power / Avg. Power (dB)</div>
<div class="t" style="left:530px;top:424.5px;font-size:6.4px;font-weight:bold;color:#1c2228;transform:translate(-50%,-50%) rotate(-90deg);">Probability (%)</div>
<div class="r" style="left:34px;top:241px;width:90px;height:22px;background:#96aab4;"></div>
<div class="r" style="left:41px;top:246.5px;width:11px;height:11.0px;background:#22d022;"></div>
<div class="t" style="left:46.5px;top:252.5px;font-size:8.5px;font-weight:bold;color:#0a3a14;transform:translate(-50%,-50%);">A</div>
<div class="t" style="left:56px;top:253.1px;transform:translate(0,-50%);"><div style="font-size:9.2px;font-weight:normal;color:#13212c;transform:scaleX(0.9);transform-origin:0 50%;-webkit-text-stroke:0.35px #13212c;">Config</div></div>
<svg class="r" style="left:117.5px;top:249.0px" width="5" height="6" viewBox="0 0 5 6"><path d="M0.8 0.5 L4.5 3 L0.8 5.5Z" fill="#13212c"/></svg>
<div class="r" style="left:127px;top:241px;width:85px;height:22px;background:#96aab4;"></div>
<div class="r" style="left:137.8px;top:248.3px;width:7.5px;height:7.5px;background:#0b1a28;"></div>
<div class="t" style="left:153px;top:253.1px;transform:translate(0,-50%);"><div style="font-size:9.2px;font-weight:normal;color:#13212c;transform:scaleX(0.9);transform-origin:0 50%;-webkit-text-stroke:0.35px #13212c;">Stop</div></div>
<svg class="r" style="left:205.5px;top:249.0px" width="5" height="6" viewBox="0 0 5 6"><path d="M0.8 0.5 L4.5 3 L0.8 5.5Z" fill="#13212c"/></svg>
<div class="r" style="left:216px;top:241px;width:90px;height:22px;background:#96aab4;"></div>
<svg class="r" style="left:221px;top:243.5px" width="16" height="16" viewBox="0 0 16 16"><circle cx="7.3" cy="6.2" r="4.9" fill="#66bcdc" stroke="#13212c" stroke-width="1.5"/><path d="M10.8 9.8 L14.5 13.6" stroke="#13212c" stroke-width="2.6" stroke-linecap="round"/><text x="7.3" y="7.8" font-size="4" text-anchor="middle" fill="#1a6a8a" font-family="Liberation Sans">1:1</text></svg>
<div class="t" style="left:242px;top:248.2px;transform:translate(0,-50%);"><div style="font-size:9.2px;font-weight:normal;color:#13212c;transform:scaleX(0.9);transform-origin:0 50%;-webkit-text-stroke:0.35px #13212c;">Zoom</div></div>
<div class="t" style="left:242px;top:259.0px;transform:translate(0,-50%);"><div style="font-size:9.2px;font-weight:normal;color:#13212c;transform:scaleX(0.9);transform-origin:0 50%;-webkit-text-stroke:0.35px #13212c;">Out</div></div>
<div class="r" style="left:308px;top:241px;width:79px;height:22px;background:#ffffff;"></div>
<div class="r" style="left:387px;top:241px;width:7px;height:22px;background:#96aab4;"></div>
<div class="t" style="left:316px;top:247.6px;transform:translate(0,-50%);"><div style="font-size:9.2px;font-weight:normal;color:#13212c;transform:scaleX(0.9);transform-origin:0 50%;-webkit-text-stroke:0.2px #13212c;">Unit</div></div>
<div class="t" style="left:386.5px;top:260.0px;transform:translate(-100%,-50%);"><div style="font-size:9.2px;font-weight:normal;color:#13212c;transform:scaleX(0.9);transform-origin:100% 50%;-webkit-text-stroke:0.2px #13212c;">TSamples</div></div>
<svg class="r" style="left:388px;top:251.0px" width="5" height="4" viewBox="0 0 5 4"><path d="M0.3 0.5 L4.7 0.5 L2.5 3.5Z" fill="#13212c"/></svg>
<div class="r" style="left:397px;top:241px;width:96px;height:22px;background:#96aab4;"></div>
<svg class="r" style="left:403px;top:244.0px" width="20" height="18" viewBox="0 0 20 18"><path d="M1 1.5 L12 1.5 L6.5 8.5Z" fill="#0b1a28"/><path d="M11.5 8.5 V16 M7.8 12.2 H15.2" stroke="#2a9de0" stroke-width="2.2"/></svg>
<div class="t" style="left:424px;top:248.2px;transform:translate(0,-50%);"><div style="font-size:9.2px;font-weight:normal;color:#13212c;transform:scaleX(0.9);transform-origin:0 50%;-webkit-text-stroke:0.35px #13212c;">Show</div></div>
<div class="t" style="left:424px;top:259.0px;transform:translate(0,-50%);"><div style="font-size:9.2px;font-weight:normal;color:#13212c;transform:scaleX(0.9);transform-origin:0 50%;-webkit-text-stroke:0.35px #13212c;">Marker</div></div>
<div class="r" style="left:524px;top:240px;width:94px;height:24px;background:#96aab4;box-shadow:inset 0 0 0 2px #e98d3e;"></div>
<div class="r" style="left:533px;top:246.5px;width:11px;height:11.0px;background:#22d022;"></div>
<div class="t" style="left:538.5px;top:252.5px;font-size:8.5px;font-weight:bold;color:#0a3a14;transform:translate(-50%,-50%);">A</div>
<div class="t" style="left:548px;top:253.1px;transform:translate(0,-50%);"><div style="font-size:9.2px;font-weight:normal;color:#13212c;transform:scaleX(0.9);transform-origin:0 50%;-webkit-text-stroke:0.35px #13212c;">Config</div></div>
<svg class="r" style="left:609.5px;top:249.0px" width="5" height="6" viewBox="0 0 5 6"><path d="M0.8 0.5 L4.5 3 L0.8 5.5Z" fill="#13212c"/></svg>
<div class="r" style="left:619px;top:240.5px;width:85px;height:22.0px;background:#96aab4;"></div>
<div class="r" style="left:629.8px;top:247.8px;width:7.5px;height:7.5px;background:#0b1a28;"></div>
<div class="t" style="left:645px;top:252.6px;transform:translate(0,-50%);"><div style="font-size:9.2px;font-weight:normal;color:#13212c;transform:scaleX(0.9);transform-origin:0 50%;-webkit-text-stroke:0.35px #13212c;">Stop</div></div>
<svg class="r" style="left:697.5px;top:248.5px" width="5" height="6" viewBox="0 0 5 6"><path d="M0.8 0.5 L4.5 3 L0.8 5.5Z" fill="#13212c"/></svg>
<div class="r" style="left:707.5px;top:240.5px;width:90.0px;height:22.0px;background:#c9cacb;"></div>
<svg class="r" style="left:713.5px;top:243.0px" width="16" height="16" viewBox="0 0 16 16"><circle cx="6" cy="6" r="4.6" fill="none" stroke="#9a9c9e" stroke-width="1.2"/><path d="M9.4 9.4 L13.5 13.5" stroke="#9a9c9e" stroke-width="2" stroke-linecap="round"/><text x="6" y="7.6" font-size="4" text-anchor="middle" fill="#9a9c9e" font-family="Liberation Sans">1:1</text></svg>
<div class="t" style="left:733.5px;top:247.7px;transform:translate(0,-50%);"><div style="font-size:9.2px;font-weight:normal;color:#84898d;transform:scaleX(0.9);transform-origin:0 50%;-webkit-text-stroke:0.2px #84898d;">Zoom</div></div>
<div class="t" style="left:733.5px;top:258.5px;transform:translate(0,-50%);"><div style="font-size:9.2px;font-weight:normal;color:#84898d;transform:scaleX(0.9);transform-origin:0 50%;-webkit-text-stroke:0.2px #84898d;">Out</div></div>
<svg class="r" style="left:789.5px;top:239.5px" width="8" height="8" viewBox="0 0 8 8"><circle cx="4" cy="4" r="2.6" fill="none" stroke="#8e9295" stroke-width="1"/><path d="M2.2 2.2 L5.8 5.8" stroke="#8e9295" stroke-width="0.8"/></svg>
<div class="r" style="left:800px;top:240.5px;width:87.5px;height:22.0px;background:#96aab4;"></div>
<div class="t" style="left:808px;top:247.7px;transform:translate(0,-50%);"><div style="font-size:9.2px;font-weight:normal;color:#13212c;transform:scaleX(0.9);transform-origin:0 50%;-webkit-text-stroke:0.35px #13212c;">Reference</div></div>
<div class="t" style="left:808px;top:258.5px;transform:translate(0,-50%);"><div style="font-size:9.2px;font-weight:normal;color:#13212c;transform:scaleX(0.9);transform-origin:0 50%;-webkit-text-stroke:0.35px #13212c;">Curves</div></div>
<svg class="r" style="left:881.0px;top:249.0px" width="5" height="6" viewBox="0 0 5 6"><path d="M0.8 0.5 L4.5 3 L0.8 5.5Z" fill="#13212c"/></svg>
<div class="r" style="left:890px;top:240.5px;width:96px;height:22.0px;background:#96aab4;"></div>
<svg class="r" style="left:896px;top:243.5px" width="20" height="18" viewBox="0 0 20 18"><path d="M1 1.5 L12 1.5 L6.5 8.5Z" fill="#0b1a28"/><path d="M11.5 8.5 V16 M7.8 12.2 H15.2" stroke="#2a9de0" stroke-width="2.2"/></svg>
<div class="t" style="left:917px;top:247.7px;transform:translate(0,-50%);"><div style="font-size:9.2px;font-weight:normal;color:#13212c;transform:scaleX(0.9);transform-origin:0 50%;-webkit-text-stroke:0.35px #13212c;">Show</div></div>
<div class="t" style="left:917px;top:258.5px;transform:translate(0,-50%);"><div style="font-size:9.2px;font-weight:normal;color:#13212c;transform:scaleX(0.9);transform-origin:0 50%;-webkit-text-stroke:0.35px #13212c;">Marker</div></div>
<div class="r" style="left:32px;top:548px;width:156px;height:26px;background:#96aab4;box-shadow:inset 0 0 0 2px #e98d3e;"></div>
<div class="r" style="left:41px;top:555.5px;width:11px;height:11.0px;background:#f01010;"></div>
<div class="t" style="left:46.5px;top:561.5px;font-size:8.5px;font-weight:bold;color:#700;transform:translate(-50%,-50%);">A</div>
<div class="t" style="left:56px;top:562.1px;transform:translate(0,-50%);"><div style="font-size:9.2px;font-weight:normal;color:#13212c;transform:scaleX(0.9);transform-origin:0 50%;-webkit-text-stroke:0.35px #13212c;">Config</div></div>
<svg class="r" style="left:179.5px;top:558.0px" width="5" height="6" viewBox="0 0 5 6"><path d="M0.8 0.5 L4.5 3 L0.8 5.5Z" fill="#13212c"/></svg>
<div class="r" style="left:190px;top:549.5px;width:148px;height:23.0px;background:#96aab4;"></div>
<div class="r" style="left:200.8px;top:557.3px;width:7.5px;height:7.5px;background:#0b1a28;"></div>
<div class="t" style="left:216px;top:562.1px;transform:translate(0,-50%);"><div style="font-size:9.2px;font-weight:normal;color:#13212c;transform:scaleX(0.9);transform-origin:0 50%;-webkit-text-stroke:0.35px #13212c;">Stop</div></div>
<svg class="r" style="left:331.5px;top:558.0px" width="5" height="6" viewBox="0 0 5 6"><path d="M0.8 0.5 L4.5 3 L0.8 5.5Z" fill="#13212c"/></svg>
<div class="r" style="left:341px;top:549.5px;width:152px;height:23.0px;background:#c9cacb;"></div>
<svg class="r" style="left:347px;top:552.5px" width="16" height="16" viewBox="0 0 16 16"><circle cx="6" cy="6" r="4.6" fill="none" stroke="#9a9c9e" stroke-width="1.2"/><path d="M9.4 9.4 L13.5 13.5" stroke="#9a9c9e" stroke-width="2" stroke-linecap="round"/><text x="6" y="7.6" font-size="4" text-anchor="middle" fill="#9a9c9e" font-family="Liberation Sans">1:1</text></svg>
<div class="t" style="left:367px;top:557.2px;transform:translate(0,-50%);"><div style="font-size:9.2px;font-weight:normal;color:#84898d;transform:scaleX(0.9);transform-origin:0 50%;-webkit-text-stroke:0.2px #84898d;">Zoom</div></div>
<div class="t" style="left:367px;top:568.0px;transform:translate(0,-50%);"><div style="font-size:9.2px;font-weight:normal;color:#84898d;transform:scaleX(0.9);transform-origin:0 50%;-webkit-text-stroke:0.2px #84898d;">Out</div></div>
<svg class="r" style="left:485px;top:548.5px" width="8" height="8" viewBox="0 0 8 8"><circle cx="4" cy="4" r="2.6" fill="none" stroke="#8e9295" stroke-width="1"/><path d="M2.2 2.2 L5.8 5.8" stroke="#8e9295" stroke-width="0.8"/></svg>
<div class="r" style="left:524px;top:548px;width:93px;height:26px;background:#96aab4;box-shadow:inset 0 0 0 2px #e98d3e;"></div>
<div class="r" style="left:533px;top:555.5px;width:11px;height:11.0px;background:#f01010;"></div>
<div class="t" style="left:538.5px;top:561.5px;font-size:8.5px;font-weight:bold;color:#700;transform:translate(-50%,-50%);">A</div>
<div class="t" style="left:548px;top:562.1px;transform:translate(0,-50%);"><div style="font-size:9.2px;font-weight:normal;color:#13212c;transform:scaleX(0.9);transform-origin:0 50%;-webkit-text-stroke:0.35px #13212c;">Config</div></div>
<svg class="r" style="left:608.5px;top:558.0px" width="5" height="6" viewBox="0 0 5 6"><path d="M0.8 0.5 L4.5 3 L0.8 5.5Z" fill="#13212c"/></svg>
<div class="r" style="left:619px;top:549.5px;width:85px;height:23.0px;background:#96aab4;"></div>
<div class="r" style="left:629.8px;top:557.3px;width:7.5px;height:7.5px;background:#0b1a28;"></div>
<div class="t" style="left:645px;top:562.1px;transform:translate(0,-50%);"><div style="font-size:9.2px;font-weight:normal;color:#13212c;transform:scaleX(0.9);transform-origin:0 50%;-webkit-text-stroke:0.35px #13212c;">Stop</div></div>
<svg class="r" style="left:697.5px;top:558.0px" width="5" height="6" viewBox="0 0 5 6"><path d="M0.8 0.5 L4.5 3 L0.8 5.5Z" fill="#13212c"/></svg>
<div class="r" style="left:707.5px;top:549.5px;width:90.0px;height:23.0px;background:#c9cacb;"></div>
<svg class="r" style="left:713.5px;top:552.5px" width="16" height="16" viewBox="0 0 16 16"><circle cx="6" cy="6" r="4.6" fill="none" stroke="#9a9c9e" stroke-width="1.2"/><path d="M9.4 9.4 L13.5 13.5" stroke="#9a9c9e" stroke-width="2" stroke-linecap="round"/><text x="6" y="7.6" font-size="4" text-anchor="middle" fill="#9a9c9e" font-family="Liberation Sans">1:1</text></svg>
<div class="t" style="left:733.5px;top:557.2px;transform:translate(0,-50%);"><div style="font-size:9.2px;font-weight:normal;color:#84898d;transform:scaleX(0.9);transform-origin:0 50%;-webkit-text-stroke:0.2px #84898d;">Zoom</div></div>
<div class="t" style="left:733.5px;top:568.0px;transform:translate(0,-50%);"><div style="font-size:9.2px;font-weight:normal;color:#84898d;transform:scaleX(0.9);transform-origin:0 50%;-webkit-text-stroke:0.2px #84898d;">Out</div></div>
<svg class="r" style="left:789.5px;top:548.5px" width="8" height="8" viewBox="0 0 8 8"><circle cx="4" cy="4" r="2.6" fill="none" stroke="#8e9295" stroke-width="1"/><path d="M2.2 2.2 L5.8 5.8" stroke="#8e9295" stroke-width="0.8"/></svg>
<div class="r" style="left:800px;top:549.5px;width:87.5px;height:23.0px;background:#96aab4;"></div>
<div class="t" style="left:808px;top:557.2px;transform:translate(0,-50%);"><div style="font-size:9.2px;font-weight:normal;color:#13212c;transform:scaleX(0.9);transform-origin:0 50%;-webkit-text-stroke:0.35px #13212c;">Reference</div></div>
<div class="t" style="left:808px;top:568.0px;transform:translate(0,-50%);"><div style="font-size:9.2px;font-weight:normal;color:#13212c;transform:scaleX(0.9);transform-origin:0 50%;-webkit-text-stroke:0.35px #13212c;">Curves</div></div>
<svg class="r" style="left:881.0px;top:558.5px" width="5" height="6" viewBox="0 0 5 6"><path d="M0.8 0.5 L4.5 3 L0.8 5.5Z" fill="#13212c"/></svg>
<div class="r" style="left:890px;top:549.5px;width:96px;height:23.0px;background:#96aab4;"></div>
<svg class="r" style="left:896px;top:553.0px" width="20" height="18" viewBox="0 0 20 18"><path d="M1 1.5 L12 1.5 L6.5 8.5Z" fill="#0b1a28"/><path d="M11.5 8.5 V16 M7.8 12.2 H15.2" stroke="#2a9de0" stroke-width="2.2"/></svg>
<div class="t" style="left:917px;top:557.2px;transform:translate(0,-50%);"><div style="font-size:9.2px;font-weight:normal;color:#13212c;transform:scaleX(0.9);transform-origin:0 50%;-webkit-text-stroke:0.35px #13212c;">Show</div></div>
<div class="t" style="left:917px;top:568.0px;transform:translate(0,-50%);"><div style="font-size:9.2px;font-weight:normal;color:#13212c;transform:scaleX(0.9);transform-origin:0 50%;-webkit-text-stroke:0.35px #13212c;">Marker</div></div>
</body></html>
